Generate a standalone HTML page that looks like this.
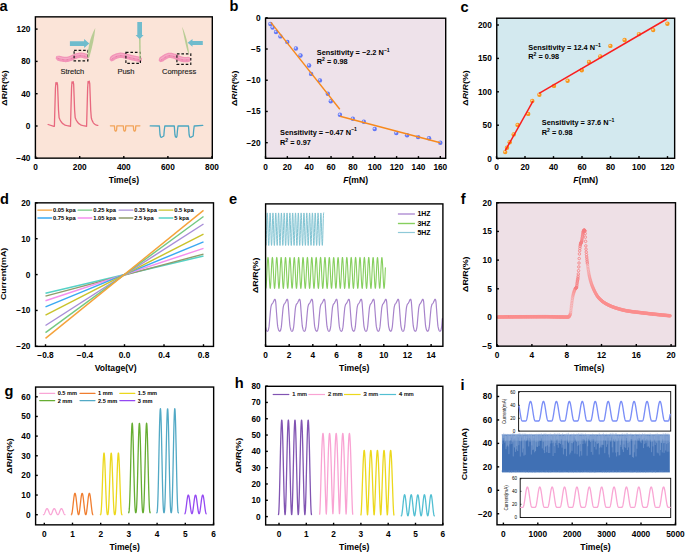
<!DOCTYPE html>
<html><head><meta charset="utf-8"><style>
html,body{margin:0;padding:0;background:#fff;width:685px;height:552px;overflow:hidden}
svg{display:block;font-family:"Liberation Sans", sans-serif}
</style></head><body>
<svg width="685" height="552" viewBox="0 0 685 552">
<rect x="35.4" y="16.85" width="176.9" height="141.3" fill="#fbe4d8"/>
<line x1="35.6" y1="158.15" x2="35.6" y2="155.95" stroke="#000" stroke-width="1.4"/>
<text x="35.6" y="170.05" font-size="8.3" text-anchor="middle" font-weight="bold" fill="#000">0</text>
<line x1="79.7" y1="158.15" x2="79.7" y2="155.95" stroke="#000" stroke-width="1.4"/>
<text x="79.7" y="170.05" font-size="8.3" text-anchor="middle" font-weight="bold" fill="#000">200</text>
<line x1="123.8" y1="158.15" x2="123.8" y2="155.95" stroke="#000" stroke-width="1.4"/>
<text x="123.8" y="170.05" font-size="8.3" text-anchor="middle" font-weight="bold" fill="#000">400</text>
<line x1="167.9" y1="158.15" x2="167.9" y2="155.95" stroke="#000" stroke-width="1.4"/>
<text x="167.9" y="170.05" font-size="8.3" text-anchor="middle" font-weight="bold" fill="#000">600</text>
<line x1="212" y1="158.15" x2="212" y2="155.95" stroke="#000" stroke-width="1.4"/>
<text x="212" y="170.05" font-size="8.3" text-anchor="middle" font-weight="bold" fill="#000">800</text>
<line x1="35.4" y1="158.3" x2="37.6" y2="158.3" stroke="#000" stroke-width="1.4"/>
<text x="30.4" y="161.29" font-size="8.3" text-anchor="end" font-weight="bold" fill="#000">−40</text>
<line x1="35.4" y1="126" x2="37.6" y2="126" stroke="#000" stroke-width="1.4"/>
<text x="30.4" y="128.99" font-size="8.3" text-anchor="end" font-weight="bold" fill="#000">0</text>
<line x1="35.4" y1="93.7" x2="37.6" y2="93.7" stroke="#000" stroke-width="1.4"/>
<text x="30.4" y="96.69" font-size="8.3" text-anchor="end" font-weight="bold" fill="#000">40</text>
<line x1="35.4" y1="61.4" x2="37.6" y2="61.4" stroke="#000" stroke-width="1.4"/>
<text x="30.4" y="64.39" font-size="8.3" text-anchor="end" font-weight="bold" fill="#000">80</text>
<line x1="35.4" y1="29.1" x2="37.6" y2="29.1" stroke="#000" stroke-width="1.4"/>
<text x="30.4" y="32.09" font-size="8.3" text-anchor="end" font-weight="bold" fill="#000">120</text>
<path d="M48.1 124.5 L53.9 126.3 L54.4 126.3 L55 104 L55.45 88 L55.9 82.7 L56.5 84.1 L57.05 82.5 L57.55 85 L58 96 L58.5 110 L59.1 117.8 L60.12 120.09 L61.14 121.77 L62.15 123 L63.17 123.9 L64.19 124.57 L65.21 125.05 L66.23 125.41 L67.25 125.67 L68.26 125.87 L69.28 126.01 L70.3 126.11 L70.5 126.3 L71.1 104 L71.55 88 L72 81.8 L72.6 83.2 L73.15 81.6 L73.65 84.1 L74.1 96 L74.6 110 L75.2 117.8 L76.22 120.09 L77.24 121.77 L78.25 123 L79.27 123.9 L80.29 124.57 L81.31 125.05 L82.33 125.41 L83.35 125.67 L84.36 125.87 L85.38 126.01 L86.4 126.11 L86.6 126.3 L87.2 104 L87.65 88 L88.1 81.4 L88.7 82.8 L89.25 81.2 L89.75 83.7 L90.2 96 L90.7 110 L91.3 117.8 L91.89 119.71 L92.48 121.16 L93.07 122.27 L93.66 123.11 L94.25 123.75 L94.85 124.24 L95.44 124.61 L96.03 124.9 L96.62 125.11 L97.21 125.28 L97.8 125.4" fill="none" stroke="#e8687e" stroke-width="1.3" stroke-linejoin="round" stroke-linecap="round"/>
<path d="M110.4 125.8 L114.4 125.8 L114.8 130.2 L115.4 131 L116.1 131 L116.6 130 L116.9 125.8 L123.3 125.8 L123.7 130.2 L124.3 131 L125 131 L125.5 130 L125.8 125.8 L133.3 125.8 L133.7 130.2 L134.3 131 L135 131 L135.5 130 L135.8 125.8 L139.9 125.8" fill="none" stroke="#f2a45a" stroke-width="1.3" stroke-linejoin="round" stroke-linecap="round"/>
<path d="M150.2 125.9 L159.4 126 L160 134.5 L160.6 137 L161.6 137.3 L163.8 136 L164.2 131 L164.8 126 L174.3 126 L174.9 134.5 L175.5 137 L176.5 137.3 L177 136 L177.4 131 L178 126 L188.5 126 L189.1 134.5 L189.7 137 L190.7 137.3 L193.2 136 L193.6 131 L194.2 126 L202.8 125.3" fill="none" stroke="#4ba6c0" stroke-width="1.3" stroke-linejoin="round" stroke-linecap="round"/>
<path d="M55.61 58.29 L55.84 58.64 L56.06 58.97 L56.28 59.28 L56.52 59.58 L56.76 59.88 L57.03 60.17 L57.33 60.45 L57.67 60.67 L58.06 60.81 L58.48 60.94 L58.92 61.06 L59.37 61.18 L59.83 61.28 L60.29 61.39 L60.79 61.49 L61.3 61.6 L61.83 61.71 L62.38 61.8 L62.93 61.9 L63.48 61.98 L64.04 62.05 L64.6 62.1 L65.15 62.14 L65.7 62.15 L66.23 62.14 L66.74 62.1 L67.23 62.05 L67.71 61.97 L68.16 61.89 L68.59 61.79 L69 61.68 L69.39 61.57 L69.76 61.46 L70.12 61.34 L70.46 61.23 L70.82 61.12 L71.22 60.98 L71.64 60.83 L72.03 60.67 L72.41 60.51 L72.77 60.35 L73.11 60.19 L73.44 60.03 L73.75 59.89 L74.06 59.75 L74.36 59.61 L74.65 59.49 L74.96 59.37 L75.31 59.23 L75.69 59.09 L76.06 58.94 L76.42 58.8 L76.78 58.66 L77.12 58.53 L77.46 58.41 L77.79 58.31 L78.1 58.21 L78.4 58.13 L78.68 58.06 L78.95 58.01 L79.26 57.96 L79.57 57.92 L79.87 57.89 L80.16 57.86 L80.44 57.85 L80.72 57.84 L81 57.84 L81.28 57.85 L81.57 57.87 L81.87 57.9 L82.18 57.95 L82.49 58 L82.8 58.07 L83.14 58.16 L83.5 58.27 L83.9 58.4 L84.31 58.55 L84.75 58.71 L85.23 58.8 L85.77 58.8 L86.32 58.79 L86.89 58.76 L87.46 58.72 L88.03 58.63 L88.97 55.97 L88.62 55.55 L88.25 55.16 L87.88 54.77 L87.49 54.39 L87.08 54.02 L86.63 53.75 L86.13 53.57 L85.62 53.39 L85.11 53.22 L84.58 53.06 L84.04 52.92 L83.51 52.8 L83 52.71 L82.52 52.64 L82.04 52.59 L81.57 52.56 L81.11 52.54 L80.66 52.54 L80.21 52.55 L79.77 52.58 L79.34 52.61 L78.91 52.66 L78.49 52.72 L78.05 52.79 L77.57 52.88 L77.09 52.99 L76.63 53.12 L76.18 53.26 L75.74 53.4 L75.31 53.55 L74.9 53.71 L74.5 53.86 L74.12 54.01 L73.75 54.15 L73.4 54.29 L73.04 54.43 L72.65 54.58 L72.26 54.75 L71.88 54.91 L71.53 55.08 L71.19 55.23 L70.87 55.39 L70.56 55.53 L70.27 55.66 L69.99 55.78 L69.72 55.89 L69.46 55.99 L69.18 56.08 L68.85 56.18 L68.52 56.29 L68.2 56.39 L67.89 56.48 L67.6 56.57 L67.33 56.64 L67.06 56.7 L66.79 56.75 L66.53 56.79 L66.26 56.82 L65.99 56.84 L65.7 56.85 L65.39 56.84 L65.03 56.82 L64.63 56.78 L64.2 56.73 L63.75 56.66 L63.29 56.58 L62.82 56.5 L62.35 56.41 L61.89 56.31 L61.44 56.21 L61.01 56.12 L60.63 56.02 L60.29 55.94 L59.99 55.86 L59.7 55.76 L59.41 55.67 L59.1 55.65 L58.75 55.7 L58.4 55.74 L58.02 55.79 L57.64 55.84 L57.24 55.91 L56.82 56 L56.39 56.11Z" fill="#f295b8"/>
<path d="M56.96 56.66 L57.27 56.79 L57.58 56.91 L57.89 57.03 L58.21 57.15 L58.54 57.27 L58.88 57.39 L59.23 57.5 L59.61 57.6 L60 57.7 L60.42 57.8 L60.87 57.9 L61.34 58 L61.83 58.1 L62.33 58.2 L62.83 58.29 L63.34 58.38 L63.84 58.45 L64.33 58.51 L64.81 58.56 L65.27 58.59 L65.7 58.6 L66.11 58.59 L66.5 58.56 L66.88 58.52 L67.25 58.46 L67.61 58.39 L67.96 58.31 L68.3 58.22 L68.64 58.13 L68.98 58.02 L69.32 57.92 L69.66 57.81 L70 57.7 L70.34 57.59 L70.68 57.46 L71.01 57.33 L71.34 57.19 L71.66 57.04 L71.99 56.89 L72.31 56.73 L72.64 56.58 L72.97 56.43 L73.31 56.28 L73.65 56.14 L74 56 L74.36 55.86 L74.72 55.72 L75.09 55.58 L75.46 55.43 L75.84 55.28 L76.22 55.14 L76.6 55.01 L76.98 54.88 L77.36 54.76 L77.74 54.66 L78.12 54.57 L78.5 54.5 L78.87 54.44 L79.24 54.39 L79.6 54.35 L79.96 54.32 L80.32 54.3 L80.69 54.29 L81.05 54.29 L81.43 54.3 L81.8 54.33 L82.19 54.37 L82.59 54.43 L83 54.5 L83.42 54.59 L83.86 54.71 L84.3 54.84 L84.76 54.99 L85.22 55.16 L85.69 55.33 L86.16 55.51 L86.63 55.7 L87.1 55.88" fill="none" stroke="#f8b4cc" stroke-width="1.1" opacity="0.7"/>
<path d="M57.89 58.33 L58.21 58.45 L58.54 58.57 L58.88 58.69 L59.23 58.8 L59.61 58.9 L60 59 L60.42 59.1 L60.87 59.2 L61.34 59.3 L61.83 59.4 L62.33 59.5 L62.83 59.59 L63.34 59.68 L63.84 59.75 L64.33 59.81 L64.81 59.86 L65.27 59.89 L65.7 59.9 L66.11 59.89 L66.5 59.86 L66.88 59.82 L67.25 59.76 L67.61 59.69 L67.96 59.61 L68.3 59.52 L68.64 59.43 L68.98 59.32 L69.32 59.22 L69.66 59.11 L70 59 L70.34 58.89 L70.68 58.76 L71.01 58.63 L71.34 58.49 L71.66 58.34 L71.99 58.19 L72.31 58.03 L72.64 57.88 L72.97 57.73 L73.31 57.58 L73.65 57.44 L74 57.3 L74.36 57.16 L74.72 57.02 L75.09 56.88 L75.46 56.73 L75.84 56.58 L76.22 56.44 L76.6 56.31 L76.98 56.18 L77.36 56.06 L77.74 55.96 L78.12 55.87 L78.5 55.8 L78.87 55.74 L79.24 55.69 L79.6 55.65 L79.96 55.62 L80.32 55.6 L80.69 55.59 L81.05 55.59 L81.43 55.6 L81.8 55.63 L82.19 55.67 L82.59 55.73 L83 55.8 L83.42 55.89 L83.86 56.01 L84.3 56.14 L84.76 56.29 L85.22 56.46 L85.69 56.63 L86.16 56.81 L86.63 57" fill="none" stroke="#d86a92" stroke-width="0.6" stroke-dasharray="1.5 3" opacity="0.8"/>
<rect x="74.1" y="50.4" width="13.8" height="10.4" fill="none" stroke="#111" stroke-width="1.15" stroke-dasharray="2.6 1.9"/>
<path d="M 87.5 57.5 C 87.8 49, 89.6 38, 95.3 27.9 C 94.6 36, 92.6 46, 89.3 57.5 Z" fill="#b9cc95"/>
<polygon points="69.9,41.3 84.1,41.3 84.1,39.0 89.3,43.5 84.1,47.9 84.1,46.1 69.9,46.1" fill="#70bccd"/>
<text x="72.4" y="74" font-size="7.5" text-anchor="middle" font-weight="normal" fill="#1a1a1a" stroke="#1a1a1a" stroke-width="0.12">Stretch</text>
<path d="M111.22 61.41 L111.73 61.32 L112.21 61.18 L112.66 61.02 L113.09 60.85 L113.48 60.71 L113.85 60.58 L114.13 60.41 L114.32 60.21 L114.51 60.03 L114.71 59.87 L114.9 59.73 L115.13 59.59 L115.43 59.43 L115.78 59.25 L116.18 59.07 L116.6 58.9 L117.04 58.72 L117.49 58.56 L117.95 58.41 L118.4 58.28 L118.85 58.16 L119.27 58.06 L119.67 57.98 L120.03 57.93 L120.34 57.9 L120.65 57.89 L120.95 57.89 L121.26 57.91 L121.58 57.94 L121.92 57.99 L122.28 58.05 L122.66 58.12 L123.07 58.21 L123.51 58.3 L123.99 58.4 L124.46 58.5 L124.92 58.59 L125.38 58.7 L125.87 58.82 L126.39 58.96 L126.91 59.11 L127.45 59.26 L128 59.42 L128.56 59.58 L129.12 59.74 L129.67 59.89 L130.23 60.04 L130.77 60.17 L131.3 60.3 L131.81 60.42 L132.31 60.53 L132.8 60.63 L133.29 60.73 L133.77 60.83 L134.23 60.93 L134.69 61.02 L135.14 61.11 L135.58 61.21 L136.01 61.3 L136.43 61.39 L136.85 61.48 L137.26 61.57 L137.67 61.67 L138.07 61.76 L138.46 61.85 L138.85 61.94 L139.24 62.03 L139.67 61.97 L140.11 61.83 L140.56 61.67 L141.02 61.49 L141.48 61.28 L142.12 58.52 L141.79 58.13 L141.46 57.77 L141.13 57.43 L140.79 57.1 L140.44 56.87 L140.05 56.77 L139.65 56.68 L139.25 56.59 L138.84 56.5 L138.43 56.4 L138.01 56.31 L137.57 56.21 L137.12 56.11 L136.67 56.02 L136.21 55.92 L135.75 55.83 L135.29 55.74 L134.83 55.64 L134.37 55.55 L133.91 55.45 L133.44 55.35 L132.97 55.24 L132.5 55.14 L132.03 55.03 L131.55 54.91 L131.06 54.78 L130.55 54.63 L130.01 54.48 L129.47 54.32 L128.91 54.16 L128.35 54 L127.78 53.85 L127.21 53.69 L126.64 53.55 L126.07 53.42 L125.54 53.3 L125.06 53.21 L124.61 53.11 L124.15 53.02 L123.69 52.92 L123.21 52.83 L122.72 52.75 L122.21 52.68 L121.68 52.63 L121.13 52.59 L120.56 52.59 L119.97 52.61 L119.37 52.67 L118.77 52.76 L118.17 52.88 L117.57 53.02 L116.97 53.18 L116.37 53.35 L115.77 53.55 L115.18 53.76 L114.61 53.98 L114.05 54.22 L113.51 54.47 L112.99 54.73 L112.47 55.01 L111.96 55.33 L111.47 55.67 L111.03 56.04 L110.64 56.4 L110.29 56.76 L110.04 57.16 L109.9 57.61 L109.79 58.05 L109.72 58.47 L109.66 58.89 L109.63 59.32 L109.58 59.79Z" fill="#f295b8"/>
<path d="M111.19 58.84 L111.44 58.55 L111.69 58.26 L111.94 57.97 L112.21 57.68 L112.48 57.4 L112.77 57.13 L113.09 56.87 L113.43 56.63 L113.8 56.4 L114.21 56.18 L114.65 55.96 L115.11 55.75 L115.6 55.54 L116.11 55.34 L116.63 55.16 L117.16 54.98 L117.69 54.83 L118.21 54.69 L118.72 54.57 L119.22 54.47 L119.7 54.4 L120.16 54.36 L120.61 54.34 L121.04 54.34 L121.47 54.37 L121.9 54.41 L122.32 54.47 L122.74 54.54 L123.17 54.62 L123.61 54.71 L124.06 54.81 L124.52 54.9 L125 55 L125.5 55.1 L126.01 55.23 L126.54 55.36 L127.08 55.5 L127.63 55.66 L128.18 55.81 L128.73 55.97 L129.29 56.13 L129.83 56.28 L130.37 56.43 L130.89 56.57 L131.4 56.7 L131.9 56.82 L132.39 56.93 L132.88 57.04 L133.36 57.14 L133.83 57.24 L134.3 57.34 L134.76 57.43 L135.22 57.53 L135.68 57.62 L136.12 57.71 L136.56 57.81 L137 57.9 L137.43 58 L137.85 58.09 L138.26 58.18 L138.66 58.27 L139.06 58.37 L139.45 58.46 L139.84 58.55 L140.23 58.64 L140.62 58.73" fill="none" stroke="#f8b4cc" stroke-width="1.1" opacity="0.7"/>
<path d="M111.94 59.27 L112.21 58.98 L112.48 58.7 L112.77 58.43 L113.09 58.17 L113.43 57.93 L113.8 57.7 L114.21 57.48 L114.65 57.26 L115.11 57.05 L115.6 56.84 L116.11 56.64 L116.63 56.46 L117.16 56.28 L117.69 56.13 L118.21 55.99 L118.72 55.87 L119.22 55.77 L119.7 55.7 L120.16 55.66 L120.61 55.64 L121.04 55.64 L121.47 55.67 L121.9 55.71 L122.32 55.77 L122.74 55.84 L123.17 55.92 L123.61 56.01 L124.06 56.11 L124.52 56.2 L125 56.3 L125.5 56.4 L126.01 56.53 L126.54 56.66 L127.08 56.8 L127.63 56.96 L128.18 57.11 L128.73 57.27 L129.29 57.43 L129.83 57.58 L130.37 57.73 L130.89 57.87 L131.4 58 L131.9 58.12 L132.39 58.23 L132.88 58.34 L133.36 58.44 L133.83 58.54 L134.3 58.64 L134.76 58.73 L135.22 58.83 L135.68 58.92 L136.12 59.01 L136.56 59.11 L137 59.2 L137.43 59.3 L137.85 59.39 L138.26 59.48 L138.66 59.57 L139.06 59.67 L139.45 59.76 L139.84 59.85 L140.23 59.94" fill="none" stroke="#d86a92" stroke-width="0.6" stroke-dasharray="1.5 3" opacity="0.8"/>
<rect x="125.9" y="52.4" width="14.5" height="11.0" fill="none" stroke="#111" stroke-width="1.15" stroke-dasharray="2.6 1.9"/>
<path d="M 139.0 38.5 L 140.6 38.5 L 140.8 60.0 L 139.4 60.0 Z" fill="#b9cc95"/>
<polygon points="137.3,22.1 142.0,22.1 142.0,35.1 143.6,35.1 139.7,39.3 135.6,35.1 137.3,35.1" fill="#70bccd"/>
<text x="126" y="73.7" font-size="7.5" text-anchor="middle" font-weight="normal" fill="#1a1a1a" stroke="#1a1a1a" stroke-width="0.12">Push</text>
<path d="M160.16 62.17 L160.62 62.11 L161.05 62.02 L161.47 61.91 L161.86 61.81 L162.23 61.7 L162.58 61.61 L162.92 61.52 L163.2 61.39 L163.43 61.2 L163.67 61.02 L163.93 60.83 L164.24 60.62 L164.64 60.37 L165.07 60.09 L165.52 59.81 L165.97 59.52 L166.44 59.24 L166.9 58.97 L167.35 58.73 L167.79 58.51 L168.2 58.32 L168.58 58.17 L168.9 58.07 L169.17 58.01 L169.41 57.98 L169.7 57.97 L170.03 57.98 L170.39 58.02 L170.78 58.08 L171.19 58.16 L171.62 58.26 L172.06 58.37 L172.5 58.49 L172.95 58.62 L173.39 58.75 L173.8 58.86 L174.1 58.94 L174.33 59.02 L174.54 59.1 L174.75 59.18 L174.95 59.28 L175.17 59.38 L175.41 59.5 L175.67 59.64 L175.96 59.78 L176.28 59.94 L176.64 60.1 L177 60.25 L177.33 60.38 L177.64 60.51 L177.98 60.65 L178.32 60.8 L178.68 60.94 L179.06 61.09 L179.44 61.24 L179.84 61.39 L180.24 61.52 L180.66 61.66 L181.08 61.78 L181.51 61.88 L181.92 61.97 L182.32 62.04 L182.71 62.1 L183.1 62.15 L183.48 62.19 L183.85 62.21 L184.22 62.23 L184.59 62.25 L184.95 62.25 L185.31 62.25 L185.67 62.25 L186.05 62.25 L186.45 62.24 L186.88 62.22 L187.29 62.19 L187.71 62.16 L188.12 62.12 L188.53 62.08 L188.92 61.95 L189.3 61.71 L189.66 61.46 L190.02 61.19 L190.38 60.91 L190.73 60.61 L190.47 57.79 L190.05 57.56 L189.63 57.36 L189.2 57.18 L188.78 57.01 L188.37 56.85 L187.98 56.81 L187.61 56.85 L187.25 56.88 L186.91 56.91 L186.58 56.93 L186.26 56.94 L185.95 56.95 L185.63 56.95 L185.32 56.95 L185.01 56.95 L184.73 56.95 L184.45 56.94 L184.19 56.92 L183.93 56.91 L183.68 56.88 L183.43 56.85 L183.19 56.81 L182.94 56.77 L182.69 56.72 L182.44 56.66 L182.19 56.58 L181.91 56.49 L181.62 56.39 L181.31 56.28 L180.99 56.16 L180.67 56.03 L180.34 55.89 L180 55.75 L179.66 55.61 L179.32 55.47 L179 55.35 L178.75 55.24 L178.54 55.14 L178.31 55.04 L178.08 54.92 L177.82 54.79 L177.54 54.64 L177.23 54.49 L176.88 54.33 L176.5 54.17 L176.09 54.01 L175.64 53.87 L175.2 53.74 L174.8 53.64 L174.39 53.52 L173.93 53.39 L173.42 53.25 L172.88 53.11 L172.31 52.98 L171.7 52.86 L171.06 52.76 L170.4 52.69 L169.7 52.67 L168.98 52.7 L168.23 52.79 L167.5 52.96 L166.81 53.18 L166.15 53.44 L165.51 53.72 L164.89 54.03 L164.3 54.35 L163.74 54.68 L163.2 55.01 L162.69 55.33 L162.21 55.63 L161.77 55.91 L161.36 56.18 L160.93 56.46 L160.51 56.76 L160.12 57.06 L159.76 57.36 L159.5 57.71 L159.31 58.1 L159.15 58.49 L159.02 58.87 L158.92 59.24 L158.82 59.62 L158.73 60.01 L158.64 60.43Z" fill="#f295b8"/>
<path d="M160.19 59.68 L160.44 59.44 L160.69 59.2 L160.94 58.96 L161.21 58.72 L161.48 58.47 L161.77 58.23 L162.09 57.99 L162.43 57.75 L162.8 57.5 L163.2 57.24 L163.64 56.96 L164.1 56.67 L164.59 56.36 L165.09 56.06 L165.6 55.76 L166.12 55.48 L166.65 55.21 L167.17 54.98 L167.69 54.78 L168.2 54.61 L168.7 54.5 L169.19 54.44 L169.7 54.42 L170.21 54.44 L170.73 54.49 L171.24 54.57 L171.75 54.67 L172.25 54.78 L172.74 54.91 L173.21 55.04 L173.67 55.17 L174.1 55.29 L174.5 55.4 L174.87 55.5 L175.21 55.62 L175.52 55.73 L175.81 55.86 L176.09 55.98 L176.36 56.11 L176.62 56.24 L176.87 56.38 L177.14 56.51 L177.41 56.64 L177.69 56.77 L178 56.9 L178.32 57.03 L178.65 57.16 L178.99 57.3 L179.33 57.44 L179.68 57.59 L180.02 57.72 L180.38 57.86 L180.73 57.99 L181.07 58.11 L181.42 58.22 L181.76 58.32 L182.1 58.4 L182.43 58.47 L182.75 58.53 L183.07 58.58 L183.39 58.61 L183.7 58.65 L184.02 58.67 L184.34 58.69 L184.66 58.7 L184.98 58.7 L185.31 58.7 L185.65 58.7 L186 58.7 L186.36 58.69 L186.73 58.67 L187.1 58.65 L187.48 58.62 L187.87 58.58 L188.26 58.54 L188.65 58.5 L189.04 58.46 L189.43 58.42" fill="none" stroke="#f8b4cc" stroke-width="1.1" opacity="0.7"/>
<path d="M160.94 60.26 L161.21 60.02 L161.48 59.77 L161.77 59.53 L162.09 59.29 L162.43 59.05 L162.8 58.8 L163.2 58.54 L163.64 58.26 L164.1 57.97 L164.59 57.66 L165.09 57.36 L165.6 57.06 L166.12 56.78 L166.65 56.51 L167.17 56.28 L167.69 56.08 L168.2 55.91 L168.7 55.8 L169.19 55.74 L169.7 55.72 L170.21 55.74 L170.73 55.79 L171.24 55.87 L171.75 55.97 L172.25 56.08 L172.74 56.21 L173.21 56.34 L173.67 56.47 L174.1 56.59 L174.5 56.7 L174.87 56.8 L175.21 56.92 L175.52 57.03 L175.81 57.16 L176.09 57.28 L176.36 57.41 L176.62 57.54 L176.87 57.68 L177.14 57.81 L177.41 57.94 L177.69 58.07 L178 58.2 L178.32 58.33 L178.65 58.46 L178.99 58.6 L179.33 58.74 L179.68 58.89 L180.02 59.02 L180.38 59.16 L180.73 59.29 L181.07 59.41 L181.42 59.52 L181.76 59.62 L182.1 59.7 L182.43 59.77 L182.75 59.83 L183.07 59.88 L183.39 59.91 L183.7 59.95 L184.02 59.97 L184.34 59.99 L184.66 60 L184.98 60 L185.31 60 L185.65 60 L186 60 L186.36 59.99 L186.73 59.97 L187.1 59.95 L187.48 59.92 L187.87 59.88 L188.26 59.84 L188.65 59.8 L189.04 59.76" fill="none" stroke="#d86a92" stroke-width="0.6" stroke-dasharray="1.5 3" opacity="0.8"/>
<rect x="176.9" y="53.8" width="13.9" height="10.6" fill="none" stroke="#111" stroke-width="1.15" stroke-dasharray="2.6 1.9"/>
<path d="M 182.0 26.8 C 185.8 34, 188.0 44, 189.2 54.0 C 187.6 54.0, 185.6 44, 182.0 26.8 Z" fill="#b9cc95"/>
<polygon points="187.6,42.8 192.5,39.1 192.5,40.9 202.8,40.9 202.8,44.9 192.5,44.9 192.5,46.7" fill="#70bccd"/>
<text x="179.1" y="74" font-size="7.5" text-anchor="middle" font-weight="normal" fill="#1a1a1a" stroke="#1a1a1a" stroke-width="0.12">Compress</text>
<rect x="35.4" y="16.85" width="176.9" height="141.3" fill="none" stroke="#000" stroke-width="1.4"/>
<text transform="translate(7.24 88) rotate(-90) scale(1.17 1)" font-size="7.6" text-anchor="middle" font-weight="bold">ΔR/R(%)</text>
<text x="123.85" y="183.1" font-size="8.6" text-anchor="middle" font-weight="bold" fill="#000">Time(s)</text>
<text x="-0.6" y="10.9" font-size="14.6" text-anchor="start" font-weight="bold" fill="#000">a</text>
<rect x="265.55" y="18.2" width="180.15" height="140.1" fill="#eee2ea"/>
<line x1="265.5" y1="158.3" x2="265.5" y2="156.1" stroke="#000" stroke-width="1.4"/>
<text x="265.5" y="170.2" font-size="8.3" text-anchor="middle" font-weight="bold" fill="#000">0</text>
<line x1="287.35" y1="158.3" x2="287.35" y2="156.1" stroke="#000" stroke-width="1.4"/>
<text x="287.35" y="170.2" font-size="8.3" text-anchor="middle" font-weight="bold" fill="#000">20</text>
<line x1="309.2" y1="158.3" x2="309.2" y2="156.1" stroke="#000" stroke-width="1.4"/>
<text x="309.2" y="170.2" font-size="8.3" text-anchor="middle" font-weight="bold" fill="#000">40</text>
<line x1="331.05" y1="158.3" x2="331.05" y2="156.1" stroke="#000" stroke-width="1.4"/>
<text x="331.05" y="170.2" font-size="8.3" text-anchor="middle" font-weight="bold" fill="#000">60</text>
<line x1="352.9" y1="158.3" x2="352.9" y2="156.1" stroke="#000" stroke-width="1.4"/>
<text x="352.9" y="170.2" font-size="8.3" text-anchor="middle" font-weight="bold" fill="#000">80</text>
<line x1="374.75" y1="158.3" x2="374.75" y2="156.1" stroke="#000" stroke-width="1.4"/>
<text x="374.75" y="170.2" font-size="8.3" text-anchor="middle" font-weight="bold" fill="#000">100</text>
<line x1="396.6" y1="158.3" x2="396.6" y2="156.1" stroke="#000" stroke-width="1.4"/>
<text x="396.6" y="170.2" font-size="8.3" text-anchor="middle" font-weight="bold" fill="#000">120</text>
<line x1="418.45" y1="158.3" x2="418.45" y2="156.1" stroke="#000" stroke-width="1.4"/>
<text x="418.45" y="170.2" font-size="8.3" text-anchor="middle" font-weight="bold" fill="#000">140</text>
<line x1="440.3" y1="158.3" x2="440.3" y2="156.1" stroke="#000" stroke-width="1.4"/>
<text x="440.3" y="170.2" font-size="8.3" text-anchor="middle" font-weight="bold" fill="#000">160</text>
<line x1="265.55" y1="17.8" x2="267.75" y2="17.8" stroke="#000" stroke-width="1.4"/>
<text x="260.55" y="20.79" font-size="8.3" text-anchor="end" font-weight="bold" fill="#000">0</text>
<line x1="265.55" y1="49.02" x2="267.75" y2="49.02" stroke="#000" stroke-width="1.4"/>
<text x="260.55" y="52.01" font-size="8.3" text-anchor="end" font-weight="bold" fill="#000">−5</text>
<line x1="265.55" y1="80.24" x2="267.75" y2="80.24" stroke="#000" stroke-width="1.4"/>
<text x="260.55" y="83.23" font-size="8.3" text-anchor="end" font-weight="bold" fill="#000">−10</text>
<line x1="265.55" y1="111.46" x2="267.75" y2="111.46" stroke="#000" stroke-width="1.4"/>
<text x="260.55" y="114.45" font-size="8.3" text-anchor="end" font-weight="bold" fill="#000">−15</text>
<line x1="265.55" y1="142.68" x2="267.75" y2="142.68" stroke="#000" stroke-width="1.4"/>
<text x="260.55" y="145.67" font-size="8.3" text-anchor="end" font-weight="bold" fill="#000">−20</text>
<circle cx="270.4" cy="24" r="2.2" fill="#6277f5"/>
<circle cx="269.9" cy="23.4" r="0.92" fill="#dfe4ff" opacity="0.85"/>
<circle cx="272.6" cy="27.6" r="2.2" fill="#6277f5"/>
<circle cx="272.1" cy="27" r="0.92" fill="#dfe4ff" opacity="0.85"/>
<circle cx="276" cy="32" r="2.2" fill="#6277f5"/>
<circle cx="275.5" cy="31.4" r="0.92" fill="#dfe4ff" opacity="0.85"/>
<circle cx="280.4" cy="36.4" r="2.2" fill="#6277f5"/>
<circle cx="279.9" cy="35.8" r="0.92" fill="#dfe4ff" opacity="0.85"/>
<circle cx="287.3" cy="41.9" r="2.2" fill="#6277f5"/>
<circle cx="286.8" cy="41.3" r="0.92" fill="#dfe4ff" opacity="0.85"/>
<circle cx="295.9" cy="48.5" r="2.2" fill="#6277f5"/>
<circle cx="295.4" cy="47.9" r="0.92" fill="#dfe4ff" opacity="0.85"/>
<circle cx="300.5" cy="55.5" r="2.2" fill="#6277f5"/>
<circle cx="300" cy="54.9" r="0.92" fill="#dfe4ff" opacity="0.85"/>
<circle cx="309.1" cy="65.5" r="2.2" fill="#6277f5"/>
<circle cx="308.6" cy="64.9" r="0.92" fill="#dfe4ff" opacity="0.85"/>
<circle cx="311.1" cy="73.9" r="2.2" fill="#6277f5"/>
<circle cx="310.6" cy="73.3" r="0.92" fill="#dfe4ff" opacity="0.85"/>
<circle cx="319.9" cy="80.4" r="2.2" fill="#6277f5"/>
<circle cx="319.4" cy="79.8" r="0.92" fill="#dfe4ff" opacity="0.85"/>
<circle cx="327.8" cy="93.8" r="2.2" fill="#6277f5"/>
<circle cx="327.3" cy="93.2" r="0.92" fill="#dfe4ff" opacity="0.85"/>
<circle cx="330.8" cy="101.2" r="2.2" fill="#6277f5"/>
<circle cx="330.3" cy="100.6" r="0.92" fill="#dfe4ff" opacity="0.85"/>
<circle cx="339.9" cy="114.8" r="2.2" fill="#6277f5"/>
<circle cx="339.4" cy="114.2" r="0.92" fill="#dfe4ff" opacity="0.85"/>
<circle cx="352.8" cy="118.8" r="2.2" fill="#6277f5"/>
<circle cx="352.3" cy="118.2" r="0.92" fill="#dfe4ff" opacity="0.85"/>
<circle cx="363.8" cy="121.7" r="2.2" fill="#6277f5"/>
<circle cx="363.3" cy="121.1" r="0.92" fill="#dfe4ff" opacity="0.85"/>
<circle cx="374.7" cy="129" r="2.2" fill="#6277f5"/>
<circle cx="374.2" cy="128.4" r="0.92" fill="#dfe4ff" opacity="0.85"/>
<circle cx="396.3" cy="133.1" r="2.2" fill="#6277f5"/>
<circle cx="395.8" cy="132.5" r="0.92" fill="#dfe4ff" opacity="0.85"/>
<circle cx="407.1" cy="135.2" r="2.2" fill="#6277f5"/>
<circle cx="406.6" cy="134.6" r="0.92" fill="#dfe4ff" opacity="0.85"/>
<circle cx="418.1" cy="137.1" r="2.2" fill="#6277f5"/>
<circle cx="417.6" cy="136.5" r="0.92" fill="#dfe4ff" opacity="0.85"/>
<circle cx="429" cy="138.3" r="2.2" fill="#6277f5"/>
<circle cx="428.5" cy="137.7" r="0.92" fill="#dfe4ff" opacity="0.85"/>
<circle cx="440.3" cy="142.8" r="2.2" fill="#6277f5"/>
<circle cx="439.8" cy="142.2" r="0.92" fill="#dfe4ff" opacity="0.85"/>
<path d="M270.9 22.4 L339.8 109.3" fill="none" stroke="#f7891d" stroke-width="1.4" stroke-linejoin="round" stroke-linecap="butt"/>
<path d="M340 116.3 L440.3 142.8" fill="none" stroke="#f7891d" stroke-width="1.4" stroke-linejoin="round" stroke-linecap="butt"/>
<rect x="265.55" y="18.2" width="180.15" height="140.1" fill="none" stroke="#000" stroke-width="1.4"/>
<text transform="translate(236.54 88.3) rotate(-90) scale(1.17 1)" font-size="7.6" text-anchor="middle" font-weight="bold">Δ<tspan font-style="italic">R</tspan>/<tspan font-style="italic">R</tspan>(%)</text>
<text x="355.62" y="183.1" font-size="8.6" text-anchor="middle" font-weight="bold" fill="#000"><tspan font-style="italic">F</tspan>(mN)</text>
<text x="316.8" y="54.7" font-size="7.35" text-anchor="start" font-weight="bold" fill="#000">Sensitivity = −2.2 N<tspan font-size="5.2" dy="-3.1">−1</tspan></text>
<text x="316.8" y="63.9" font-size="7.35" text-anchor="start" font-weight="bold" fill="#000">R<tspan font-size="5.2" dy="-3.1">2</tspan><tspan dy="3.1"> = 0.98</tspan></text>
<text x="280" y="134.5" font-size="7.35" text-anchor="start" font-weight="bold" fill="#000">Sensitivity = −0.47 N<tspan font-size="5.2" dy="-3.1">−1</tspan></text>
<text x="280" y="145" font-size="7.35" text-anchor="start" font-weight="bold" fill="#000">R<tspan font-size="5.2" dy="-3.1">2</tspan><tspan dy="3.1"> = 0.97</tspan></text>
<text x="229.6" y="10.8" font-size="14.6" text-anchor="start" font-weight="bold" fill="#000">b</text>
<rect x="496.75" y="18.2" width="177.9" height="140.1" fill="#d3e9ef"/>
<line x1="496.5" y1="158.3" x2="496.5" y2="156.1" stroke="#000" stroke-width="1.4"/>
<text x="496.5" y="170.2" font-size="8.3" text-anchor="middle" font-weight="bold" fill="#000">0</text>
<line x1="525" y1="158.3" x2="525" y2="156.1" stroke="#000" stroke-width="1.4"/>
<text x="525" y="170.2" font-size="8.3" text-anchor="middle" font-weight="bold" fill="#000">20</text>
<line x1="553.5" y1="158.3" x2="553.5" y2="156.1" stroke="#000" stroke-width="1.4"/>
<text x="553.5" y="170.2" font-size="8.3" text-anchor="middle" font-weight="bold" fill="#000">40</text>
<line x1="582" y1="158.3" x2="582" y2="156.1" stroke="#000" stroke-width="1.4"/>
<text x="582" y="170.2" font-size="8.3" text-anchor="middle" font-weight="bold" fill="#000">60</text>
<line x1="610.5" y1="158.3" x2="610.5" y2="156.1" stroke="#000" stroke-width="1.4"/>
<text x="610.5" y="170.2" font-size="8.3" text-anchor="middle" font-weight="bold" fill="#000">80</text>
<line x1="639" y1="158.3" x2="639" y2="156.1" stroke="#000" stroke-width="1.4"/>
<text x="639" y="170.2" font-size="8.3" text-anchor="middle" font-weight="bold" fill="#000">100</text>
<line x1="667.5" y1="158.3" x2="667.5" y2="156.1" stroke="#000" stroke-width="1.4"/>
<text x="667.5" y="170.2" font-size="8.3" text-anchor="middle" font-weight="bold" fill="#000">120</text>
<line x1="496.75" y1="158.6" x2="498.95" y2="158.6" stroke="#000" stroke-width="1.4"/>
<text x="491.75" y="161.59" font-size="8.3" text-anchor="end" font-weight="bold" fill="#000">0</text>
<line x1="496.75" y1="125.2" x2="498.95" y2="125.2" stroke="#000" stroke-width="1.4"/>
<text x="491.75" y="128.19" font-size="8.3" text-anchor="end" font-weight="bold" fill="#000">50</text>
<line x1="496.75" y1="91.8" x2="498.95" y2="91.8" stroke="#000" stroke-width="1.4"/>
<text x="491.75" y="94.79" font-size="8.3" text-anchor="end" font-weight="bold" fill="#000">100</text>
<line x1="496.75" y1="58.4" x2="498.95" y2="58.4" stroke="#000" stroke-width="1.4"/>
<text x="491.75" y="61.39" font-size="8.3" text-anchor="end" font-weight="bold" fill="#000">150</text>
<line x1="496.75" y1="25" x2="498.95" y2="25" stroke="#000" stroke-width="1.4"/>
<text x="491.75" y="27.99" font-size="8.3" text-anchor="end" font-weight="bold" fill="#000">200</text>
<circle cx="505.2" cy="152.1" r="2.2" fill="#f7961c"/>
<circle cx="504.7" cy="151.5" r="0.92" fill="#ffe0a8" opacity="0.85"/>
<circle cx="507" cy="147.8" r="2.2" fill="#f7961c"/>
<circle cx="506.5" cy="147.2" r="0.92" fill="#ffe0a8" opacity="0.85"/>
<circle cx="509.7" cy="142.2" r="2.2" fill="#f7961c"/>
<circle cx="509.2" cy="141.6" r="0.92" fill="#ffe0a8" opacity="0.85"/>
<circle cx="513.7" cy="134.4" r="2.2" fill="#f7961c"/>
<circle cx="513.2" cy="133.8" r="0.92" fill="#ffe0a8" opacity="0.85"/>
<circle cx="517.6" cy="124.9" r="2.2" fill="#f7961c"/>
<circle cx="517.1" cy="124.3" r="0.92" fill="#ffe0a8" opacity="0.85"/>
<circle cx="528.2" cy="113.9" r="2.2" fill="#f7961c"/>
<circle cx="527.7" cy="113.3" r="0.92" fill="#ffe0a8" opacity="0.85"/>
<circle cx="532.3" cy="100.9" r="2.2" fill="#f7961c"/>
<circle cx="531.8" cy="100.3" r="0.92" fill="#ffe0a8" opacity="0.85"/>
<circle cx="539.4" cy="94.8" r="2.2" fill="#f7961c"/>
<circle cx="538.9" cy="94.2" r="0.92" fill="#ffe0a8" opacity="0.85"/>
<circle cx="554" cy="85.9" r="2.2" fill="#f7961c"/>
<circle cx="553.5" cy="85.3" r="0.92" fill="#ffe0a8" opacity="0.85"/>
<circle cx="567.6" cy="80.8" r="2.2" fill="#f7961c"/>
<circle cx="567.1" cy="80.2" r="0.92" fill="#ffe0a8" opacity="0.85"/>
<circle cx="581.8" cy="70.2" r="2.2" fill="#f7961c"/>
<circle cx="581.3" cy="69.6" r="0.92" fill="#ffe0a8" opacity="0.85"/>
<circle cx="589" cy="62" r="2.2" fill="#f7961c"/>
<circle cx="588.5" cy="61.4" r="0.92" fill="#ffe0a8" opacity="0.85"/>
<circle cx="600.3" cy="56.4" r="2.2" fill="#f7961c"/>
<circle cx="599.8" cy="55.8" r="0.92" fill="#ffe0a8" opacity="0.85"/>
<circle cx="610.4" cy="45.9" r="2.2" fill="#f7961c"/>
<circle cx="609.9" cy="45.3" r="0.92" fill="#ffe0a8" opacity="0.85"/>
<circle cx="624.6" cy="40" r="2.2" fill="#f7961c"/>
<circle cx="624.1" cy="39.4" r="0.92" fill="#ffe0a8" opacity="0.85"/>
<circle cx="638.9" cy="34.1" r="2.2" fill="#f7961c"/>
<circle cx="638.4" cy="33.5" r="0.92" fill="#ffe0a8" opacity="0.85"/>
<circle cx="653.2" cy="30.1" r="2.2" fill="#f7961c"/>
<circle cx="652.7" cy="29.5" r="0.92" fill="#ffe0a8" opacity="0.85"/>
<circle cx="667.4" cy="23.7" r="2.2" fill="#f7961c"/>
<circle cx="666.9" cy="23.1" r="0.92" fill="#ffe0a8" opacity="0.85"/>
<path d="M505.2 150.7 L533 101.2" fill="none" stroke="#fa1e1e" stroke-width="1.5" stroke-linejoin="round" stroke-linecap="butt"/>
<path d="M539.1 93.4 L666.9 19" fill="none" stroke="#fa1e1e" stroke-width="1.5" stroke-linejoin="round" stroke-linecap="butt"/>
<rect x="496.75" y="18.2" width="177.9" height="140.1" fill="none" stroke="#000" stroke-width="1.4"/>
<text transform="translate(468.04 88) rotate(-90) scale(1.17 1)" font-size="7.6" text-anchor="middle" font-weight="bold">Δ<tspan font-style="italic">R</tspan>/<tspan font-style="italic">R</tspan>(%)</text>
<text x="585.7" y="183.1" font-size="8.6" text-anchor="middle" font-weight="bold" fill="#000"><tspan font-style="italic">F</tspan>(mN)</text>
<text x="528.3" y="49.7" font-size="7.35" text-anchor="start" font-weight="bold" fill="#000">Sensitivity = 12.4 N<tspan font-size="5.2" dy="-3.1">−1</tspan></text>
<text x="528.3" y="59" font-size="7.35" text-anchor="start" font-weight="bold" fill="#000">R<tspan font-size="5.2" dy="-3.1">2</tspan><tspan dy="3.1"> = 0.98</tspan></text>
<text x="541.8" y="125.3" font-size="7.35" text-anchor="start" font-weight="bold" fill="#000">Sensitivity = 37.6 N<tspan font-size="5.2" dy="-3.1">−1</tspan></text>
<text x="541.8" y="134.6" font-size="7.35" text-anchor="start" font-weight="bold" fill="#000">R<tspan font-size="5.2" dy="-3.1">2</tspan><tspan dy="3.1"> = 0.98</tspan></text>
<text x="460.6" y="12" font-size="14.6" text-anchor="start" font-weight="bold" fill="#000">c</text>
<line x1="45.5" y1="346.4" x2="45.5" y2="344.2" stroke="#000" stroke-width="1.4"/>
<text x="45.5" y="358.3" font-size="8.3" text-anchor="middle" font-weight="bold" fill="#000">−0.8</text>
<line x1="85" y1="346.4" x2="85" y2="344.2" stroke="#000" stroke-width="1.4"/>
<text x="85" y="358.3" font-size="8.3" text-anchor="middle" font-weight="bold" fill="#000">−0.4</text>
<line x1="124.5" y1="346.4" x2="124.5" y2="344.2" stroke="#000" stroke-width="1.4"/>
<text x="124.5" y="358.3" font-size="8.3" text-anchor="middle" font-weight="bold" fill="#000">0.0</text>
<line x1="164" y1="346.4" x2="164" y2="344.2" stroke="#000" stroke-width="1.4"/>
<text x="164" y="358.3" font-size="8.3" text-anchor="middle" font-weight="bold" fill="#000">0.4</text>
<line x1="203.5" y1="346.4" x2="203.5" y2="344.2" stroke="#000" stroke-width="1.4"/>
<text x="203.5" y="358.3" font-size="8.3" text-anchor="middle" font-weight="bold" fill="#000">0.8</text>
<line x1="35.45" y1="346.29" x2="37.65" y2="346.29" stroke="#000" stroke-width="1.4"/>
<text x="30.45" y="349.28" font-size="8.3" text-anchor="end" font-weight="bold" fill="#000">−20</text>
<line x1="35.45" y1="310.44" x2="37.65" y2="310.44" stroke="#000" stroke-width="1.4"/>
<text x="30.45" y="313.42" font-size="8.3" text-anchor="end" font-weight="bold" fill="#000">−10</text>
<line x1="35.45" y1="274.57" x2="37.65" y2="274.57" stroke="#000" stroke-width="1.4"/>
<text x="30.45" y="277.56" font-size="8.3" text-anchor="end" font-weight="bold" fill="#000">0</text>
<line x1="35.45" y1="238.71" x2="37.65" y2="238.71" stroke="#000" stroke-width="1.4"/>
<text x="30.45" y="241.7" font-size="8.3" text-anchor="end" font-weight="bold" fill="#000">10</text>
<line x1="35.45" y1="202.85" x2="37.65" y2="202.85" stroke="#000" stroke-width="1.4"/>
<text x="30.45" y="205.84" font-size="8.3" text-anchor="end" font-weight="bold" fill="#000">20</text>
<path d="M45.5 293.22 L203.5 255.93" fill="none" stroke="#55d2c6" stroke-width="1.45" stroke-linejoin="round" stroke-linecap="butt"/>
<path d="M45.5 296.09 L203.5 254.13" fill="none" stroke="#8f9c6c" stroke-width="1.45" stroke-linejoin="round" stroke-linecap="butt"/>
<path d="M45.5 300.75 L203.5 248.4" fill="none" stroke="#f590ee" stroke-width="1.45" stroke-linejoin="round" stroke-linecap="butt"/>
<path d="M45.5 306.85 L203.5 241.94" fill="none" stroke="#3aa9f2" stroke-width="1.45" stroke-linejoin="round" stroke-linecap="butt"/>
<path d="M45.5 315.1 L203.5 234.05" fill="none" stroke="#c9c32c" stroke-width="1.45" stroke-linejoin="round" stroke-linecap="butt"/>
<path d="M45.5 325.5 L203.5 224.01" fill="none" stroke="#a98fd8" stroke-width="1.45" stroke-linejoin="round" stroke-linecap="butt"/>
<path d="M45.5 332.67 L203.5 216.48" fill="none" stroke="#74c982" stroke-width="1.45" stroke-linejoin="round" stroke-linecap="butt"/>
<path d="M45.5 338.41 L203.5 210.39" fill="none" stroke="#f5a23a" stroke-width="1.45" stroke-linejoin="round" stroke-linecap="butt"/>
<path d="M37.9 210.2 L51.6 210.2" fill="none" stroke="#f5a23a" stroke-width="1.3" stroke-linejoin="round" stroke-linecap="round"/>
<text x="53" y="212.2" font-size="5.75" text-anchor="start" font-weight="bold" fill="#000">0.05 kpa</text>
<path d="M78.1 210.2 L91.8 210.2" fill="none" stroke="#74c982" stroke-width="1.3" stroke-linejoin="round" stroke-linecap="round"/>
<text x="93.2" y="212.2" font-size="5.75" text-anchor="start" font-weight="bold" fill="#000">0.25 kpa</text>
<path d="M119.1 210.2 L132.8 210.2" fill="none" stroke="#a98fd8" stroke-width="1.3" stroke-linejoin="round" stroke-linecap="round"/>
<text x="134.2" y="212.2" font-size="5.75" text-anchor="start" font-weight="bold" fill="#000">0.35 kpa</text>
<path d="M159.1 210.2 L172.8 210.2" fill="none" stroke="#c9c32c" stroke-width="1.3" stroke-linejoin="round" stroke-linecap="round"/>
<text x="174.2" y="212.2" font-size="5.75" text-anchor="start" font-weight="bold" fill="#000">0.5 kpa</text>
<path d="M37.9 218 L51.6 218" fill="none" stroke="#3aa9f2" stroke-width="1.3" stroke-linejoin="round" stroke-linecap="round"/>
<text x="53" y="220" font-size="5.75" text-anchor="start" font-weight="bold" fill="#000">0.75 kpa</text>
<path d="M78.1 218 L91.8 218" fill="none" stroke="#f590ee" stroke-width="1.3" stroke-linejoin="round" stroke-linecap="round"/>
<text x="93.2" y="220" font-size="5.75" text-anchor="start" font-weight="bold" fill="#000">1.05 kpa</text>
<path d="M119.1 218 L132.8 218" fill="none" stroke="#8f9c6c" stroke-width="1.3" stroke-linejoin="round" stroke-linecap="round"/>
<text x="134.2" y="220" font-size="5.75" text-anchor="start" font-weight="bold" fill="#000">2.5 kpa</text>
<path d="M159.1 218 L172.8 218" fill="none" stroke="#55d2c6" stroke-width="1.3" stroke-linejoin="round" stroke-linecap="round"/>
<text x="174.2" y="220" font-size="5.75" text-anchor="start" font-weight="bold" fill="#000">5 kpa</text>
<rect x="35.45" y="202.85" width="178.05" height="143.55" fill="none" stroke="#000" stroke-width="1.4"/>
<text transform="translate(6.44 273.9) rotate(-90) scale(1.17 1)" font-size="7.6" text-anchor="middle" font-weight="bold">Current(mA)</text>
<text x="115.7" y="371.3" font-size="8.6" text-anchor="middle" font-weight="bold" fill="#000">Voltage(V)</text>
<text x="0" y="203.7" font-size="14.6" text-anchor="start" font-weight="bold" fill="#000">d</text>
<line x1="265.5" y1="346.3" x2="265.5" y2="344.1" stroke="#000" stroke-width="1.4"/>
<text x="265.5" y="358.2" font-size="8.3" text-anchor="middle" font-weight="bold" fill="#000">0</text>
<line x1="289.16" y1="346.3" x2="289.16" y2="344.1" stroke="#000" stroke-width="1.4"/>
<text x="289.16" y="358.2" font-size="8.3" text-anchor="middle" font-weight="bold" fill="#000">2</text>
<line x1="312.82" y1="346.3" x2="312.82" y2="344.1" stroke="#000" stroke-width="1.4"/>
<text x="312.82" y="358.2" font-size="8.3" text-anchor="middle" font-weight="bold" fill="#000">4</text>
<line x1="336.48" y1="346.3" x2="336.48" y2="344.1" stroke="#000" stroke-width="1.4"/>
<text x="336.48" y="358.2" font-size="8.3" text-anchor="middle" font-weight="bold" fill="#000">6</text>
<line x1="360.14" y1="346.3" x2="360.14" y2="344.1" stroke="#000" stroke-width="1.4"/>
<text x="360.14" y="358.2" font-size="8.3" text-anchor="middle" font-weight="bold" fill="#000">8</text>
<line x1="383.8" y1="346.3" x2="383.8" y2="344.1" stroke="#000" stroke-width="1.4"/>
<text x="383.8" y="358.2" font-size="8.3" text-anchor="middle" font-weight="bold" fill="#000">10</text>
<line x1="407.46" y1="346.3" x2="407.46" y2="344.1" stroke="#000" stroke-width="1.4"/>
<text x="407.46" y="358.2" font-size="8.3" text-anchor="middle" font-weight="bold" fill="#000">12</text>
<line x1="431.12" y1="346.3" x2="431.12" y2="344.1" stroke="#000" stroke-width="1.4"/>
<text x="431.12" y="358.2" font-size="8.3" text-anchor="middle" font-weight="bold" fill="#000">14</text>
<path d="M265.6 327.46 L265.8 328.31 L266 329.15 L266.2 329.87 L266.4 330.32 L266.6 330.6 L266.8 330.86 L267 331.12 L267.2 331.28 L267.4 331.26 L267.6 331.14 L267.8 331.01 L268 330.86 L268.2 330.51 L268.4 329.81 L268.6 328.94 L268.8 328.02 L269 326.89 L269.2 325.14 L269.4 322.91 L269.6 320.59 L269.8 318.29 L270 316.03 L270.2 313.84 L270.4 311.67 L270.6 309.55 L270.8 307.81 L271 306.72 L271.2 305.94 L271.4 305.2 L271.6 304.55 L271.8 304.15 L272 303.92 L272.2 303.73 L272.4 303.53 L272.6 303.29 L272.8 302.96 L273 302.58 L273.2 302.19 L273.4 301.79 L273.6 301.39 L273.8 300.96 L274 300.51 L274.2 300.06 L274.4 299.66 L274.6 299.39 L274.8 299.26 L275 299.25 L275.2 299.56 L275.4 300.21 L275.6 301.13 L275.8 302.83 L276 305.4 L276.2 308.24 L276.4 311.07 L276.6 313.8 L276.8 316.37 L277 318.87 L277.2 321.35 L277.4 323.77 L277.6 325.69 L277.8 326.88 L278 327.76 L278.2 328.61 L278.4 329.43 L278.6 330.06 L278.8 330.43 L279 330.69 L279.2 330.96 L279.4 331.19 L279.6 331.29 L279.8 331.23 L280 331.1 L280.2 330.97 L280.4 330.77 L280.6 330.31 L280.8 329.51 L281 328.62 L281.2 327.68 L281.4 326.36 L281.6 324.39 L281.8 322.1 L282 319.78 L282.2 317.49 L282.4 315.26 L282.6 313.08 L282.8 310.91 L283 308.87 L283.2 307.36 L283.4 306.44 L283.6 305.68 L283.8 304.95 L284 304.38 L284.2 304.06 L284.4 303.85 L284.6 303.66 L284.8 303.45 L285 303.19 L285.2 302.83 L285.4 302.44 L285.6 302.05 L285.8 301.65 L286 301.24 L286.2 300.8 L286.4 300.35 L286.6 299.91 L286.8 299.54 L287 299.34 L287.2 299.23 L287.4 299.31 L287.6 299.76 L287.8 300.48 L288 301.6 L288.2 303.66 L288.4 306.39 L288.6 309.23 L288.8 312.04 L289 314.72 L289.2 317.25 L289.4 319.74 L289.6 322.22 L289.8 324.52 L290 326.18 L290.2 327.2 L290.4 328.05 L290.6 328.9 L290.8 329.68 L291 330.21 L291.2 330.52 L291.4 330.79 L291.6 331.04 L291.8 331.25 L292 331.28 L292.2 331.18 L292.4 331.05 L292.6 330.91 L292.8 330.65 L293 330.05 L293.2 329.21 L293.4 328.3 L293.6 327.28 L293.8 325.74 L294 323.6 L294.2 321.29 L294.4 318.98 L294.6 316.7 L294.8 314.5 L295 312.32 L295.2 310.17 L295.4 308.27 L295.6 306.99 L295.8 306.17 L296 305.42 L296.2 304.73 L296.4 304.24 L296.6 303.98 L296.8 303.78 L297 303.59 L297.2 303.37 L297.4 303.07 L297.6 302.7 L297.8 302.3 L298 301.91 L298.2 301.51 L298.4 301.09 L298.6 300.64 L298.8 300.19 L299 299.77 L299.2 299.45 L299.4 299.29 L299.6 299.23 L299.8 299.42 L300 299.99 L300.2 300.8 L300.4 302.21 L300.6 304.58 L300.8 307.38 L301 310.22 L301.2 313 L301.4 315.61 L301.6 318.12 L301.8 320.61 L302 323.07 L302.2 325.2 L302.4 326.58 L302.6 327.5 L302.8 328.35 L303 329.19 L303.2 329.9 L303.4 330.33 L303.6 330.62 L303.8 330.88 L304 331.13 L304.2 331.28 L304.4 331.26 L304.6 331.14 L304.8 331.01 L305 330.85 L305.2 330.49 L305.4 329.77 L305.6 328.89 L305.8 327.98 L306 326.82 L306.2 325.04 L306.4 322.8 L306.6 320.48 L306.8 318.17 L307 315.92 L307.2 313.73 L307.4 311.56 L307.6 309.45 L307.8 307.74 L308 306.68 L308.2 305.91 L308.4 305.17 L308.6 304.53 L308.8 304.14 L309 303.91 L309.2 303.72 L309.4 303.52 L309.6 303.28 L309.8 302.95 L310 302.56 L310.2 302.17 L310.4 301.77 L310.6 301.37 L310.8 300.93 L311 300.49 L311.2 300.04 L311.4 299.64 L311.6 299.38 L311.8 299.26 L312 299.25 L312.2 299.59 L312.4 300.24 L312.6 301.19 L312.8 302.94 L313 305.54 L313.2 308.38 L313.4 311.21 L313.6 313.93 L313.8 316.5 L314 318.99 L314.2 321.48 L314.4 323.88 L314.6 325.77 L314.8 326.93 L315 327.8 L315.2 328.65 L315.4 329.46 L315.6 330.08 L315.8 330.44 L316 330.71 L316.2 330.97 L316.4 331.2 L316.6 331.29 L316.8 331.22 L317 331.09 L317.2 330.96 L317.4 330.76 L317.6 330.27 L317.8 329.47 L318 328.58 L318.2 327.62 L318.4 326.28 L318.6 324.28 L318.8 321.99 L319 319.67 L319.2 317.38 L319.4 315.15 L319.6 312.97 L319.8 310.81 L320 308.78 L320.2 307.31 L320.4 306.4 L320.6 305.64 L320.8 304.92 L321 304.36 L321.2 304.05 L321.4 303.84 L321.6 303.65 L321.8 303.44 L322 303.17 L322.2 302.81 L322.4 302.42 L322.6 302.03 L322.8 301.63 L323 301.22 L323.2 300.78 L323.4 300.33 L323.6 299.89 L323.8 299.53 L324 299.33 L324.2 299.23 L324.4 299.31 L324.6 299.79 L324.8 300.53 L325 301.68 L325.2 303.79 L325.4 306.53 L325.6 309.37 L325.8 312.18 L326 314.84 L326.2 317.37 L326.4 319.86 L326.6 322.34 L326.8 324.63 L327 326.24 L327.2 327.24 L327.4 328.1 L327.6 328.94 L327.8 329.71 L328 330.23 L328.2 330.54 L328.4 330.8 L328.6 331.06 L328.8 331.26 L329 331.28 L329.2 331.18 L329.4 331.05 L329.6 330.91 L329.8 330.63 L330 330.02 L330.2 329.16 L330.4 328.26 L330.6 327.22 L330.8 325.64 L331 323.49 L331.2 321.17 L331.4 318.86 L331.6 316.59 L331.8 314.39 L332 312.21 L332.2 310.07 L332.4 308.18 L332.6 306.95 L332.8 306.13 L333 305.38 L333.2 304.7 L333.4 304.23 L333.6 303.97 L333.8 303.77 L334 303.58 L334.2 303.36 L334.4 303.05 L334.6 302.68 L334.8 302.29 L335 301.89 L335.2 301.49 L335.4 301.07 L335.6 300.62 L335.8 300.17 L336 299.75 L336.2 299.44 L336.4 299.29 L336.6 299.23 L336.8 299.44 L337 300.03 L337.2 300.85 L337.4 302.3 L337.6 304.72 L337.8 307.53 L338 310.36 L338.2 313.13 L338.4 315.74 L338.6 318.24 L338.8 320.73 L339 323.19 L339.2 325.28 L339.4 326.63 L339.6 327.54 L339.8 328.4 L340 329.23 L340.2 329.93 L340.4 330.35 L340.6 330.63 L340.8 330.89 L341 331.14 L341.2 331.29 L341.4 331.25 L341.6 331.13 L341.8 331 L342 330.84 L342.2 330.46 L342.4 329.73 L342.6 328.85 L342.8 327.93 L343 326.75 L343.2 324.93 L343.4 322.68 L343.6 320.36 L343.8 318.06 L344 315.81 L344.2 313.62 L344.4 311.45 L344.6 309.35 L344.8 307.67 L345 306.64 L345.2 305.87 L345.4 305.13 L345.6 304.5 L345.8 304.12 L346 303.9 L346.2 303.71 L346.4 303.5 L346.6 303.26 L346.8 302.93 L347 302.54 L347.2 302.15 L347.4 301.75 L347.6 301.35 L347.8 300.91 L348 300.46 L348.2 300.02 L348.4 299.62 L348.6 299.38 L348.8 299.25 L349 299.26 L349.2 299.61 L349.4 300.28 L349.6 301.25 L349.8 303.06 L350 305.68 L350.2 308.52 L350.4 311.35 L350.6 314.06 L350.8 316.62 L351 319.11 L351.2 321.6 L351.4 323.99 L351.6 325.84 L351.8 326.97 L352 327.84 L352.2 328.69 L352.4 329.5 L352.6 330.1 L352.8 330.45 L353 330.72 L353.2 330.98 L353.4 331.21 L353.6 331.29 L353.8 331.21 L354 331.08 L354.2 330.95 L354.4 330.74 L354.6 330.24 L354.8 329.43 L355 328.53 L355.2 327.57 L355.4 326.19 L355.6 324.17 L355.8 321.87 L356 319.55 L356.2 317.26 L356.4 315.04 L356.6 312.86 L356.8 310.7 L357 308.69 L357.2 307.25 L357.4 306.36 L357.6 305.61 L357.8 304.89 L358 304.34 L358.2 304.04 L358.4 303.83 L358.6 303.64 L358.8 303.43 L359 303.15 L359.2 302.79 L359.4 302.4 L359.6 302.01 L359.8 301.61 L360 301.2 L360.2 300.76 L360.4 300.31 L360.6 299.87 L360.8 299.52 L361 299.32 L361.2 299.23 L361.4 299.31 L361.6 299.82 L361.8 300.57 L362 301.76 L362.2 303.92 L362.4 306.67 L362.6 309.52 L362.8 312.32 L363 314.97 L363.2 317.5 L363.4 319.99 L363.6 322.46 L363.8 324.73 L364 326.3 L364.2 327.29 L364.4 328.14 L364.6 328.99 L364.8 329.74 L365 330.25 L365.2 330.55 L365.4 330.81 L365.6 331.07 L365.8 331.26 L366 331.28 L366.2 331.17 L366.4 331.04 L366.6 330.9 L366.8 330.61 L367 329.98 L367.2 329.12 L367.4 328.21 L367.6 327.16 L367.8 325.54 L368 323.37 L368.2 321.06 L368.4 318.75 L368.6 316.48 L368.8 314.28 L369 312.1 L369.2 309.96 L369.4 308.11 L369.6 306.9 L369.8 306.09 L370 305.35 L370.2 304.67 L370.4 304.21 L370.6 303.96 L370.8 303.76 L371 303.57 L371.2 303.34 L371.4 303.04 L371.6 302.66 L371.8 302.27 L372 301.87 L372.2 301.47 L372.4 301.04 L372.6 300.6 L372.8 300.15 L373 299.73 L373.2 299.43 L373.4 299.28 L373.6 299.23 L373.8 299.46 L374 300.06 L374.2 300.9 L374.4 302.41 L374.6 304.85 L374.8 307.67 L375 310.5 L375.2 313.27 L375.4 315.87 L375.6 318.37 L375.8 320.86 L376 323.3 L376.2 325.37 L376.4 326.68 L376.6 327.59 L376.8 328.44 L377 329.27 L377.2 329.95 L377.4 330.37 L377.6 330.64 L377.8 330.9 L378 331.15 L378.2 331.29 L378.4 331.25 L378.6 331.12 L378.8 330.99 L379 330.83 L379.2 330.43 L379.4 329.69 L379.6 328.8 L379.8 327.88 L380 326.68 L380.2 324.82 L380.4 322.57 L380.6 320.25 L380.8 317.94 L381 315.7 L381.2 313.52 L381.4 311.35 L381.6 309.25 L381.8 307.61 L382 306.6 L382.2 305.83 L382.4 305.09 L382.6 304.48 L382.8 304.11 L383 303.89 L383.2 303.7 L383.4 303.49 L383.6 303.25 L383.8 302.91 L384 302.52 L384.2 302.13 L384.4 301.73 L384.6 301.32 L384.8 300.89 L385 300.44 L385.2 300 L385.4 299.61 L385.6 299.37 L385.8 299.25 L386 299.27 L386.2 299.64 L386.4 300.32 L386.6 301.32 L386.8 303.18 L387 305.82 L387.2 308.66 L387.4 311.49 L387.6 314.2 L387.8 316.75 L388 319.24 L388.2 321.73 L388.4 324.1 L388.6 325.91 L388.8 327.02 L389 327.88 L389.2 328.73 L389.4 329.54 L389.6 330.13 L389.8 330.47 L390 330.73 L390.2 330.99 L390.4 331.22 L390.6 331.29 L390.8 331.21 L391 331.08 L391.2 330.94 L391.4 330.73 L391.6 330.2 L391.8 329.38 L392 328.49 L392.2 327.51 L392.4 326.1 L392.6 324.05 L392.8 321.75 L393 319.44 L393.2 317.15 L393.4 314.93 L393.6 312.76 L393.8 310.59 L394 308.6 L394.2 307.2 L394.4 306.32 L394.6 305.57 L394.8 304.85 L395 304.32 L395.2 304.03 L395.4 303.82 L395.6 303.63 L395.8 303.42 L396 303.14 L396.2 302.77 L396.4 302.38 L396.6 301.99 L396.8 301.59 L397 301.17 L397.2 300.73 L397.4 300.28 L397.6 299.85 L397.8 299.5 L398 299.32 L398.2 299.23 L398.4 299.31 L398.6 299.86 L398.8 300.61 L399 301.85 L399.2 304.05 L399.4 306.81 L399.6 309.66 L399.8 312.45 L400 315.1 L400.2 317.62 L400.4 320.11 L400.6 322.59 L400.8 324.82 L401 326.36 L401.2 327.33 L401.4 328.18 L401.6 329.03 L401.8 329.78 L402 330.27 L402.2 330.56 L402.4 330.83 L402.6 331.08 L402.8 331.27 L403 331.27 L403.2 331.16 L403.4 331.03 L403.6 330.89 L403.8 330.59 L404 329.94 L404.2 329.07 L404.4 328.17 L404.6 327.09 L404.8 325.44 L405 323.26 L405.2 320.94 L405.4 318.63 L405.6 316.37 L405.8 314.17 L406 312 L406.2 309.86 L406.4 308.03 L406.6 306.85 L406.8 306.06 L407 305.31 L407.2 304.64 L407.4 304.19 L407.6 303.95 L407.8 303.75 L408 303.56 L408.2 303.33 L408.4 303.02 L408.6 302.64 L408.8 302.25 L409 301.85 L409.2 301.45 L409.4 301.02 L409.6 300.58 L409.8 300.13 L410 299.71 L410.2 299.42 L410.4 299.28 L410.6 299.23 L410.8 299.49 L411 300.1 L411.2 300.96 L411.4 302.51 L411.6 304.99 L411.8 307.81 L412 310.65 L412.2 313.4 L412.4 315.99 L412.6 318.49 L412.8 320.98 L413 323.42 L413.2 325.46 L413.4 326.73 L413.6 327.63 L413.8 328.48 L414 329.31 L414.2 329.98 L414.4 330.38 L414.6 330.65 L414.8 330.92 L415 331.16 L415.2 331.29 L415.4 331.24 L415.6 331.12 L415.8 330.99 L416 330.81 L416.2 330.4 L416.4 329.65 L416.6 328.76 L416.8 327.83 L417 326.6 L417.2 324.72 L417.4 322.45 L417.6 320.13 L417.8 317.83 L418 315.59 L418.2 313.41 L418.4 311.24 L418.6 309.16 L418.8 307.54 L419 306.56 L419.2 305.79 L419.4 305.06 L419.6 304.45 L419.8 304.1 L420 303.88 L420.2 303.69 L420.4 303.48 L420.6 303.23 L420.8 302.89 L421 302.5 L421.2 302.11 L421.4 301.71 L421.6 301.3 L421.8 300.87 L422 300.42 L422.2 299.97 L422.4 299.59 L422.6 299.36 L422.8 299.24 L423 299.27 L423.2 299.67 L423.4 300.36 L423.6 301.39 L423.8 303.29 L424 305.96 L424.2 308.81 L424.4 311.63 L424.6 314.33 L424.8 316.87 L425 319.36 L425.2 321.85 L425.4 324.21 L425.6 325.98 L425.8 327.06 L426 327.93 L426.2 328.78 L426.4 329.57 L426.6 330.15 L426.8 330.48 L427 330.75 L427.2 331.01 L427.4 331.23 L427.6 331.29 L427.8 331.2 L428 331.07 L428.2 330.94 L428.4 330.71 L428.6 330.17 L428.8 329.34 L429 328.44 L429.2 327.46 L429.4 326.01 L429.6 323.94 L429.8 321.64 L430 319.32 L430.2 317.04 L430.4 314.82 L430.6 312.65 L430.8 310.49 L431 308.52 L431.2 307.14 L431.4 306.28 L431.6 305.53 L431.8 304.82 L432 304.3 L432.2 304.02 L432.4 303.81 L432.6 303.62 L432.8 303.4 L433 303.12 L433.2 302.76 L433.4 302.36 L433.6 301.97 L433.8 301.57 L434 301.15 L434.2 300.71 L434.4 300.26 L434.6 299.83 L434.8 299.49 L435 299.31 L435.2 299.23 L435.4 299.37 L435.6 299.89 L435.8 300.66 L436 301.93 L436.2 304.18 L436.4 306.96 L436.6 309.8 L436.8 312.59 L437 315.23 L437.2 317.75 L437.4 320.23 L437.6 322.71 L437.8 324.92 L438 326.42 L438.2 327.37 L438.4 328.22 L438.6 329.07 L438.8 329.81 L439 330.28 L439.2 330.58 L439.4 330.84 L439.6 331.09 L439.8 331.27 L440 331.27 L440.2 331.16 L440.4 331.03 L440.6 330.88 L440.8 330.56 L441 329.9 L441.2 329.03 L441.4 328.12 L441.6 327.03 L441.8 325.34 L442 323.14 L442.2 320.83 L442.4 318.52" fill="none" stroke="#a783cb" stroke-width="1.2" stroke-linejoin="round" stroke-linecap="round"/>
<path d="M265.6 287.7 L265.8 288.4 L266 287.83 L266.2 286.04 L266.4 283.17 L266.6 279.47 L266.8 275.23 L267 270.79 L267.2 266.53 L267.4 262.8 L267.6 259.88 L267.8 258.03 L268 257.4 L268.2 258.03 L268.4 259.88 L268.6 262.8 L268.8 266.53 L269 270.79 L269.2 275.23 L269.4 279.47 L269.6 283.17 L269.8 286.04 L270 287.83 L270.2 288.4 L270.4 287.7 L270.6 285.8 L270.8 282.83 L271 279.06 L271.2 274.79 L271.4 270.35 L271.6 266.13 L271.8 262.46 L272 259.65 L272.2 257.91 L272.4 257.41 L272.6 258.17 L272.8 260.13 L273 263.14 L273.2 266.94 L273.4 271.24 L273.6 275.66 L273.8 279.87 L274 283.5 L274.2 286.27 L274.4 287.94 L274.6 288.39 L274.8 287.56 L275 285.54 L275.2 282.49 L275.4 278.65 L275.6 274.34 L275.8 269.92 L276 265.73 L276.2 262.14 L276.4 259.42 L276.6 257.81 L276.8 257.43 L277 258.31 L277.2 260.39 L277.4 263.49 L277.6 267.36 L277.8 271.68 L278 276.1 L278.2 280.26 L278.4 283.82 L278.6 286.49 L278.8 288.04 L279 288.36 L279.2 287.41 L279.4 285.28 L279.6 282.14 L279.8 278.24 L280 273.9 L280.2 269.48 L280.4 265.34 L280.6 261.82 L280.8 259.21 L281 257.71 L281.2 257.46 L281.4 258.47 L281.6 260.65 L281.8 263.84 L282 267.77 L282.2 272.12 L282.4 276.53 L282.6 280.65 L282.8 284.13 L283 286.7 L283.2 288.13 L283.4 288.32 L283.6 287.25 L283.8 285.01 L284 281.78 L284.2 277.82 L284.4 273.46 L284.6 269.05 L284.8 264.96 L285 261.52 L285.2 259 L285.4 257.63 L285.6 257.5 L285.8 258.63 L286 260.93 L286.2 264.21 L286.4 268.19 L286.6 272.57 L286.8 276.97 L287 281.03 L287.2 284.43 L287.4 286.89 L287.6 288.21 L287.8 288.27 L288 287.08 L288.2 284.73 L288.4 281.41 L288.6 277.39 L288.8 273.01 L289 268.62 L289.2 264.58 L289.4 261.22 L289.6 258.81 L289.8 257.56 L290 257.56 L290.2 258.81 L290.4 261.22 L290.6 264.58 L290.8 268.62 L291 273.01 L291.2 277.39 L291.4 281.41 L291.6 284.73 L291.8 287.08 L292 288.27 L292.2 288.21 L292.4 286.89 L292.6 284.43 L292.8 281.03 L293 276.97 L293.2 272.57 L293.4 268.19 L293.6 264.21 L293.8 260.93 L294 258.63 L294.2 257.5 L294.4 257.63 L294.6 259 L294.8 261.52 L295 264.96 L295.2 269.05 L295.4 273.46 L295.6 277.82 L295.8 281.78 L296 285.01 L296.2 287.25 L296.4 288.32 L296.6 288.13 L296.8 286.7 L297 284.13 L297.2 280.65 L297.4 276.53 L297.6 272.12 L297.8 267.77 L298 263.84 L298.2 260.65 L298.4 258.47 L298.6 257.46 L298.8 257.71 L299 259.21 L299.2 261.82 L299.4 265.34 L299.6 269.48 L299.8 273.9 L300 278.24 L300.2 282.14 L300.4 285.28 L300.6 287.41 L300.8 288.36 L301 288.04 L301.2 286.49 L301.4 283.82 L301.6 280.26 L301.8 276.1 L302 271.68 L302.2 267.36 L302.4 263.49 L302.6 260.39 L302.8 258.31 L303 257.43 L303.2 257.81 L303.4 259.42 L303.6 262.14 L303.8 265.73 L304 269.92 L304.2 274.34 L304.4 278.65 L304.6 282.49 L304.8 285.54 L305 287.56 L305.2 288.39 L305.4 287.94 L305.6 286.27 L305.8 283.5 L306 279.87 L306.2 275.66 L306.4 271.24 L306.6 266.94 L306.8 263.14 L307 260.13 L307.2 258.17 L307.4 257.41 L307.6 257.91 L307.8 259.65 L308 262.46 L308.2 266.13 L308.4 270.35 L308.6 274.79 L308.8 279.06 L309 282.83 L309.2 285.8 L309.4 287.7 L309.6 288.4 L309.8 287.83 L310 286.04 L310.2 283.17 L310.4 279.47 L310.6 275.23 L310.8 270.79 L311 266.53 L311.2 262.8 L311.4 259.88 L311.6 258.03 L311.8 257.4 L312 258.03 L312.2 259.88 L312.4 262.8 L312.6 266.53 L312.8 270.79 L313 275.23 L313.2 279.47 L313.4 283.17 L313.6 286.04 L313.8 287.83 L314 288.4 L314.2 287.7 L314.4 285.8 L314.6 282.83 L314.8 279.06 L315 274.79 L315.2 270.35 L315.4 266.13 L315.6 262.46 L315.8 259.65 L316 257.91 L316.2 257.41 L316.4 258.17 L316.6 260.13 L316.8 263.14 L317 266.94 L317.2 271.24 L317.4 275.66 L317.6 279.87 L317.8 283.5 L318 286.27 L318.2 287.94 L318.4 288.39 L318.6 287.56 L318.8 285.54 L319 282.49 L319.2 278.65 L319.4 274.34 L319.6 269.92 L319.8 265.73 L320 262.14 L320.2 259.42 L320.4 257.81 L320.6 257.43 L320.8 258.31 L321 260.39 L321.2 263.49 L321.4 267.36 L321.6 271.68 L321.8 276.1 L322 280.26 L322.2 283.82 L322.4 286.49 L322.6 288.04 L322.8 288.36 L323 287.41 L323.2 285.28 L323.4 282.14 L323.6 278.24 L323.8 273.9 L324 269.48 L324.2 265.34 L324.4 261.82 L324.6 259.21 L324.8 257.71 L325 257.46 L325.2 258.47 L325.4 260.65 L325.6 263.84 L325.8 267.77 L326 272.12 L326.2 276.53 L326.4 280.65 L326.6 284.13 L326.8 286.7 L327 288.13 L327.2 288.32 L327.4 287.25 L327.6 285.01 L327.8 281.78 L328 277.82 L328.2 273.46 L328.4 269.05 L328.6 264.96 L328.8 261.52 L329 259 L329.2 257.63 L329.4 257.5 L329.6 258.63 L329.8 260.93 L330 264.21 L330.2 268.19 L330.4 272.57 L330.6 276.97 L330.8 281.03 L331 284.43 L331.2 286.89 L331.4 288.21 L331.6 288.27 L331.8 287.08 L332 284.73 L332.2 281.41 L332.4 277.39 L332.6 273.01 L332.8 268.62 L333 264.58 L333.2 261.22 L333.4 258.81 L333.6 257.56 L333.8 257.56 L334 258.81 L334.2 261.22 L334.4 264.58 L334.6 268.62 L334.8 273.01 L335 277.39 L335.2 281.41 L335.4 284.73 L335.6 287.08 L335.8 288.27 L336 288.21 L336.2 286.89 L336.4 284.43 L336.6 281.03 L336.8 276.97 L337 272.57 L337.2 268.19 L337.4 264.21 L337.6 260.93 L337.8 258.63 L338 257.5 L338.2 257.63 L338.4 259 L338.6 261.52 L338.8 264.96 L339 269.05 L339.2 273.46 L339.4 277.82 L339.6 281.78 L339.8 285.01 L340 287.25 L340.2 288.32 L340.4 288.13 L340.6 286.7 L340.8 284.13 L341 280.65 L341.2 276.53 L341.4 272.12 L341.6 267.77 L341.8 263.84 L342 260.65 L342.2 258.47 L342.4 257.46 L342.6 257.71 L342.8 259.21 L343 261.82 L343.2 265.34 L343.4 269.48 L343.6 273.9 L343.8 278.24 L344 282.14 L344.2 285.28 L344.4 287.41 L344.6 288.36 L344.8 288.04 L345 286.49 L345.2 283.82 L345.4 280.26 L345.6 276.1 L345.8 271.68 L346 267.36 L346.2 263.49 L346.4 260.39 L346.6 258.31 L346.8 257.43 L347 257.81 L347.2 259.42 L347.4 262.14 L347.6 265.73 L347.8 269.92 L348 274.34 L348.2 278.65 L348.4 282.49 L348.6 285.54 L348.8 287.56 L349 288.39 L349.2 287.94 L349.4 286.27 L349.6 283.5 L349.8 279.87 L350 275.66 L350.2 271.24 L350.4 266.94 L350.6 263.14 L350.8 260.13 L351 258.17 L351.2 257.41 L351.4 257.91 L351.6 259.65 L351.8 262.46 L352 266.13 L352.2 270.35 L352.4 274.79 L352.6 279.06 L352.8 282.83 L353 285.8 L353.2 287.7 L353.4 288.4 L353.6 287.83 L353.8 286.04 L354 283.17 L354.2 279.47 L354.4 275.23 L354.6 270.79 L354.8 266.53 L355 262.8 L355.2 259.88 L355.4 258.03 L355.6 257.4 L355.8 258.03 L356 259.88 L356.2 262.8 L356.4 266.53 L356.6 270.79 L356.8 275.23 L357 279.47 L357.2 283.17 L357.4 286.04 L357.6 287.83 L357.8 288.4 L358 287.7 L358.2 285.8 L358.4 282.83 L358.6 279.06 L358.8 274.79 L359 270.35 L359.2 266.13 L359.4 262.46 L359.6 259.65 L359.8 257.91 L360 257.41 L360.2 258.17 L360.4 260.13 L360.6 263.14 L360.8 266.94 L361 271.24 L361.2 275.66 L361.4 279.87 L361.6 283.5 L361.8 286.27 L362 287.94 L362.2 288.39 L362.4 287.56 L362.6 285.54 L362.8 282.49 L363 278.65 L363.2 274.34 L363.4 269.92 L363.6 265.73 L363.8 262.14 L364 259.42 L364.2 257.81 L364.4 257.43 L364.6 258.31 L364.8 260.39 L365 263.49 L365.2 267.36 L365.4 271.68 L365.6 276.1 L365.8 280.26 L366 283.82 L366.2 286.49 L366.4 288.04 L366.6 288.36 L366.8 287.41 L367 285.28 L367.2 282.14 L367.4 278.24 L367.6 273.9 L367.8 269.48 L368 265.34 L368.2 261.82 L368.4 259.21 L368.6 257.71 L368.8 257.46 L369 258.47 L369.2 260.65 L369.4 263.84 L369.6 267.77 L369.8 272.12 L370 276.53 L370.2 280.65 L370.4 284.13 L370.6 286.7 L370.8 288.13 L371 288.32 L371.2 287.25 L371.4 285.01 L371.6 281.78 L371.8 277.82 L372 273.46 L372.2 269.05 L372.4 264.96 L372.6 261.52 L372.8 259 L373 257.63 L373.2 257.5 L373.4 258.63 L373.6 260.93 L373.8 264.21 L374 268.19 L374.2 272.57 L374.4 276.97 L374.6 281.03 L374.8 284.43 L375 286.89 L375.2 288.21 L375.4 288.27 L375.6 287.08 L375.8 284.73 L376 281.41 L376.2 277.39 L376.4 273.01 L376.6 268.62 L376.8 264.58 L377 261.22 L377.2 258.81 L377.4 257.56 L377.6 257.56 L377.8 258.81 L378 261.22 L378.2 264.58 L378.4 268.62 L378.6 273.01 L378.8 277.39 L379 281.41 L379.2 284.73 L379.4 287.08 L379.6 288.27 L379.8 288.21 L380 286.89 L380.2 284.43 L380.4 281.03 L380.6 276.97 L380.8 272.57 L381 268.19 L381.2 264.21 L381.4 260.93 L381.6 258.63 L381.8 257.5 L382 257.63 L382.2 259 L382.4 261.52 L382.6 264.96 L382.8 269.05 L383 273.46 L383.2 277.82 L383.4 281.78 L383.6 285.01 L383.8 287.25 L384 288.32 L384.2 288.13 L384.4 286.7 L384.6 284.13 L384.8 280.65 L385 276.53 L385.2 272.12 L385.4 267.77" fill="none" stroke="#86cf5e" stroke-width="1.1" stroke-linejoin="round" stroke-linecap="round"/>
<path d="M265.6 242.21 L265.72 244.34 L265.84 245.4 L265.96 245.3 L266.08 244.06 L266.2 241.76 L266.32 238.57 L266.44 234.72 L266.56 230.47 L266.68 226.13 L266.8 222.01 L266.92 218.4 L267.04 215.56 L267.16 213.69 L267.28 212.92 L267.4 213.3 L267.52 214.82 L267.64 217.36 L267.76 220.74 L267.88 224.72 L268 229.02 L268.12 233.33 L268.24 237.35 L268.36 240.79 L268.48 243.41 L268.6 245.01 L268.72 245.5 L268.84 244.82 L268.96 243.04 L269.08 240.27 L269.2 236.71 L269.32 232.62 L269.44 228.29 L269.56 224.03 L269.68 220.13 L269.8 216.87 L269.92 214.49 L270.04 213.16 L270.16 212.96 L270.28 213.92 L270.4 215.97 L270.52 218.96 L270.64 222.67 L270.76 226.85 L270.88 231.19 L271 235.4 L271.12 239.16 L271.24 242.21 L271.36 244.34 L271.48 245.4 L271.6 245.3 L271.72 244.06 L271.84 241.76 L271.96 238.57 L272.08 234.72 L272.2 230.47 L272.32 226.13 L272.44 222.01 L272.56 218.4 L272.68 215.56 L272.8 213.69 L272.92 212.92 L273.04 213.3 L273.16 214.82 L273.28 217.36 L273.4 220.74 L273.52 224.72 L273.64 229.02 L273.76 233.33 L273.88 237.35 L274 240.79 L274.12 243.41 L274.24 245.01 L274.36 245.5 L274.48 244.82 L274.6 243.04 L274.72 240.27 L274.84 236.71 L274.96 232.62 L275.08 228.29 L275.2 224.03 L275.32 220.13 L275.44 216.87 L275.56 214.49 L275.68 213.16 L275.8 212.96 L275.92 213.92 L276.04 215.97 L276.16 218.96 L276.28 222.67 L276.4 226.85 L276.52 231.19 L276.64 235.4 L276.76 239.16 L276.88 242.21 L277 244.34 L277.12 245.4 L277.24 245.3 L277.36 244.06 L277.48 241.76 L277.6 238.57 L277.72 234.72 L277.84 230.47 L277.96 226.13 L278.08 222.01 L278.2 218.4 L278.32 215.56 L278.44 213.69 L278.56 212.92 L278.68 213.3 L278.8 214.82 L278.92 217.36 L279.04 220.74 L279.16 224.72 L279.28 229.02 L279.4 233.33 L279.52 237.35 L279.64 240.79 L279.76 243.41 L279.88 245.01 L280 245.5 L280.12 244.82 L280.24 243.04 L280.36 240.27 L280.48 236.71 L280.6 232.62 L280.72 228.29 L280.84 224.03 L280.96 220.13 L281.08 216.87 L281.2 214.49 L281.32 213.16 L281.44 212.96 L281.56 213.92 L281.68 215.97 L281.8 218.96 L281.92 222.67 L282.04 226.85 L282.16 231.19 L282.28 235.4 L282.4 239.16 L282.52 242.21 L282.64 244.34 L282.76 245.4 L282.88 245.3 L283 244.06 L283.12 241.76 L283.24 238.57 L283.36 234.72 L283.48 230.47 L283.6 226.13 L283.72 222.01 L283.84 218.4 L283.96 215.56 L284.08 213.69 L284.2 212.92 L284.32 213.3 L284.44 214.82 L284.56 217.36 L284.68 220.74 L284.8 224.72 L284.92 229.02 L285.04 233.33 L285.16 237.35 L285.28 240.79 L285.4 243.41 L285.52 245.01 L285.64 245.5 L285.76 244.82 L285.88 243.04 L286 240.27 L286.12 236.71 L286.24 232.62 L286.36 228.29 L286.48 224.03 L286.6 220.13 L286.72 216.87 L286.84 214.49 L286.96 213.16 L287.08 212.96 L287.2 213.92 L287.32 215.97 L287.44 218.96 L287.56 222.67 L287.68 226.85 L287.8 231.19 L287.92 235.4 L288.04 239.16 L288.16 242.21 L288.28 244.34 L288.4 245.4 L288.52 245.3 L288.64 244.06 L288.76 241.76 L288.88 238.57 L289 234.72 L289.12 230.47 L289.24 226.13 L289.36 222.01 L289.48 218.4 L289.6 215.56 L289.72 213.69 L289.84 212.92 L289.96 213.3 L290.08 214.82 L290.2 217.36 L290.32 220.74 L290.44 224.72 L290.56 229.02 L290.68 233.33 L290.8 237.35 L290.92 240.79 L291.04 243.41 L291.16 245.01 L291.28 245.5 L291.4 244.82 L291.52 243.04 L291.64 240.27 L291.76 236.71 L291.88 232.62 L292 228.29 L292.12 224.03 L292.24 220.13 L292.36 216.87 L292.48 214.49 L292.6 213.16 L292.72 212.96 L292.84 213.92 L292.96 215.97 L293.08 218.96 L293.2 222.67 L293.32 226.85 L293.44 231.19 L293.56 235.4 L293.68 239.16 L293.8 242.21 L293.92 244.34 L294.04 245.4 L294.16 245.3 L294.28 244.06 L294.4 241.76 L294.52 238.57 L294.64 234.72 L294.76 230.47 L294.88 226.13 L295 222.01 L295.12 218.4 L295.24 215.56 L295.36 213.69 L295.48 212.92 L295.6 213.3 L295.72 214.82 L295.84 217.36 L295.96 220.74 L296.08 224.72 L296.2 229.02 L296.32 233.33 L296.44 237.35 L296.56 240.79 L296.68 243.41 L296.8 245.01 L296.92 245.5 L297.04 244.82 L297.16 243.04 L297.28 240.27 L297.4 236.71 L297.52 232.62 L297.64 228.29 L297.76 224.03 L297.88 220.13 L298 216.87 L298.12 214.49 L298.24 213.16 L298.36 212.96 L298.48 213.92 L298.6 215.97 L298.72 218.96 L298.84 222.67 L298.96 226.85 L299.08 231.19 L299.2 235.4 L299.32 239.16 L299.44 242.21 L299.56 244.34 L299.68 245.4 L299.8 245.3 L299.92 244.06 L300.04 241.76 L300.16 238.57 L300.28 234.72 L300.4 230.47 L300.52 226.13 L300.64 222.01 L300.76 218.4 L300.88 215.56 L301 213.69 L301.12 212.92 L301.24 213.3 L301.36 214.82 L301.48 217.36 L301.6 220.74 L301.72 224.72 L301.84 229.02 L301.96 233.33 L302.08 237.35 L302.2 240.79 L302.32 243.41 L302.44 245.01 L302.56 245.5 L302.68 244.82 L302.8 243.04 L302.92 240.27 L303.04 236.71 L303.16 232.62 L303.28 228.29 L303.4 224.03 L303.52 220.13 L303.64 216.87 L303.76 214.49 L303.88 213.16 L304 212.96 L304.12 213.92 L304.24 215.97 L304.36 218.96 L304.48 222.67 L304.6 226.85 L304.72 231.19 L304.84 235.4 L304.96 239.16 L305.08 242.21 L305.2 244.34 L305.32 245.4 L305.44 245.3 L305.56 244.06 L305.68 241.76 L305.8 238.57 L305.92 234.72 L306.04 230.47 L306.16 226.13 L306.28 222.01 L306.4 218.4 L306.52 215.56 L306.64 213.69 L306.76 212.92 L306.88 213.3 L307 214.82 L307.12 217.36 L307.24 220.74 L307.36 224.72 L307.48 229.02 L307.6 233.33 L307.72 237.35 L307.84 240.79 L307.96 243.41 L308.08 245.01 L308.2 245.5 L308.32 244.82 L308.44 243.04 L308.56 240.27 L308.68 236.71 L308.8 232.62 L308.92 228.29 L309.04 224.03 L309.16 220.13 L309.28 216.87 L309.4 214.49 L309.52 213.16 L309.64 212.96 L309.76 213.92 L309.88 215.97 L310 218.96 L310.12 222.67 L310.24 226.85 L310.36 231.19 L310.48 235.4 L310.6 239.16 L310.72 242.21 L310.84 244.34 L310.96 245.4 L311.08 245.3 L311.2 244.06 L311.32 241.76 L311.44 238.57 L311.56 234.72 L311.68 230.47 L311.8 226.13 L311.92 222.01 L312.04 218.4 L312.16 215.56 L312.28 213.69 L312.4 212.92 L312.52 213.3 L312.64 214.82 L312.76 217.36 L312.88 220.74 L313 224.72 L313.12 229.02 L313.24 233.33 L313.36 237.35 L313.48 240.79 L313.6 243.41 L313.72 245.01 L313.84 245.5 L313.96 244.82 L314.08 243.04 L314.2 240.27 L314.32 236.71 L314.44 232.62 L314.56 228.29 L314.68 224.03 L314.8 220.13 L314.92 216.87 L315.04 214.49 L315.16 213.16 L315.28 212.96 L315.4 213.92 L315.52 215.97 L315.64 218.96 L315.76 222.67 L315.88 226.85 L316 231.19 L316.12 235.4 L316.24 239.16 L316.36 242.21 L316.48 244.34 L316.6 245.4 L316.72 245.3 L316.84 244.06 L316.96 241.76 L317.08 238.57 L317.2 234.72 L317.32 230.47 L317.44 226.13 L317.56 222.01 L317.68 218.4 L317.8 215.56 L317.92 213.69 L318.04 212.92 L318.16 213.3 L318.28 214.82 L318.4 217.36 L318.52 220.74 L318.64 224.72 L318.76 229.02 L318.88 233.33 L319 237.35 L319.12 240.79 L319.24 243.41 L319.36 245.01 L319.48 245.5 L319.6 244.82 L319.72 243.04 L319.84 240.27 L319.96 236.71 L320.08 232.62 L320.2 228.29 L320.32 224.03 L320.44 220.13 L320.56 216.87 L320.68 214.49 L320.8 213.16 L320.92 212.96 L321.04 213.92 L321.16 215.97 L321.28 218.96 L321.4 222.67 L321.52 226.85 L321.64 231.19 L321.76 235.4 L321.88 239.16 L322 242.21 L322.12 244.34 L322.24 245.4 L322.36 245.3 L322.48 244.06 L322.6 241.76 L322.72 238.57 L322.84 234.72 L322.96 230.47 L323.08 226.13 L323.2 222.01 L323.32 218.4 L323.44 215.56 L323.56 213.69 L323.68 212.92" fill="none" stroke="#80c3d2" stroke-width="1" stroke-linejoin="round" stroke-linecap="round"/>
<path d="M397.9 214 L414.9 214" fill="none" stroke="#b99bd9" stroke-width="1.6" stroke-linejoin="round" stroke-linecap="butt"/>
<text x="417.5" y="216.4" font-size="6.9" text-anchor="start" font-weight="bold" fill="#000">1HZ</text>
<path d="M397.9 223.5 L414.9 223.5" fill="none" stroke="#86cf5e" stroke-width="1.4" stroke-linejoin="round" stroke-linecap="butt"/>
<text x="417.5" y="225.9" font-size="6.9" text-anchor="start" font-weight="bold" fill="#000">3HZ</text>
<path d="M397.9 232.5 L414.9 232.5" fill="none" stroke="#8ec9d8" stroke-width="1.2" stroke-linejoin="round" stroke-linecap="butt"/>
<text x="417.5" y="234.9" font-size="6.9" text-anchor="start" font-weight="bold" fill="#000">5HZ</text>
<rect x="265.6" y="203.9" width="177.3" height="142.4" fill="none" stroke="#000" stroke-width="1.4"/>
<text transform="translate(258.14 275.3) rotate(-90) scale(1.17 1)" font-size="7.6" text-anchor="middle" font-weight="bold">ΔR/R(%)</text>
<text x="354.25" y="371.3" font-size="8.6" text-anchor="middle" font-weight="bold" fill="#000">Time(s)</text>
<text x="229" y="204.3" font-size="14.6" text-anchor="start" font-weight="bold" fill="#000">e</text>
<rect x="496.75" y="202.75" width="178.75" height="143.4" fill="#eee0e6"/>
<line x1="497.1" y1="346.15" x2="497.1" y2="343.95" stroke="#000" stroke-width="1.4"/>
<text x="497.1" y="358.05" font-size="8.3" text-anchor="middle" font-weight="bold" fill="#000">0</text>
<line x1="531.9" y1="346.15" x2="531.9" y2="343.95" stroke="#000" stroke-width="1.4"/>
<text x="531.9" y="358.05" font-size="8.3" text-anchor="middle" font-weight="bold" fill="#000">4</text>
<line x1="566.7" y1="346.15" x2="566.7" y2="343.95" stroke="#000" stroke-width="1.4"/>
<text x="566.7" y="358.05" font-size="8.3" text-anchor="middle" font-weight="bold" fill="#000">8</text>
<line x1="601.5" y1="346.15" x2="601.5" y2="343.95" stroke="#000" stroke-width="1.4"/>
<text x="601.5" y="358.05" font-size="8.3" text-anchor="middle" font-weight="bold" fill="#000">12</text>
<line x1="636.3" y1="346.15" x2="636.3" y2="343.95" stroke="#000" stroke-width="1.4"/>
<text x="636.3" y="358.05" font-size="8.3" text-anchor="middle" font-weight="bold" fill="#000">16</text>
<line x1="671.1" y1="346.15" x2="671.1" y2="343.95" stroke="#000" stroke-width="1.4"/>
<text x="671.1" y="358.05" font-size="8.3" text-anchor="middle" font-weight="bold" fill="#000">20</text>
<line x1="496.75" y1="346.15" x2="498.95" y2="346.15" stroke="#000" stroke-width="1.4"/>
<text x="491.75" y="349.14" font-size="8.3" text-anchor="end" font-weight="bold" fill="#000">−5</text>
<line x1="496.75" y1="317.47" x2="498.95" y2="317.47" stroke="#000" stroke-width="1.4"/>
<text x="491.75" y="320.46" font-size="8.3" text-anchor="end" font-weight="bold" fill="#000">0</text>
<line x1="496.75" y1="288.79" x2="498.95" y2="288.79" stroke="#000" stroke-width="1.4"/>
<text x="491.75" y="291.78" font-size="8.3" text-anchor="end" font-weight="bold" fill="#000">5</text>
<line x1="496.75" y1="260.11" x2="498.95" y2="260.11" stroke="#000" stroke-width="1.4"/>
<text x="491.75" y="263.1" font-size="8.3" text-anchor="end" font-weight="bold" fill="#000">10</text>
<line x1="496.75" y1="231.43" x2="498.95" y2="231.43" stroke="#000" stroke-width="1.4"/>
<text x="491.75" y="234.42" font-size="8.3" text-anchor="end" font-weight="bold" fill="#000">15</text>
<line x1="496.75" y1="202.75" x2="498.95" y2="202.75" stroke="#000" stroke-width="1.4"/>
<text x="491.75" y="205.74" font-size="8.3" text-anchor="end" font-weight="bold" fill="#000">20</text>
<path d="M497.6 317m-1.25 0a1.25 1.25 0 1 0 2.5 0a1.25 1.25 0 1 0 -2.5 0M497.82 317m-1.25 0a1.25 1.25 0 1 0 2.5 0a1.25 1.25 0 1 0 -2.5 0M498.04 317m-1.25 0a1.25 1.25 0 1 0 2.5 0a1.25 1.25 0 1 0 -2.5 0M498.26 316.99m-1.25 0a1.25 1.25 0 1 0 2.5 0a1.25 1.25 0 1 0 -2.5 0M498.48 316.99m-1.25 0a1.25 1.25 0 1 0 2.5 0a1.25 1.25 0 1 0 -2.5 0M498.7 316.99m-1.25 0a1.25 1.25 0 1 0 2.5 0a1.25 1.25 0 1 0 -2.5 0M498.92 316.99m-1.25 0a1.25 1.25 0 1 0 2.5 0a1.25 1.25 0 1 0 -2.5 0M499.14 316.98m-1.25 0a1.25 1.25 0 1 0 2.5 0a1.25 1.25 0 1 0 -2.5 0M499.36 316.98m-1.25 0a1.25 1.25 0 1 0 2.5 0a1.25 1.25 0 1 0 -2.5 0M499.58 316.98m-1.25 0a1.25 1.25 0 1 0 2.5 0a1.25 1.25 0 1 0 -2.5 0M499.8 316.98m-1.25 0a1.25 1.25 0 1 0 2.5 0a1.25 1.25 0 1 0 -2.5 0M500.02 316.97m-1.25 0a1.25 1.25 0 1 0 2.5 0a1.25 1.25 0 1 0 -2.5 0M500.24 316.97m-1.25 0a1.25 1.25 0 1 0 2.5 0a1.25 1.25 0 1 0 -2.5 0M500.46 316.97m-1.25 0a1.25 1.25 0 1 0 2.5 0a1.25 1.25 0 1 0 -2.5 0M500.68 316.97m-1.25 0a1.25 1.25 0 1 0 2.5 0a1.25 1.25 0 1 0 -2.5 0M500.9 316.96m-1.25 0a1.25 1.25 0 1 0 2.5 0a1.25 1.25 0 1 0 -2.5 0M501.12 316.96m-1.25 0a1.25 1.25 0 1 0 2.5 0a1.25 1.25 0 1 0 -2.5 0M501.34 316.96m-1.25 0a1.25 1.25 0 1 0 2.5 0a1.25 1.25 0 1 0 -2.5 0M501.56 316.96m-1.25 0a1.25 1.25 0 1 0 2.5 0a1.25 1.25 0 1 0 -2.5 0M501.78 316.95m-1.25 0a1.25 1.25 0 1 0 2.5 0a1.25 1.25 0 1 0 -2.5 0M502 316.95m-1.25 0a1.25 1.25 0 1 0 2.5 0a1.25 1.25 0 1 0 -2.5 0M502.22 316.95m-1.25 0a1.25 1.25 0 1 0 2.5 0a1.25 1.25 0 1 0 -2.5 0M502.44 316.95m-1.25 0a1.25 1.25 0 1 0 2.5 0a1.25 1.25 0 1 0 -2.5 0M502.66 316.94m-1.25 0a1.25 1.25 0 1 0 2.5 0a1.25 1.25 0 1 0 -2.5 0M502.88 316.94m-1.25 0a1.25 1.25 0 1 0 2.5 0a1.25 1.25 0 1 0 -2.5 0M503.1 316.94m-1.25 0a1.25 1.25 0 1 0 2.5 0a1.25 1.25 0 1 0 -2.5 0M503.32 316.94m-1.25 0a1.25 1.25 0 1 0 2.5 0a1.25 1.25 0 1 0 -2.5 0M503.54 316.94m-1.25 0a1.25 1.25 0 1 0 2.5 0a1.25 1.25 0 1 0 -2.5 0M503.76 316.93m-1.25 0a1.25 1.25 0 1 0 2.5 0a1.25 1.25 0 1 0 -2.5 0M503.98 316.93m-1.25 0a1.25 1.25 0 1 0 2.5 0a1.25 1.25 0 1 0 -2.5 0M504.2 316.93m-1.25 0a1.25 1.25 0 1 0 2.5 0a1.25 1.25 0 1 0 -2.5 0M504.42 316.93m-1.25 0a1.25 1.25 0 1 0 2.5 0a1.25 1.25 0 1 0 -2.5 0M504.64 316.92m-1.25 0a1.25 1.25 0 1 0 2.5 0a1.25 1.25 0 1 0 -2.5 0M504.86 316.92m-1.25 0a1.25 1.25 0 1 0 2.5 0a1.25 1.25 0 1 0 -2.5 0M505.08 316.92m-1.25 0a1.25 1.25 0 1 0 2.5 0a1.25 1.25 0 1 0 -2.5 0M505.3 316.92m-1.25 0a1.25 1.25 0 1 0 2.5 0a1.25 1.25 0 1 0 -2.5 0M505.52 316.92m-1.25 0a1.25 1.25 0 1 0 2.5 0a1.25 1.25 0 1 0 -2.5 0M505.74 316.91m-1.25 0a1.25 1.25 0 1 0 2.5 0a1.25 1.25 0 1 0 -2.5 0M505.96 316.91m-1.25 0a1.25 1.25 0 1 0 2.5 0a1.25 1.25 0 1 0 -2.5 0M506.18 316.91m-1.25 0a1.25 1.25 0 1 0 2.5 0a1.25 1.25 0 1 0 -2.5 0M506.4 316.91m-1.25 0a1.25 1.25 0 1 0 2.5 0a1.25 1.25 0 1 0 -2.5 0M506.62 316.9m-1.25 0a1.25 1.25 0 1 0 2.5 0a1.25 1.25 0 1 0 -2.5 0M506.84 316.9m-1.25 0a1.25 1.25 0 1 0 2.5 0a1.25 1.25 0 1 0 -2.5 0M507.06 316.9m-1.25 0a1.25 1.25 0 1 0 2.5 0a1.25 1.25 0 1 0 -2.5 0M507.28 316.9m-1.25 0a1.25 1.25 0 1 0 2.5 0a1.25 1.25 0 1 0 -2.5 0M507.5 316.9m-1.25 0a1.25 1.25 0 1 0 2.5 0a1.25 1.25 0 1 0 -2.5 0M507.72 316.89m-1.25 0a1.25 1.25 0 1 0 2.5 0a1.25 1.25 0 1 0 -2.5 0M507.94 316.89m-1.25 0a1.25 1.25 0 1 0 2.5 0a1.25 1.25 0 1 0 -2.5 0M508.16 316.89m-1.25 0a1.25 1.25 0 1 0 2.5 0a1.25 1.25 0 1 0 -2.5 0M508.38 316.89m-1.25 0a1.25 1.25 0 1 0 2.5 0a1.25 1.25 0 1 0 -2.5 0M508.6 316.89m-1.25 0a1.25 1.25 0 1 0 2.5 0a1.25 1.25 0 1 0 -2.5 0M508.82 316.88m-1.25 0a1.25 1.25 0 1 0 2.5 0a1.25 1.25 0 1 0 -2.5 0M509.04 316.88m-1.25 0a1.25 1.25 0 1 0 2.5 0a1.25 1.25 0 1 0 -2.5 0M509.26 316.88m-1.25 0a1.25 1.25 0 1 0 2.5 0a1.25 1.25 0 1 0 -2.5 0M509.48 316.88m-1.25 0a1.25 1.25 0 1 0 2.5 0a1.25 1.25 0 1 0 -2.5 0M509.7 316.88m-1.25 0a1.25 1.25 0 1 0 2.5 0a1.25 1.25 0 1 0 -2.5 0M509.92 316.87m-1.25 0a1.25 1.25 0 1 0 2.5 0a1.25 1.25 0 1 0 -2.5 0M510.14 316.87m-1.25 0a1.25 1.25 0 1 0 2.5 0a1.25 1.25 0 1 0 -2.5 0M510.36 316.87m-1.25 0a1.25 1.25 0 1 0 2.5 0a1.25 1.25 0 1 0 -2.5 0M510.58 316.87m-1.25 0a1.25 1.25 0 1 0 2.5 0a1.25 1.25 0 1 0 -2.5 0M510.8 316.87m-1.25 0a1.25 1.25 0 1 0 2.5 0a1.25 1.25 0 1 0 -2.5 0M511.02 316.86m-1.25 0a1.25 1.25 0 1 0 2.5 0a1.25 1.25 0 1 0 -2.5 0M511.24 316.86m-1.25 0a1.25 1.25 0 1 0 2.5 0a1.25 1.25 0 1 0 -2.5 0M511.46 316.86m-1.25 0a1.25 1.25 0 1 0 2.5 0a1.25 1.25 0 1 0 -2.5 0M511.68 316.86m-1.25 0a1.25 1.25 0 1 0 2.5 0a1.25 1.25 0 1 0 -2.5 0M511.9 316.86m-1.25 0a1.25 1.25 0 1 0 2.5 0a1.25 1.25 0 1 0 -2.5 0M512.12 316.86m-1.25 0a1.25 1.25 0 1 0 2.5 0a1.25 1.25 0 1 0 -2.5 0M512.34 316.85m-1.25 0a1.25 1.25 0 1 0 2.5 0a1.25 1.25 0 1 0 -2.5 0M512.56 316.85m-1.25 0a1.25 1.25 0 1 0 2.5 0a1.25 1.25 0 1 0 -2.5 0M512.78 316.85m-1.25 0a1.25 1.25 0 1 0 2.5 0a1.25 1.25 0 1 0 -2.5 0M513 316.85m-1.25 0a1.25 1.25 0 1 0 2.5 0a1.25 1.25 0 1 0 -2.5 0M513.22 316.85m-1.25 0a1.25 1.25 0 1 0 2.5 0a1.25 1.25 0 1 0 -2.5 0M513.44 316.84m-1.25 0a1.25 1.25 0 1 0 2.5 0a1.25 1.25 0 1 0 -2.5 0M513.66 316.84m-1.25 0a1.25 1.25 0 1 0 2.5 0a1.25 1.25 0 1 0 -2.5 0M513.88 316.84m-1.25 0a1.25 1.25 0 1 0 2.5 0a1.25 1.25 0 1 0 -2.5 0M514.1 316.84m-1.25 0a1.25 1.25 0 1 0 2.5 0a1.25 1.25 0 1 0 -2.5 0M514.32 316.84m-1.25 0a1.25 1.25 0 1 0 2.5 0a1.25 1.25 0 1 0 -2.5 0M514.54 316.84m-1.25 0a1.25 1.25 0 1 0 2.5 0a1.25 1.25 0 1 0 -2.5 0M514.76 316.83m-1.25 0a1.25 1.25 0 1 0 2.5 0a1.25 1.25 0 1 0 -2.5 0M514.98 316.83m-1.25 0a1.25 1.25 0 1 0 2.5 0a1.25 1.25 0 1 0 -2.5 0M515.2 316.83m-1.25 0a1.25 1.25 0 1 0 2.5 0a1.25 1.25 0 1 0 -2.5 0M515.42 316.83m-1.25 0a1.25 1.25 0 1 0 2.5 0a1.25 1.25 0 1 0 -2.5 0M515.64 316.83m-1.25 0a1.25 1.25 0 1 0 2.5 0a1.25 1.25 0 1 0 -2.5 0M515.86 316.83m-1.25 0a1.25 1.25 0 1 0 2.5 0a1.25 1.25 0 1 0 -2.5 0M516.08 316.82m-1.25 0a1.25 1.25 0 1 0 2.5 0a1.25 1.25 0 1 0 -2.5 0M516.3 316.82m-1.25 0a1.25 1.25 0 1 0 2.5 0a1.25 1.25 0 1 0 -2.5 0M516.52 316.82m-1.25 0a1.25 1.25 0 1 0 2.5 0a1.25 1.25 0 1 0 -2.5 0M516.74 316.82m-1.25 0a1.25 1.25 0 1 0 2.5 0a1.25 1.25 0 1 0 -2.5 0M516.96 316.82m-1.25 0a1.25 1.25 0 1 0 2.5 0a1.25 1.25 0 1 0 -2.5 0M517.18 316.82m-1.25 0a1.25 1.25 0 1 0 2.5 0a1.25 1.25 0 1 0 -2.5 0M517.4 316.82m-1.25 0a1.25 1.25 0 1 0 2.5 0a1.25 1.25 0 1 0 -2.5 0M517.62 316.81m-1.25 0a1.25 1.25 0 1 0 2.5 0a1.25 1.25 0 1 0 -2.5 0M517.84 316.81m-1.25 0a1.25 1.25 0 1 0 2.5 0a1.25 1.25 0 1 0 -2.5 0M518.06 316.81m-1.25 0a1.25 1.25 0 1 0 2.5 0a1.25 1.25 0 1 0 -2.5 0M518.28 316.81m-1.25 0a1.25 1.25 0 1 0 2.5 0a1.25 1.25 0 1 0 -2.5 0M518.5 316.81m-1.25 0a1.25 1.25 0 1 0 2.5 0a1.25 1.25 0 1 0 -2.5 0M518.72 316.81m-1.25 0a1.25 1.25 0 1 0 2.5 0a1.25 1.25 0 1 0 -2.5 0M518.94 316.81m-1.25 0a1.25 1.25 0 1 0 2.5 0a1.25 1.25 0 1 0 -2.5 0M519.16 316.8m-1.25 0a1.25 1.25 0 1 0 2.5 0a1.25 1.25 0 1 0 -2.5 0M519.38 316.8m-1.25 0a1.25 1.25 0 1 0 2.5 0a1.25 1.25 0 1 0 -2.5 0M519.6 316.8m-1.25 0a1.25 1.25 0 1 0 2.5 0a1.25 1.25 0 1 0 -2.5 0M519.82 316.8m-1.25 0a1.25 1.25 0 1 0 2.5 0a1.25 1.25 0 1 0 -2.5 0M520.04 316.8m-1.25 0a1.25 1.25 0 1 0 2.5 0a1.25 1.25 0 1 0 -2.5 0M520.26 316.8m-1.25 0a1.25 1.25 0 1 0 2.5 0a1.25 1.25 0 1 0 -2.5 0M520.48 316.8m-1.25 0a1.25 1.25 0 1 0 2.5 0a1.25 1.25 0 1 0 -2.5 0M520.7 316.8m-1.25 0a1.25 1.25 0 1 0 2.5 0a1.25 1.25 0 1 0 -2.5 0M520.92 316.79m-1.25 0a1.25 1.25 0 1 0 2.5 0a1.25 1.25 0 1 0 -2.5 0M521.14 316.79m-1.25 0a1.25 1.25 0 1 0 2.5 0a1.25 1.25 0 1 0 -2.5 0M521.36 316.79m-1.25 0a1.25 1.25 0 1 0 2.5 0a1.25 1.25 0 1 0 -2.5 0M521.58 316.79m-1.25 0a1.25 1.25 0 1 0 2.5 0a1.25 1.25 0 1 0 -2.5 0M521.8 316.79m-1.25 0a1.25 1.25 0 1 0 2.5 0a1.25 1.25 0 1 0 -2.5 0M522.02 316.79m-1.25 0a1.25 1.25 0 1 0 2.5 0a1.25 1.25 0 1 0 -2.5 0M522.24 316.79m-1.25 0a1.25 1.25 0 1 0 2.5 0a1.25 1.25 0 1 0 -2.5 0M522.46 316.79m-1.25 0a1.25 1.25 0 1 0 2.5 0a1.25 1.25 0 1 0 -2.5 0M522.68 316.78m-1.25 0a1.25 1.25 0 1 0 2.5 0a1.25 1.25 0 1 0 -2.5 0M522.9 316.78m-1.25 0a1.25 1.25 0 1 0 2.5 0a1.25 1.25 0 1 0 -2.5 0M523.12 316.78m-1.25 0a1.25 1.25 0 1 0 2.5 0a1.25 1.25 0 1 0 -2.5 0M523.34 316.78m-1.25 0a1.25 1.25 0 1 0 2.5 0a1.25 1.25 0 1 0 -2.5 0M523.56 316.78m-1.25 0a1.25 1.25 0 1 0 2.5 0a1.25 1.25 0 1 0 -2.5 0M523.78 316.78m-1.25 0a1.25 1.25 0 1 0 2.5 0a1.25 1.25 0 1 0 -2.5 0M524 316.78m-1.25 0a1.25 1.25 0 1 0 2.5 0a1.25 1.25 0 1 0 -2.5 0M524.22 316.78m-1.25 0a1.25 1.25 0 1 0 2.5 0a1.25 1.25 0 1 0 -2.5 0M524.44 316.77m-1.25 0a1.25 1.25 0 1 0 2.5 0a1.25 1.25 0 1 0 -2.5 0M524.66 316.77m-1.25 0a1.25 1.25 0 1 0 2.5 0a1.25 1.25 0 1 0 -2.5 0M524.88 316.77m-1.25 0a1.25 1.25 0 1 0 2.5 0a1.25 1.25 0 1 0 -2.5 0M525.1 316.77m-1.25 0a1.25 1.25 0 1 0 2.5 0a1.25 1.25 0 1 0 -2.5 0M525.32 316.77m-1.25 0a1.25 1.25 0 1 0 2.5 0a1.25 1.25 0 1 0 -2.5 0M525.54 316.77m-1.25 0a1.25 1.25 0 1 0 2.5 0a1.25 1.25 0 1 0 -2.5 0M525.76 316.77m-1.25 0a1.25 1.25 0 1 0 2.5 0a1.25 1.25 0 1 0 -2.5 0M525.98 316.77m-1.25 0a1.25 1.25 0 1 0 2.5 0a1.25 1.25 0 1 0 -2.5 0M526.2 316.77m-1.25 0a1.25 1.25 0 1 0 2.5 0a1.25 1.25 0 1 0 -2.5 0M526.42 316.76m-1.25 0a1.25 1.25 0 1 0 2.5 0a1.25 1.25 0 1 0 -2.5 0M526.64 316.76m-1.25 0a1.25 1.25 0 1 0 2.5 0a1.25 1.25 0 1 0 -2.5 0M526.86 316.76m-1.25 0a1.25 1.25 0 1 0 2.5 0a1.25 1.25 0 1 0 -2.5 0M527.08 316.76m-1.25 0a1.25 1.25 0 1 0 2.5 0a1.25 1.25 0 1 0 -2.5 0M527.3 316.76m-1.25 0a1.25 1.25 0 1 0 2.5 0a1.25 1.25 0 1 0 -2.5 0M527.52 316.76m-1.25 0a1.25 1.25 0 1 0 2.5 0a1.25 1.25 0 1 0 -2.5 0M527.74 316.76m-1.25 0a1.25 1.25 0 1 0 2.5 0a1.25 1.25 0 1 0 -2.5 0M527.96 316.76m-1.25 0a1.25 1.25 0 1 0 2.5 0a1.25 1.25 0 1 0 -2.5 0M528.18 316.75m-1.25 0a1.25 1.25 0 1 0 2.5 0a1.25 1.25 0 1 0 -2.5 0M528.4 316.75m-1.25 0a1.25 1.25 0 1 0 2.5 0a1.25 1.25 0 1 0 -2.5 0M528.62 316.75m-1.25 0a1.25 1.25 0 1 0 2.5 0a1.25 1.25 0 1 0 -2.5 0M528.84 316.75m-1.25 0a1.25 1.25 0 1 0 2.5 0a1.25 1.25 0 1 0 -2.5 0M529.06 316.75m-1.25 0a1.25 1.25 0 1 0 2.5 0a1.25 1.25 0 1 0 -2.5 0M529.28 316.75m-1.25 0a1.25 1.25 0 1 0 2.5 0a1.25 1.25 0 1 0 -2.5 0M529.5 316.75m-1.25 0a1.25 1.25 0 1 0 2.5 0a1.25 1.25 0 1 0 -2.5 0M529.72 316.75m-1.25 0a1.25 1.25 0 1 0 2.5 0a1.25 1.25 0 1 0 -2.5 0M529.94 316.75m-1.25 0a1.25 1.25 0 1 0 2.5 0a1.25 1.25 0 1 0 -2.5 0M530.16 316.74m-1.25 0a1.25 1.25 0 1 0 2.5 0a1.25 1.25 0 1 0 -2.5 0M530.38 316.74m-1.25 0a1.25 1.25 0 1 0 2.5 0a1.25 1.25 0 1 0 -2.5 0M530.6 316.74m-1.25 0a1.25 1.25 0 1 0 2.5 0a1.25 1.25 0 1 0 -2.5 0M530.82 316.74m-1.25 0a1.25 1.25 0 1 0 2.5 0a1.25 1.25 0 1 0 -2.5 0M531.04 316.74m-1.25 0a1.25 1.25 0 1 0 2.5 0a1.25 1.25 0 1 0 -2.5 0M531.26 316.74m-1.25 0a1.25 1.25 0 1 0 2.5 0a1.25 1.25 0 1 0 -2.5 0M531.48 316.74m-1.25 0a1.25 1.25 0 1 0 2.5 0a1.25 1.25 0 1 0 -2.5 0M531.7 316.74m-1.25 0a1.25 1.25 0 1 0 2.5 0a1.25 1.25 0 1 0 -2.5 0M531.92 316.74m-1.25 0a1.25 1.25 0 1 0 2.5 0a1.25 1.25 0 1 0 -2.5 0M532.14 316.73m-1.25 0a1.25 1.25 0 1 0 2.5 0a1.25 1.25 0 1 0 -2.5 0M532.36 316.73m-1.25 0a1.25 1.25 0 1 0 2.5 0a1.25 1.25 0 1 0 -2.5 0M532.58 316.73m-1.25 0a1.25 1.25 0 1 0 2.5 0a1.25 1.25 0 1 0 -2.5 0M532.8 316.73m-1.25 0a1.25 1.25 0 1 0 2.5 0a1.25 1.25 0 1 0 -2.5 0M533.02 316.73m-1.25 0a1.25 1.25 0 1 0 2.5 0a1.25 1.25 0 1 0 -2.5 0M533.24 316.73m-1.25 0a1.25 1.25 0 1 0 2.5 0a1.25 1.25 0 1 0 -2.5 0M533.46 316.73m-1.25 0a1.25 1.25 0 1 0 2.5 0a1.25 1.25 0 1 0 -2.5 0M533.68 316.73m-1.25 0a1.25 1.25 0 1 0 2.5 0a1.25 1.25 0 1 0 -2.5 0M533.9 316.73m-1.25 0a1.25 1.25 0 1 0 2.5 0a1.25 1.25 0 1 0 -2.5 0M534.12 316.73m-1.25 0a1.25 1.25 0 1 0 2.5 0a1.25 1.25 0 1 0 -2.5 0M534.34 316.72m-1.25 0a1.25 1.25 0 1 0 2.5 0a1.25 1.25 0 1 0 -2.5 0M534.56 316.72m-1.25 0a1.25 1.25 0 1 0 2.5 0a1.25 1.25 0 1 0 -2.5 0M534.78 316.72m-1.25 0a1.25 1.25 0 1 0 2.5 0a1.25 1.25 0 1 0 -2.5 0M535 316.72m-1.25 0a1.25 1.25 0 1 0 2.5 0a1.25 1.25 0 1 0 -2.5 0M535.22 316.72m-1.25 0a1.25 1.25 0 1 0 2.5 0a1.25 1.25 0 1 0 -2.5 0M535.44 316.72m-1.25 0a1.25 1.25 0 1 0 2.5 0a1.25 1.25 0 1 0 -2.5 0M535.66 316.72m-1.25 0a1.25 1.25 0 1 0 2.5 0a1.25 1.25 0 1 0 -2.5 0M535.88 316.72m-1.25 0a1.25 1.25 0 1 0 2.5 0a1.25 1.25 0 1 0 -2.5 0M536.1 316.72m-1.25 0a1.25 1.25 0 1 0 2.5 0a1.25 1.25 0 1 0 -2.5 0M536.32 316.72m-1.25 0a1.25 1.25 0 1 0 2.5 0a1.25 1.25 0 1 0 -2.5 0M536.54 316.72m-1.25 0a1.25 1.25 0 1 0 2.5 0a1.25 1.25 0 1 0 -2.5 0M536.76 316.72m-1.25 0a1.25 1.25 0 1 0 2.5 0a1.25 1.25 0 1 0 -2.5 0M536.98 316.71m-1.25 0a1.25 1.25 0 1 0 2.5 0a1.25 1.25 0 1 0 -2.5 0M537.2 316.71m-1.25 0a1.25 1.25 0 1 0 2.5 0a1.25 1.25 0 1 0 -2.5 0M537.42 316.71m-1.25 0a1.25 1.25 0 1 0 2.5 0a1.25 1.25 0 1 0 -2.5 0M537.64 316.71m-1.25 0a1.25 1.25 0 1 0 2.5 0a1.25 1.25 0 1 0 -2.5 0M537.86 316.71m-1.25 0a1.25 1.25 0 1 0 2.5 0a1.25 1.25 0 1 0 -2.5 0M538.08 316.71m-1.25 0a1.25 1.25 0 1 0 2.5 0a1.25 1.25 0 1 0 -2.5 0M538.3 316.71m-1.25 0a1.25 1.25 0 1 0 2.5 0a1.25 1.25 0 1 0 -2.5 0M538.52 316.71m-1.25 0a1.25 1.25 0 1 0 2.5 0a1.25 1.25 0 1 0 -2.5 0M538.74 316.71m-1.25 0a1.25 1.25 0 1 0 2.5 0a1.25 1.25 0 1 0 -2.5 0M538.96 316.71m-1.25 0a1.25 1.25 0 1 0 2.5 0a1.25 1.25 0 1 0 -2.5 0M539.18 316.71m-1.25 0a1.25 1.25 0 1 0 2.5 0a1.25 1.25 0 1 0 -2.5 0M539.4 316.71m-1.25 0a1.25 1.25 0 1 0 2.5 0a1.25 1.25 0 1 0 -2.5 0M539.62 316.71m-1.25 0a1.25 1.25 0 1 0 2.5 0a1.25 1.25 0 1 0 -2.5 0M539.84 316.71m-1.25 0a1.25 1.25 0 1 0 2.5 0a1.25 1.25 0 1 0 -2.5 0M540.06 316.71m-1.25 0a1.25 1.25 0 1 0 2.5 0a1.25 1.25 0 1 0 -2.5 0M540.28 316.71m-1.25 0a1.25 1.25 0 1 0 2.5 0a1.25 1.25 0 1 0 -2.5 0M540.5 316.7m-1.25 0a1.25 1.25 0 1 0 2.5 0a1.25 1.25 0 1 0 -2.5 0M540.72 316.7m-1.25 0a1.25 1.25 0 1 0 2.5 0a1.25 1.25 0 1 0 -2.5 0M540.94 316.7m-1.25 0a1.25 1.25 0 1 0 2.5 0a1.25 1.25 0 1 0 -2.5 0M541.16 316.7m-1.25 0a1.25 1.25 0 1 0 2.5 0a1.25 1.25 0 1 0 -2.5 0M541.38 316.7m-1.25 0a1.25 1.25 0 1 0 2.5 0a1.25 1.25 0 1 0 -2.5 0M541.6 316.7m-1.25 0a1.25 1.25 0 1 0 2.5 0a1.25 1.25 0 1 0 -2.5 0M541.82 316.7m-1.25 0a1.25 1.25 0 1 0 2.5 0a1.25 1.25 0 1 0 -2.5 0M542.04 316.7m-1.25 0a1.25 1.25 0 1 0 2.5 0a1.25 1.25 0 1 0 -2.5 0M542.26 316.7m-1.25 0a1.25 1.25 0 1 0 2.5 0a1.25 1.25 0 1 0 -2.5 0M542.48 316.7m-1.25 0a1.25 1.25 0 1 0 2.5 0a1.25 1.25 0 1 0 -2.5 0M542.7 316.7m-1.25 0a1.25 1.25 0 1 0 2.5 0a1.25 1.25 0 1 0 -2.5 0M542.92 316.7m-1.25 0a1.25 1.25 0 1 0 2.5 0a1.25 1.25 0 1 0 -2.5 0M543.14 316.7m-1.25 0a1.25 1.25 0 1 0 2.5 0a1.25 1.25 0 1 0 -2.5 0M543.36 316.7m-1.25 0a1.25 1.25 0 1 0 2.5 0a1.25 1.25 0 1 0 -2.5 0M543.58 316.7m-1.25 0a1.25 1.25 0 1 0 2.5 0a1.25 1.25 0 1 0 -2.5 0M543.8 316.7m-1.25 0a1.25 1.25 0 1 0 2.5 0a1.25 1.25 0 1 0 -2.5 0M544.02 316.7m-1.25 0a1.25 1.25 0 1 0 2.5 0a1.25 1.25 0 1 0 -2.5 0M544.24 316.7m-1.25 0a1.25 1.25 0 1 0 2.5 0a1.25 1.25 0 1 0 -2.5 0M544.46 316.7m-1.25 0a1.25 1.25 0 1 0 2.5 0a1.25 1.25 0 1 0 -2.5 0M544.68 316.7m-1.25 0a1.25 1.25 0 1 0 2.5 0a1.25 1.25 0 1 0 -2.5 0M544.9 316.7m-1.25 0a1.25 1.25 0 1 0 2.5 0a1.25 1.25 0 1 0 -2.5 0M545.12 316.7m-1.25 0a1.25 1.25 0 1 0 2.5 0a1.25 1.25 0 1 0 -2.5 0M545.34 316.7m-1.25 0a1.25 1.25 0 1 0 2.5 0a1.25 1.25 0 1 0 -2.5 0M545.56 316.7m-1.25 0a1.25 1.25 0 1 0 2.5 0a1.25 1.25 0 1 0 -2.5 0M545.78 316.7m-1.25 0a1.25 1.25 0 1 0 2.5 0a1.25 1.25 0 1 0 -2.5 0M546 316.7m-1.25 0a1.25 1.25 0 1 0 2.5 0a1.25 1.25 0 1 0 -2.5 0M546.22 316.7m-1.25 0a1.25 1.25 0 1 0 2.5 0a1.25 1.25 0 1 0 -2.5 0M546.44 316.71m-1.25 0a1.25 1.25 0 1 0 2.5 0a1.25 1.25 0 1 0 -2.5 0M546.66 316.71m-1.25 0a1.25 1.25 0 1 0 2.5 0a1.25 1.25 0 1 0 -2.5 0M546.88 316.71m-1.25 0a1.25 1.25 0 1 0 2.5 0a1.25 1.25 0 1 0 -2.5 0M547.1 316.71m-1.25 0a1.25 1.25 0 1 0 2.5 0a1.25 1.25 0 1 0 -2.5 0M547.32 316.71m-1.25 0a1.25 1.25 0 1 0 2.5 0a1.25 1.25 0 1 0 -2.5 0M547.54 316.72m-1.25 0a1.25 1.25 0 1 0 2.5 0a1.25 1.25 0 1 0 -2.5 0M547.76 316.72m-1.25 0a1.25 1.25 0 1 0 2.5 0a1.25 1.25 0 1 0 -2.5 0M547.98 316.72m-1.25 0a1.25 1.25 0 1 0 2.5 0a1.25 1.25 0 1 0 -2.5 0M548.2 316.73m-1.25 0a1.25 1.25 0 1 0 2.5 0a1.25 1.25 0 1 0 -2.5 0M548.42 316.73m-1.25 0a1.25 1.25 0 1 0 2.5 0a1.25 1.25 0 1 0 -2.5 0M548.64 316.73m-1.25 0a1.25 1.25 0 1 0 2.5 0a1.25 1.25 0 1 0 -2.5 0M548.86 316.74m-1.25 0a1.25 1.25 0 1 0 2.5 0a1.25 1.25 0 1 0 -2.5 0M549.08 316.74m-1.25 0a1.25 1.25 0 1 0 2.5 0a1.25 1.25 0 1 0 -2.5 0M549.3 316.75m-1.25 0a1.25 1.25 0 1 0 2.5 0a1.25 1.25 0 1 0 -2.5 0M549.52 316.75m-1.25 0a1.25 1.25 0 1 0 2.5 0a1.25 1.25 0 1 0 -2.5 0M549.74 316.76m-1.25 0a1.25 1.25 0 1 0 2.5 0a1.25 1.25 0 1 0 -2.5 0M549.96 316.76m-1.25 0a1.25 1.25 0 1 0 2.5 0a1.25 1.25 0 1 0 -2.5 0M550.18 316.77m-1.25 0a1.25 1.25 0 1 0 2.5 0a1.25 1.25 0 1 0 -2.5 0M550.4 316.77m-1.25 0a1.25 1.25 0 1 0 2.5 0a1.25 1.25 0 1 0 -2.5 0M550.62 316.78m-1.25 0a1.25 1.25 0 1 0 2.5 0a1.25 1.25 0 1 0 -2.5 0M550.84 316.78m-1.25 0a1.25 1.25 0 1 0 2.5 0a1.25 1.25 0 1 0 -2.5 0M551.06 316.79m-1.25 0a1.25 1.25 0 1 0 2.5 0a1.25 1.25 0 1 0 -2.5 0M551.28 316.79m-1.25 0a1.25 1.25 0 1 0 2.5 0a1.25 1.25 0 1 0 -2.5 0M551.5 316.8m-1.25 0a1.25 1.25 0 1 0 2.5 0a1.25 1.25 0 1 0 -2.5 0M551.72 316.8m-1.25 0a1.25 1.25 0 1 0 2.5 0a1.25 1.25 0 1 0 -2.5 0M551.94 316.81m-1.25 0a1.25 1.25 0 1 0 2.5 0a1.25 1.25 0 1 0 -2.5 0M552.16 316.81m-1.25 0a1.25 1.25 0 1 0 2.5 0a1.25 1.25 0 1 0 -2.5 0M552.38 316.82m-1.25 0a1.25 1.25 0 1 0 2.5 0a1.25 1.25 0 1 0 -2.5 0M552.6 316.83m-1.25 0a1.25 1.25 0 1 0 2.5 0a1.25 1.25 0 1 0 -2.5 0M552.82 316.83m-1.25 0a1.25 1.25 0 1 0 2.5 0a1.25 1.25 0 1 0 -2.5 0M553.04 316.84m-1.25 0a1.25 1.25 0 1 0 2.5 0a1.25 1.25 0 1 0 -2.5 0M553.26 316.84m-1.25 0a1.25 1.25 0 1 0 2.5 0a1.25 1.25 0 1 0 -2.5 0M553.48 316.85m-1.25 0a1.25 1.25 0 1 0 2.5 0a1.25 1.25 0 1 0 -2.5 0M553.7 316.85m-1.25 0a1.25 1.25 0 1 0 2.5 0a1.25 1.25 0 1 0 -2.5 0M553.92 316.86m-1.25 0a1.25 1.25 0 1 0 2.5 0a1.25 1.25 0 1 0 -2.5 0M554.14 316.87m-1.25 0a1.25 1.25 0 1 0 2.5 0a1.25 1.25 0 1 0 -2.5 0M554.36 316.87m-1.25 0a1.25 1.25 0 1 0 2.5 0a1.25 1.25 0 1 0 -2.5 0M554.58 316.88m-1.25 0a1.25 1.25 0 1 0 2.5 0a1.25 1.25 0 1 0 -2.5 0M554.8 316.88m-1.25 0a1.25 1.25 0 1 0 2.5 0a1.25 1.25 0 1 0 -2.5 0M555.02 316.89m-1.25 0a1.25 1.25 0 1 0 2.5 0a1.25 1.25 0 1 0 -2.5 0M555.24 316.9m-1.25 0a1.25 1.25 0 1 0 2.5 0a1.25 1.25 0 1 0 -2.5 0M555.46 316.9m-1.25 0a1.25 1.25 0 1 0 2.5 0a1.25 1.25 0 1 0 -2.5 0M555.68 316.91m-1.25 0a1.25 1.25 0 1 0 2.5 0a1.25 1.25 0 1 0 -2.5 0M555.9 316.91m-1.25 0a1.25 1.25 0 1 0 2.5 0a1.25 1.25 0 1 0 -2.5 0M556.12 316.92m-1.25 0a1.25 1.25 0 1 0 2.5 0a1.25 1.25 0 1 0 -2.5 0M556.34 316.92m-1.25 0a1.25 1.25 0 1 0 2.5 0a1.25 1.25 0 1 0 -2.5 0M556.56 316.93m-1.25 0a1.25 1.25 0 1 0 2.5 0a1.25 1.25 0 1 0 -2.5 0M556.78 316.94m-1.25 0a1.25 1.25 0 1 0 2.5 0a1.25 1.25 0 1 0 -2.5 0M557 316.94m-1.25 0a1.25 1.25 0 1 0 2.5 0a1.25 1.25 0 1 0 -2.5 0M557.22 316.95m-1.25 0a1.25 1.25 0 1 0 2.5 0a1.25 1.25 0 1 0 -2.5 0M557.44 316.95m-1.25 0a1.25 1.25 0 1 0 2.5 0a1.25 1.25 0 1 0 -2.5 0M557.66 316.96m-1.25 0a1.25 1.25 0 1 0 2.5 0a1.25 1.25 0 1 0 -2.5 0M557.88 316.96m-1.25 0a1.25 1.25 0 1 0 2.5 0a1.25 1.25 0 1 0 -2.5 0M558.1 316.97m-1.25 0a1.25 1.25 0 1 0 2.5 0a1.25 1.25 0 1 0 -2.5 0M558.32 316.97m-1.25 0a1.25 1.25 0 1 0 2.5 0a1.25 1.25 0 1 0 -2.5 0M558.54 316.97m-1.25 0a1.25 1.25 0 1 0 2.5 0a1.25 1.25 0 1 0 -2.5 0M558.76 316.98m-1.25 0a1.25 1.25 0 1 0 2.5 0a1.25 1.25 0 1 0 -2.5 0M558.98 316.98m-1.25 0a1.25 1.25 0 1 0 2.5 0a1.25 1.25 0 1 0 -2.5 0M559.2 316.99m-1.25 0a1.25 1.25 0 1 0 2.5 0a1.25 1.25 0 1 0 -2.5 0M559.42 316.99m-1.25 0a1.25 1.25 0 1 0 2.5 0a1.25 1.25 0 1 0 -2.5 0M559.64 316.99m-1.25 0a1.25 1.25 0 1 0 2.5 0a1.25 1.25 0 1 0 -2.5 0M559.86 317m-1.25 0a1.25 1.25 0 1 0 2.5 0a1.25 1.25 0 1 0 -2.5 0M560.08 317m-1.25 0a1.25 1.25 0 1 0 2.5 0a1.25 1.25 0 1 0 -2.5 0M560.3 317m-1.25 0a1.25 1.25 0 1 0 2.5 0a1.25 1.25 0 1 0 -2.5 0M560.52 317.01m-1.25 0a1.25 1.25 0 1 0 2.5 0a1.25 1.25 0 1 0 -2.5 0M560.74 317.01m-1.25 0a1.25 1.25 0 1 0 2.5 0a1.25 1.25 0 1 0 -2.5 0M560.96 317.01m-1.25 0a1.25 1.25 0 1 0 2.5 0a1.25 1.25 0 1 0 -2.5 0M561.18 317.02m-1.25 0a1.25 1.25 0 1 0 2.5 0a1.25 1.25 0 1 0 -2.5 0M561.4 317.02m-1.25 0a1.25 1.25 0 1 0 2.5 0a1.25 1.25 0 1 0 -2.5 0M561.62 317.03m-1.25 0a1.25 1.25 0 1 0 2.5 0a1.25 1.25 0 1 0 -2.5 0M561.84 317.03m-1.25 0a1.25 1.25 0 1 0 2.5 0a1.25 1.25 0 1 0 -2.5 0M562.06 317.03m-1.25 0a1.25 1.25 0 1 0 2.5 0a1.25 1.25 0 1 0 -2.5 0M562.28 317.04m-1.25 0a1.25 1.25 0 1 0 2.5 0a1.25 1.25 0 1 0 -2.5 0M562.5 317.04m-1.25 0a1.25 1.25 0 1 0 2.5 0a1.25 1.25 0 1 0 -2.5 0M562.72 317.04m-1.25 0a1.25 1.25 0 1 0 2.5 0a1.25 1.25 0 1 0 -2.5 0M562.94 317.05m-1.25 0a1.25 1.25 0 1 0 2.5 0a1.25 1.25 0 1 0 -2.5 0M563.16 317.05m-1.25 0a1.25 1.25 0 1 0 2.5 0a1.25 1.25 0 1 0 -2.5 0M563.38 317.05m-1.25 0a1.25 1.25 0 1 0 2.5 0a1.25 1.25 0 1 0 -2.5 0M563.6 317.06m-1.25 0a1.25 1.25 0 1 0 2.5 0a1.25 1.25 0 1 0 -2.5 0M563.82 317.06m-1.25 0a1.25 1.25 0 1 0 2.5 0a1.25 1.25 0 1 0 -2.5 0M564.04 317.06m-1.25 0a1.25 1.25 0 1 0 2.5 0a1.25 1.25 0 1 0 -2.5 0M564.26 317.07m-1.25 0a1.25 1.25 0 1 0 2.5 0a1.25 1.25 0 1 0 -2.5 0M564.48 317.07m-1.25 0a1.25 1.25 0 1 0 2.5 0a1.25 1.25 0 1 0 -2.5 0M564.7 317.07m-1.25 0a1.25 1.25 0 1 0 2.5 0a1.25 1.25 0 1 0 -2.5 0M564.92 317.08m-1.25 0a1.25 1.25 0 1 0 2.5 0a1.25 1.25 0 1 0 -2.5 0M565.14 317.08m-1.25 0a1.25 1.25 0 1 0 2.5 0a1.25 1.25 0 1 0 -2.5 0M565.36 317.08m-1.25 0a1.25 1.25 0 1 0 2.5 0a1.25 1.25 0 1 0 -2.5 0M565.58 317.08m-1.25 0a1.25 1.25 0 1 0 2.5 0a1.25 1.25 0 1 0 -2.5 0M565.8 317.09m-1.25 0a1.25 1.25 0 1 0 2.5 0a1.25 1.25 0 1 0 -2.5 0M566.02 317.09m-1.25 0a1.25 1.25 0 1 0 2.5 0a1.25 1.25 0 1 0 -2.5 0M566.24 317.09m-1.25 0a1.25 1.25 0 1 0 2.5 0a1.25 1.25 0 1 0 -2.5 0M566.46 317.09m-1.25 0a1.25 1.25 0 1 0 2.5 0a1.25 1.25 0 1 0 -2.5 0M566.68 317.09m-1.25 0a1.25 1.25 0 1 0 2.5 0a1.25 1.25 0 1 0 -2.5 0M566.9 317.09m-1.25 0a1.25 1.25 0 1 0 2.5 0a1.25 1.25 0 1 0 -2.5 0M567.12 317.1m-1.25 0a1.25 1.25 0 1 0 2.5 0a1.25 1.25 0 1 0 -2.5 0M567.34 317.1m-1.25 0a1.25 1.25 0 1 0 2.5 0a1.25 1.25 0 1 0 -2.5 0M567.56 317.1m-1.25 0a1.25 1.25 0 1 0 2.5 0a1.25 1.25 0 1 0 -2.5 0M567.78 317.1m-1.25 0a1.25 1.25 0 1 0 2.5 0a1.25 1.25 0 1 0 -2.5 0M568 317.1m-1.25 0a1.25 1.25 0 1 0 2.5 0a1.25 1.25 0 1 0 -2.5 0M568.22 317.1m-1.25 0a1.25 1.25 0 1 0 2.5 0a1.25 1.25 0 1 0 -2.5 0M568.44 317.1m-1.25 0a1.25 1.25 0 1 0 2.5 0a1.25 1.25 0 1 0 -2.5 0M568.66 317.03m-1.25 0a1.25 1.25 0 1 0 2.5 0a1.25 1.25 0 1 0 -2.5 0M568.88 316.88m-1.25 0a1.25 1.25 0 1 0 2.5 0a1.25 1.25 0 1 0 -2.5 0M569.1 316.64m-1.25 0a1.25 1.25 0 1 0 2.5 0a1.25 1.25 0 1 0 -2.5 0M569.32 316.33m-1.25 0a1.25 1.25 0 1 0 2.5 0a1.25 1.25 0 1 0 -2.5 0M569.54 315.95m-1.25 0a1.25 1.25 0 1 0 2.5 0a1.25 1.25 0 1 0 -2.5 0M569.76 315.5m-1.25 0a1.25 1.25 0 1 0 2.5 0a1.25 1.25 0 1 0 -2.5 0M569.98 315.01m-1.25 0a1.25 1.25 0 1 0 2.5 0a1.25 1.25 0 1 0 -2.5 0M570.2 314.46m-1.25 0a1.25 1.25 0 1 0 2.5 0a1.25 1.25 0 1 0 -2.5 0M570.42 313.78m-1.25 0a1.25 1.25 0 1 0 2.5 0a1.25 1.25 0 1 0 -2.5 0M570.64 312.53m-1.25 0a1.25 1.25 0 1 0 2.5 0a1.25 1.25 0 1 0 -2.5 0M570.86 310.85m-1.25 0a1.25 1.25 0 1 0 2.5 0a1.25 1.25 0 1 0 -2.5 0M571.08 308.96m-1.25 0a1.25 1.25 0 1 0 2.5 0a1.25 1.25 0 1 0 -2.5 0M571.3 307.05m-1.25 0a1.25 1.25 0 1 0 2.5 0a1.25 1.25 0 1 0 -2.5 0M571.52 305.36m-1.25 0a1.25 1.25 0 1 0 2.5 0a1.25 1.25 0 1 0 -2.5 0M571.74 303.74m-1.25 0a1.25 1.25 0 1 0 2.5 0a1.25 1.25 0 1 0 -2.5 0M571.96 302.07m-1.25 0a1.25 1.25 0 1 0 2.5 0a1.25 1.25 0 1 0 -2.5 0M572.18 300.43m-1.25 0a1.25 1.25 0 1 0 2.5 0a1.25 1.25 0 1 0 -2.5 0M572.4 298.87m-1.25 0a1.25 1.25 0 1 0 2.5 0a1.25 1.25 0 1 0 -2.5 0M572.62 297.47m-1.25 0a1.25 1.25 0 1 0 2.5 0a1.25 1.25 0 1 0 -2.5 0M572.84 296.3m-1.25 0a1.25 1.25 0 1 0 2.5 0a1.25 1.25 0 1 0 -2.5 0M573.06 295.28m-1.25 0a1.25 1.25 0 1 0 2.5 0a1.25 1.25 0 1 0 -2.5 0M573.28 294.34m-1.25 0a1.25 1.25 0 1 0 2.5 0a1.25 1.25 0 1 0 -2.5 0M573.5 293.48m-1.25 0a1.25 1.25 0 1 0 2.5 0a1.25 1.25 0 1 0 -2.5 0M573.72 292.69m-1.25 0a1.25 1.25 0 1 0 2.5 0a1.25 1.25 0 1 0 -2.5 0M573.94 291.97m-1.25 0a1.25 1.25 0 1 0 2.5 0a1.25 1.25 0 1 0 -2.5 0M574.16 291.31m-1.25 0a1.25 1.25 0 1 0 2.5 0a1.25 1.25 0 1 0 -2.5 0M574.38 290.7m-1.25 0a1.25 1.25 0 1 0 2.5 0a1.25 1.25 0 1 0 -2.5 0M574.6 290.1m-1.25 0a1.25 1.25 0 1 0 2.5 0a1.25 1.25 0 1 0 -2.5 0M574.82 289.55m-1.25 0a1.25 1.25 0 1 0 2.5 0a1.25 1.25 0 1 0 -2.5 0M575.04 289.05m-1.25 0a1.25 1.25 0 1 0 2.5 0a1.25 1.25 0 1 0 -2.5 0M575.26 288.64m-1.25 0a1.25 1.25 0 1 0 2.5 0a1.25 1.25 0 1 0 -2.5 0M575.48 288.32m-1.25 0a1.25 1.25 0 1 0 2.5 0a1.25 1.25 0 1 0 -2.5 0M575.7 288.12m-1.25 0a1.25 1.25 0 1 0 2.5 0a1.25 1.25 0 1 0 -2.5 0M575.92 288m-1.25 0a1.25 1.25 0 1 0 2.5 0a1.25 1.25 0 1 0 -2.5 0M576.14 287.87m-1.25 0a1.25 1.25 0 1 0 2.5 0a1.25 1.25 0 1 0 -2.5 0M576.36 287.65m-1.25 0a1.25 1.25 0 1 0 2.5 0a1.25 1.25 0 1 0 -2.5 0M576.58 287m-1.25 0a1.25 1.25 0 1 0 2.5 0a1.25 1.25 0 1 0 -2.5 0M576.8 285.57m-1.25 0a1.25 1.25 0 1 0 2.5 0a1.25 1.25 0 1 0 -2.5 0M577.02 283.83m-1.25 0a1.25 1.25 0 1 0 2.5 0a1.25 1.25 0 1 0 -2.5 0M577.24 282.24m-1.25 0a1.25 1.25 0 1 0 2.5 0a1.25 1.25 0 1 0 -2.5 0M577.46 280.89m-1.25 0a1.25 1.25 0 1 0 2.5 0a1.25 1.25 0 1 0 -2.5 0M577.68 279.56m-1.25 0a1.25 1.25 0 1 0 2.5 0a1.25 1.25 0 1 0 -2.5 0M577.9 278.1m-1.25 0a1.25 1.25 0 1 0 2.5 0a1.25 1.25 0 1 0 -2.5 0M578.12 276.35m-1.25 0a1.25 1.25 0 1 0 2.5 0a1.25 1.25 0 1 0 -2.5 0M578.34 274m-1.25 0a1.25 1.25 0 1 0 2.5 0a1.25 1.25 0 1 0 -2.5 0M578.56 270.73m-1.25 0a1.25 1.25 0 1 0 2.5 0a1.25 1.25 0 1 0 -2.5 0M578.78 266.92m-1.25 0a1.25 1.25 0 1 0 2.5 0a1.25 1.25 0 1 0 -2.5 0M579 263m-1.25 0a1.25 1.25 0 1 0 2.5 0a1.25 1.25 0 1 0 -2.5 0M579.22 258.56m-1.25 0a1.25 1.25 0 1 0 2.5 0a1.25 1.25 0 1 0 -2.5 0M579.44 253.98m-1.25 0a1.25 1.25 0 1 0 2.5 0a1.25 1.25 0 1 0 -2.5 0M579.66 250.81m-1.25 0a1.25 1.25 0 1 0 2.5 0a1.25 1.25 0 1 0 -2.5 0M579.88 248.49m-1.25 0a1.25 1.25 0 1 0 2.5 0a1.25 1.25 0 1 0 -2.5 0M580.1 246.55m-1.25 0a1.25 1.25 0 1 0 2.5 0a1.25 1.25 0 1 0 -2.5 0M580.32 245.05m-1.25 0a1.25 1.25 0 1 0 2.5 0a1.25 1.25 0 1 0 -2.5 0M580.54 244.06m-1.25 0a1.25 1.25 0 1 0 2.5 0a1.25 1.25 0 1 0 -2.5 0M580.76 243.43m-1.25 0a1.25 1.25 0 1 0 2.5 0a1.25 1.25 0 1 0 -2.5 0M580.98 242.99m-1.25 0a1.25 1.25 0 1 0 2.5 0a1.25 1.25 0 1 0 -2.5 0M581.2 242.6m-1.25 0a1.25 1.25 0 1 0 2.5 0a1.25 1.25 0 1 0 -2.5 0M581.42 242.13m-1.25 0a1.25 1.25 0 1 0 2.5 0a1.25 1.25 0 1 0 -2.5 0M581.64 241.45m-1.25 0a1.25 1.25 0 1 0 2.5 0a1.25 1.25 0 1 0 -2.5 0M581.86 240.32m-1.25 0a1.25 1.25 0 1 0 2.5 0a1.25 1.25 0 1 0 -2.5 0M582.08 238.85m-1.25 0a1.25 1.25 0 1 0 2.5 0a1.25 1.25 0 1 0 -2.5 0M582.3 237.29m-1.25 0a1.25 1.25 0 1 0 2.5 0a1.25 1.25 0 1 0 -2.5 0M582.52 235.88m-1.25 0a1.25 1.25 0 1 0 2.5 0a1.25 1.25 0 1 0 -2.5 0M582.74 234.49m-1.25 0a1.25 1.25 0 1 0 2.5 0a1.25 1.25 0 1 0 -2.5 0M582.96 233.11m-1.25 0a1.25 1.25 0 1 0 2.5 0a1.25 1.25 0 1 0 -2.5 0M583.18 232m-1.25 0a1.25 1.25 0 1 0 2.5 0a1.25 1.25 0 1 0 -2.5 0M583.4 231.34m-1.25 0a1.25 1.25 0 1 0 2.5 0a1.25 1.25 0 1 0 -2.5 0M583.62 230.82m-1.25 0a1.25 1.25 0 1 0 2.5 0a1.25 1.25 0 1 0 -2.5 0M583.84 230.4m-1.25 0a1.25 1.25 0 1 0 2.5 0a1.25 1.25 0 1 0 -2.5 0M584.06 230.15m-1.25 0a1.25 1.25 0 1 0 2.5 0a1.25 1.25 0 1 0 -2.5 0M584.28 230.11m-1.25 0a1.25 1.25 0 1 0 2.5 0a1.25 1.25 0 1 0 -2.5 0M584.5 230.27m-1.25 0a1.25 1.25 0 1 0 2.5 0a1.25 1.25 0 1 0 -2.5 0M584.72 230.61m-1.25 0a1.25 1.25 0 1 0 2.5 0a1.25 1.25 0 1 0 -2.5 0M584.94 231.16m-1.25 0a1.25 1.25 0 1 0 2.5 0a1.25 1.25 0 1 0 -2.5 0M585.16 233.58m-1.25 0a1.25 1.25 0 1 0 2.5 0a1.25 1.25 0 1 0 -2.5 0M585.38 237.18m-1.25 0a1.25 1.25 0 1 0 2.5 0a1.25 1.25 0 1 0 -2.5 0M585.6 241.33m-1.25 0a1.25 1.25 0 1 0 2.5 0a1.25 1.25 0 1 0 -2.5 0M585.82 245.87m-1.25 0a1.25 1.25 0 1 0 2.5 0a1.25 1.25 0 1 0 -2.5 0M586.04 249.2m-1.25 0a1.25 1.25 0 1 0 2.5 0a1.25 1.25 0 1 0 -2.5 0M586.26 252.09m-1.25 0a1.25 1.25 0 1 0 2.5 0a1.25 1.25 0 1 0 -2.5 0M586.48 254.69m-1.25 0a1.25 1.25 0 1 0 2.5 0a1.25 1.25 0 1 0 -2.5 0M586.7 257.06m-1.25 0a1.25 1.25 0 1 0 2.5 0a1.25 1.25 0 1 0 -2.5 0M586.92 259.21m-1.25 0a1.25 1.25 0 1 0 2.5 0a1.25 1.25 0 1 0 -2.5 0M587.14 261.19m-1.25 0a1.25 1.25 0 1 0 2.5 0a1.25 1.25 0 1 0 -2.5 0M587.36 263.04m-1.25 0a1.25 1.25 0 1 0 2.5 0a1.25 1.25 0 1 0 -2.5 0M587.58 264.81m-1.25 0a1.25 1.25 0 1 0 2.5 0a1.25 1.25 0 1 0 -2.5 0M587.8 266.51m-1.25 0a1.25 1.25 0 1 0 2.5 0a1.25 1.25 0 1 0 -2.5 0M588.02 268.12m-1.25 0a1.25 1.25 0 1 0 2.5 0a1.25 1.25 0 1 0 -2.5 0M588.24 269.65m-1.25 0a1.25 1.25 0 1 0 2.5 0a1.25 1.25 0 1 0 -2.5 0M588.46 271.1m-1.25 0a1.25 1.25 0 1 0 2.5 0a1.25 1.25 0 1 0 -2.5 0M588.68 272.45m-1.25 0a1.25 1.25 0 1 0 2.5 0a1.25 1.25 0 1 0 -2.5 0M588.9 273.71m-1.25 0a1.25 1.25 0 1 0 2.5 0a1.25 1.25 0 1 0 -2.5 0M589.12 274.87m-1.25 0a1.25 1.25 0 1 0 2.5 0a1.25 1.25 0 1 0 -2.5 0M589.34 275.93m-1.25 0a1.25 1.25 0 1 0 2.5 0a1.25 1.25 0 1 0 -2.5 0M589.56 276.9m-1.25 0a1.25 1.25 0 1 0 2.5 0a1.25 1.25 0 1 0 -2.5 0M589.78 277.83m-1.25 0a1.25 1.25 0 1 0 2.5 0a1.25 1.25 0 1 0 -2.5 0M590 278.72m-1.25 0a1.25 1.25 0 1 0 2.5 0a1.25 1.25 0 1 0 -2.5 0M590.22 279.57m-1.25 0a1.25 1.25 0 1 0 2.5 0a1.25 1.25 0 1 0 -2.5 0M590.44 280.39m-1.25 0a1.25 1.25 0 1 0 2.5 0a1.25 1.25 0 1 0 -2.5 0M590.66 281.17m-1.25 0a1.25 1.25 0 1 0 2.5 0a1.25 1.25 0 1 0 -2.5 0M590.88 281.92m-1.25 0a1.25 1.25 0 1 0 2.5 0a1.25 1.25 0 1 0 -2.5 0M591.1 282.64m-1.25 0a1.25 1.25 0 1 0 2.5 0a1.25 1.25 0 1 0 -2.5 0M591.32 283.33m-1.25 0a1.25 1.25 0 1 0 2.5 0a1.25 1.25 0 1 0 -2.5 0M591.54 283.99m-1.25 0a1.25 1.25 0 1 0 2.5 0a1.25 1.25 0 1 0 -2.5 0M591.76 284.62m-1.25 0a1.25 1.25 0 1 0 2.5 0a1.25 1.25 0 1 0 -2.5 0M591.98 285.24m-1.25 0a1.25 1.25 0 1 0 2.5 0a1.25 1.25 0 1 0 -2.5 0M592.2 285.82m-1.25 0a1.25 1.25 0 1 0 2.5 0a1.25 1.25 0 1 0 -2.5 0M592.42 286.39m-1.25 0a1.25 1.25 0 1 0 2.5 0a1.25 1.25 0 1 0 -2.5 0M592.64 286.94m-1.25 0a1.25 1.25 0 1 0 2.5 0a1.25 1.25 0 1 0 -2.5 0M592.86 287.47m-1.25 0a1.25 1.25 0 1 0 2.5 0a1.25 1.25 0 1 0 -2.5 0M593.08 287.99m-1.25 0a1.25 1.25 0 1 0 2.5 0a1.25 1.25 0 1 0 -2.5 0M593.3 288.49m-1.25 0a1.25 1.25 0 1 0 2.5 0a1.25 1.25 0 1 0 -2.5 0M593.52 288.99m-1.25 0a1.25 1.25 0 1 0 2.5 0a1.25 1.25 0 1 0 -2.5 0M593.74 289.48m-1.25 0a1.25 1.25 0 1 0 2.5 0a1.25 1.25 0 1 0 -2.5 0M593.96 289.96m-1.25 0a1.25 1.25 0 1 0 2.5 0a1.25 1.25 0 1 0 -2.5 0M594.18 290.43m-1.25 0a1.25 1.25 0 1 0 2.5 0a1.25 1.25 0 1 0 -2.5 0M594.4 290.89m-1.25 0a1.25 1.25 0 1 0 2.5 0a1.25 1.25 0 1 0 -2.5 0M594.62 291.34m-1.25 0a1.25 1.25 0 1 0 2.5 0a1.25 1.25 0 1 0 -2.5 0M594.84 291.78m-1.25 0a1.25 1.25 0 1 0 2.5 0a1.25 1.25 0 1 0 -2.5 0M595.06 292.22m-1.25 0a1.25 1.25 0 1 0 2.5 0a1.25 1.25 0 1 0 -2.5 0M595.28 292.64m-1.25 0a1.25 1.25 0 1 0 2.5 0a1.25 1.25 0 1 0 -2.5 0M595.5 293.06m-1.25 0a1.25 1.25 0 1 0 2.5 0a1.25 1.25 0 1 0 -2.5 0M595.72 293.46m-1.25 0a1.25 1.25 0 1 0 2.5 0a1.25 1.25 0 1 0 -2.5 0M595.94 293.85m-1.25 0a1.25 1.25 0 1 0 2.5 0a1.25 1.25 0 1 0 -2.5 0M596.16 294.24m-1.25 0a1.25 1.25 0 1 0 2.5 0a1.25 1.25 0 1 0 -2.5 0M596.38 294.61m-1.25 0a1.25 1.25 0 1 0 2.5 0a1.25 1.25 0 1 0 -2.5 0M596.6 294.98m-1.25 0a1.25 1.25 0 1 0 2.5 0a1.25 1.25 0 1 0 -2.5 0M596.82 295.33m-1.25 0a1.25 1.25 0 1 0 2.5 0a1.25 1.25 0 1 0 -2.5 0M597.04 295.67m-1.25 0a1.25 1.25 0 1 0 2.5 0a1.25 1.25 0 1 0 -2.5 0M597.26 296m-1.25 0a1.25 1.25 0 1 0 2.5 0a1.25 1.25 0 1 0 -2.5 0M597.48 296.32m-1.25 0a1.25 1.25 0 1 0 2.5 0a1.25 1.25 0 1 0 -2.5 0M597.7 296.63m-1.25 0a1.25 1.25 0 1 0 2.5 0a1.25 1.25 0 1 0 -2.5 0M597.92 296.93m-1.25 0a1.25 1.25 0 1 0 2.5 0a1.25 1.25 0 1 0 -2.5 0M598.14 297.21m-1.25 0a1.25 1.25 0 1 0 2.5 0a1.25 1.25 0 1 0 -2.5 0M598.36 297.49m-1.25 0a1.25 1.25 0 1 0 2.5 0a1.25 1.25 0 1 0 -2.5 0M598.58 297.75m-1.25 0a1.25 1.25 0 1 0 2.5 0a1.25 1.25 0 1 0 -2.5 0M598.8 298m-1.25 0a1.25 1.25 0 1 0 2.5 0a1.25 1.25 0 1 0 -2.5 0M599.02 298.24m-1.25 0a1.25 1.25 0 1 0 2.5 0a1.25 1.25 0 1 0 -2.5 0M599.24 298.48m-1.25 0a1.25 1.25 0 1 0 2.5 0a1.25 1.25 0 1 0 -2.5 0M599.46 298.71m-1.25 0a1.25 1.25 0 1 0 2.5 0a1.25 1.25 0 1 0 -2.5 0M599.68 298.94m-1.25 0a1.25 1.25 0 1 0 2.5 0a1.25 1.25 0 1 0 -2.5 0M599.9 299.16m-1.25 0a1.25 1.25 0 1 0 2.5 0a1.25 1.25 0 1 0 -2.5 0M600.12 299.37m-1.25 0a1.25 1.25 0 1 0 2.5 0a1.25 1.25 0 1 0 -2.5 0M600.34 299.59m-1.25 0a1.25 1.25 0 1 0 2.5 0a1.25 1.25 0 1 0 -2.5 0M600.56 299.79m-1.25 0a1.25 1.25 0 1 0 2.5 0a1.25 1.25 0 1 0 -2.5 0M600.78 300m-1.25 0a1.25 1.25 0 1 0 2.5 0a1.25 1.25 0 1 0 -2.5 0M601 300.19m-1.25 0a1.25 1.25 0 1 0 2.5 0a1.25 1.25 0 1 0 -2.5 0M601.22 300.39m-1.25 0a1.25 1.25 0 1 0 2.5 0a1.25 1.25 0 1 0 -2.5 0M601.44 300.58m-1.25 0a1.25 1.25 0 1 0 2.5 0a1.25 1.25 0 1 0 -2.5 0M601.66 300.76m-1.25 0a1.25 1.25 0 1 0 2.5 0a1.25 1.25 0 1 0 -2.5 0M601.88 300.95m-1.25 0a1.25 1.25 0 1 0 2.5 0a1.25 1.25 0 1 0 -2.5 0M602.1 301.12m-1.25 0a1.25 1.25 0 1 0 2.5 0a1.25 1.25 0 1 0 -2.5 0M602.32 301.3m-1.25 0a1.25 1.25 0 1 0 2.5 0a1.25 1.25 0 1 0 -2.5 0M602.54 301.47m-1.25 0a1.25 1.25 0 1 0 2.5 0a1.25 1.25 0 1 0 -2.5 0M602.76 301.64m-1.25 0a1.25 1.25 0 1 0 2.5 0a1.25 1.25 0 1 0 -2.5 0M602.98 301.8m-1.25 0a1.25 1.25 0 1 0 2.5 0a1.25 1.25 0 1 0 -2.5 0M603.2 301.96m-1.25 0a1.25 1.25 0 1 0 2.5 0a1.25 1.25 0 1 0 -2.5 0M603.42 302.12m-1.25 0a1.25 1.25 0 1 0 2.5 0a1.25 1.25 0 1 0 -2.5 0M603.64 302.27m-1.25 0a1.25 1.25 0 1 0 2.5 0a1.25 1.25 0 1 0 -2.5 0M603.86 302.42m-1.25 0a1.25 1.25 0 1 0 2.5 0a1.25 1.25 0 1 0 -2.5 0M604.08 302.57m-1.25 0a1.25 1.25 0 1 0 2.5 0a1.25 1.25 0 1 0 -2.5 0M604.3 302.71m-1.25 0a1.25 1.25 0 1 0 2.5 0a1.25 1.25 0 1 0 -2.5 0M604.52 302.85m-1.25 0a1.25 1.25 0 1 0 2.5 0a1.25 1.25 0 1 0 -2.5 0M604.74 302.99m-1.25 0a1.25 1.25 0 1 0 2.5 0a1.25 1.25 0 1 0 -2.5 0M604.96 303.13m-1.25 0a1.25 1.25 0 1 0 2.5 0a1.25 1.25 0 1 0 -2.5 0M605.18 303.26m-1.25 0a1.25 1.25 0 1 0 2.5 0a1.25 1.25 0 1 0 -2.5 0M605.4 303.4m-1.25 0a1.25 1.25 0 1 0 2.5 0a1.25 1.25 0 1 0 -2.5 0M605.62 303.52m-1.25 0a1.25 1.25 0 1 0 2.5 0a1.25 1.25 0 1 0 -2.5 0M605.84 303.65m-1.25 0a1.25 1.25 0 1 0 2.5 0a1.25 1.25 0 1 0 -2.5 0M606.06 303.78m-1.25 0a1.25 1.25 0 1 0 2.5 0a1.25 1.25 0 1 0 -2.5 0M606.28 303.9m-1.25 0a1.25 1.25 0 1 0 2.5 0a1.25 1.25 0 1 0 -2.5 0M606.5 304.02m-1.25 0a1.25 1.25 0 1 0 2.5 0a1.25 1.25 0 1 0 -2.5 0M606.72 304.14m-1.25 0a1.25 1.25 0 1 0 2.5 0a1.25 1.25 0 1 0 -2.5 0M606.94 304.26m-1.25 0a1.25 1.25 0 1 0 2.5 0a1.25 1.25 0 1 0 -2.5 0M607.16 304.38m-1.25 0a1.25 1.25 0 1 0 2.5 0a1.25 1.25 0 1 0 -2.5 0M607.38 304.49m-1.25 0a1.25 1.25 0 1 0 2.5 0a1.25 1.25 0 1 0 -2.5 0M607.6 304.61m-1.25 0a1.25 1.25 0 1 0 2.5 0a1.25 1.25 0 1 0 -2.5 0M607.82 304.72m-1.25 0a1.25 1.25 0 1 0 2.5 0a1.25 1.25 0 1 0 -2.5 0M608.04 304.83m-1.25 0a1.25 1.25 0 1 0 2.5 0a1.25 1.25 0 1 0 -2.5 0M608.26 304.94m-1.25 0a1.25 1.25 0 1 0 2.5 0a1.25 1.25 0 1 0 -2.5 0M608.48 305.05m-1.25 0a1.25 1.25 0 1 0 2.5 0a1.25 1.25 0 1 0 -2.5 0M608.7 305.16m-1.25 0a1.25 1.25 0 1 0 2.5 0a1.25 1.25 0 1 0 -2.5 0M608.92 305.26m-1.25 0a1.25 1.25 0 1 0 2.5 0a1.25 1.25 0 1 0 -2.5 0M609.14 305.37m-1.25 0a1.25 1.25 0 1 0 2.5 0a1.25 1.25 0 1 0 -2.5 0M609.36 305.47m-1.25 0a1.25 1.25 0 1 0 2.5 0a1.25 1.25 0 1 0 -2.5 0M609.58 305.57m-1.25 0a1.25 1.25 0 1 0 2.5 0a1.25 1.25 0 1 0 -2.5 0M609.8 305.67m-1.25 0a1.25 1.25 0 1 0 2.5 0a1.25 1.25 0 1 0 -2.5 0M610.02 305.77m-1.25 0a1.25 1.25 0 1 0 2.5 0a1.25 1.25 0 1 0 -2.5 0M610.24 305.87m-1.25 0a1.25 1.25 0 1 0 2.5 0a1.25 1.25 0 1 0 -2.5 0M610.46 305.97m-1.25 0a1.25 1.25 0 1 0 2.5 0a1.25 1.25 0 1 0 -2.5 0M610.68 306.06m-1.25 0a1.25 1.25 0 1 0 2.5 0a1.25 1.25 0 1 0 -2.5 0M610.9 306.16m-1.25 0a1.25 1.25 0 1 0 2.5 0a1.25 1.25 0 1 0 -2.5 0M611.12 306.25m-1.25 0a1.25 1.25 0 1 0 2.5 0a1.25 1.25 0 1 0 -2.5 0M611.34 306.34m-1.25 0a1.25 1.25 0 1 0 2.5 0a1.25 1.25 0 1 0 -2.5 0M611.56 306.43m-1.25 0a1.25 1.25 0 1 0 2.5 0a1.25 1.25 0 1 0 -2.5 0M611.78 306.52m-1.25 0a1.25 1.25 0 1 0 2.5 0a1.25 1.25 0 1 0 -2.5 0M612 306.61m-1.25 0a1.25 1.25 0 1 0 2.5 0a1.25 1.25 0 1 0 -2.5 0M612.22 306.7m-1.25 0a1.25 1.25 0 1 0 2.5 0a1.25 1.25 0 1 0 -2.5 0M612.44 306.78m-1.25 0a1.25 1.25 0 1 0 2.5 0a1.25 1.25 0 1 0 -2.5 0M612.66 306.87m-1.25 0a1.25 1.25 0 1 0 2.5 0a1.25 1.25 0 1 0 -2.5 0M612.88 306.95m-1.25 0a1.25 1.25 0 1 0 2.5 0a1.25 1.25 0 1 0 -2.5 0M613.1 307.03m-1.25 0a1.25 1.25 0 1 0 2.5 0a1.25 1.25 0 1 0 -2.5 0M613.32 307.11m-1.25 0a1.25 1.25 0 1 0 2.5 0a1.25 1.25 0 1 0 -2.5 0M613.54 307.2m-1.25 0a1.25 1.25 0 1 0 2.5 0a1.25 1.25 0 1 0 -2.5 0M613.76 307.28m-1.25 0a1.25 1.25 0 1 0 2.5 0a1.25 1.25 0 1 0 -2.5 0M613.98 307.35m-1.25 0a1.25 1.25 0 1 0 2.5 0a1.25 1.25 0 1 0 -2.5 0M614.2 307.43m-1.25 0a1.25 1.25 0 1 0 2.5 0a1.25 1.25 0 1 0 -2.5 0M614.42 307.51m-1.25 0a1.25 1.25 0 1 0 2.5 0a1.25 1.25 0 1 0 -2.5 0M614.64 307.59m-1.25 0a1.25 1.25 0 1 0 2.5 0a1.25 1.25 0 1 0 -2.5 0M614.86 307.66m-1.25 0a1.25 1.25 0 1 0 2.5 0a1.25 1.25 0 1 0 -2.5 0M615.08 307.73m-1.25 0a1.25 1.25 0 1 0 2.5 0a1.25 1.25 0 1 0 -2.5 0M615.3 307.81m-1.25 0a1.25 1.25 0 1 0 2.5 0a1.25 1.25 0 1 0 -2.5 0M615.52 307.88m-1.25 0a1.25 1.25 0 1 0 2.5 0a1.25 1.25 0 1 0 -2.5 0M615.74 307.95m-1.25 0a1.25 1.25 0 1 0 2.5 0a1.25 1.25 0 1 0 -2.5 0M615.96 308.02m-1.25 0a1.25 1.25 0 1 0 2.5 0a1.25 1.25 0 1 0 -2.5 0M616.18 308.09m-1.25 0a1.25 1.25 0 1 0 2.5 0a1.25 1.25 0 1 0 -2.5 0M616.4 308.16m-1.25 0a1.25 1.25 0 1 0 2.5 0a1.25 1.25 0 1 0 -2.5 0M616.62 308.23m-1.25 0a1.25 1.25 0 1 0 2.5 0a1.25 1.25 0 1 0 -2.5 0M616.84 308.3m-1.25 0a1.25 1.25 0 1 0 2.5 0a1.25 1.25 0 1 0 -2.5 0M617.06 308.37m-1.25 0a1.25 1.25 0 1 0 2.5 0a1.25 1.25 0 1 0 -2.5 0M617.28 308.44m-1.25 0a1.25 1.25 0 1 0 2.5 0a1.25 1.25 0 1 0 -2.5 0M617.5 308.5m-1.25 0a1.25 1.25 0 1 0 2.5 0a1.25 1.25 0 1 0 -2.5 0M617.72 308.57m-1.25 0a1.25 1.25 0 1 0 2.5 0a1.25 1.25 0 1 0 -2.5 0M617.94 308.64m-1.25 0a1.25 1.25 0 1 0 2.5 0a1.25 1.25 0 1 0 -2.5 0M618.16 308.7m-1.25 0a1.25 1.25 0 1 0 2.5 0a1.25 1.25 0 1 0 -2.5 0M618.38 308.77m-1.25 0a1.25 1.25 0 1 0 2.5 0a1.25 1.25 0 1 0 -2.5 0M618.6 308.83m-1.25 0a1.25 1.25 0 1 0 2.5 0a1.25 1.25 0 1 0 -2.5 0M618.82 308.9m-1.25 0a1.25 1.25 0 1 0 2.5 0a1.25 1.25 0 1 0 -2.5 0M619.04 308.96m-1.25 0a1.25 1.25 0 1 0 2.5 0a1.25 1.25 0 1 0 -2.5 0M619.26 309.02m-1.25 0a1.25 1.25 0 1 0 2.5 0a1.25 1.25 0 1 0 -2.5 0M619.48 309.09m-1.25 0a1.25 1.25 0 1 0 2.5 0a1.25 1.25 0 1 0 -2.5 0M619.7 309.15m-1.25 0a1.25 1.25 0 1 0 2.5 0a1.25 1.25 0 1 0 -2.5 0M619.92 309.21m-1.25 0a1.25 1.25 0 1 0 2.5 0a1.25 1.25 0 1 0 -2.5 0M620.14 309.27m-1.25 0a1.25 1.25 0 1 0 2.5 0a1.25 1.25 0 1 0 -2.5 0M620.36 309.33m-1.25 0a1.25 1.25 0 1 0 2.5 0a1.25 1.25 0 1 0 -2.5 0M620.58 309.39m-1.25 0a1.25 1.25 0 1 0 2.5 0a1.25 1.25 0 1 0 -2.5 0M620.8 309.45m-1.25 0a1.25 1.25 0 1 0 2.5 0a1.25 1.25 0 1 0 -2.5 0M621.02 309.51m-1.25 0a1.25 1.25 0 1 0 2.5 0a1.25 1.25 0 1 0 -2.5 0M621.24 309.57m-1.25 0a1.25 1.25 0 1 0 2.5 0a1.25 1.25 0 1 0 -2.5 0M621.46 309.62m-1.25 0a1.25 1.25 0 1 0 2.5 0a1.25 1.25 0 1 0 -2.5 0M621.68 309.68m-1.25 0a1.25 1.25 0 1 0 2.5 0a1.25 1.25 0 1 0 -2.5 0M621.9 309.74m-1.25 0a1.25 1.25 0 1 0 2.5 0a1.25 1.25 0 1 0 -2.5 0M622.12 309.79m-1.25 0a1.25 1.25 0 1 0 2.5 0a1.25 1.25 0 1 0 -2.5 0M622.34 309.85m-1.25 0a1.25 1.25 0 1 0 2.5 0a1.25 1.25 0 1 0 -2.5 0M622.56 309.9m-1.25 0a1.25 1.25 0 1 0 2.5 0a1.25 1.25 0 1 0 -2.5 0M622.78 309.96m-1.25 0a1.25 1.25 0 1 0 2.5 0a1.25 1.25 0 1 0 -2.5 0M623 310.01m-1.25 0a1.25 1.25 0 1 0 2.5 0a1.25 1.25 0 1 0 -2.5 0M623.22 310.06m-1.25 0a1.25 1.25 0 1 0 2.5 0a1.25 1.25 0 1 0 -2.5 0M623.44 310.11m-1.25 0a1.25 1.25 0 1 0 2.5 0a1.25 1.25 0 1 0 -2.5 0M623.66 310.16m-1.25 0a1.25 1.25 0 1 0 2.5 0a1.25 1.25 0 1 0 -2.5 0M623.88 310.22m-1.25 0a1.25 1.25 0 1 0 2.5 0a1.25 1.25 0 1 0 -2.5 0M624.1 310.27m-1.25 0a1.25 1.25 0 1 0 2.5 0a1.25 1.25 0 1 0 -2.5 0M624.32 310.31m-1.25 0a1.25 1.25 0 1 0 2.5 0a1.25 1.25 0 1 0 -2.5 0M624.54 310.36m-1.25 0a1.25 1.25 0 1 0 2.5 0a1.25 1.25 0 1 0 -2.5 0M624.76 310.41m-1.25 0a1.25 1.25 0 1 0 2.5 0a1.25 1.25 0 1 0 -2.5 0M624.98 310.46m-1.25 0a1.25 1.25 0 1 0 2.5 0a1.25 1.25 0 1 0 -2.5 0M625.2 310.5m-1.25 0a1.25 1.25 0 1 0 2.5 0a1.25 1.25 0 1 0 -2.5 0M625.42 310.55m-1.25 0a1.25 1.25 0 1 0 2.5 0a1.25 1.25 0 1 0 -2.5 0M625.64 310.6m-1.25 0a1.25 1.25 0 1 0 2.5 0a1.25 1.25 0 1 0 -2.5 0M625.86 310.64m-1.25 0a1.25 1.25 0 1 0 2.5 0a1.25 1.25 0 1 0 -2.5 0M626.08 310.68m-1.25 0a1.25 1.25 0 1 0 2.5 0a1.25 1.25 0 1 0 -2.5 0M626.3 310.73m-1.25 0a1.25 1.25 0 1 0 2.5 0a1.25 1.25 0 1 0 -2.5 0M626.52 310.77m-1.25 0a1.25 1.25 0 1 0 2.5 0a1.25 1.25 0 1 0 -2.5 0M626.74 310.81m-1.25 0a1.25 1.25 0 1 0 2.5 0a1.25 1.25 0 1 0 -2.5 0M626.96 310.85m-1.25 0a1.25 1.25 0 1 0 2.5 0a1.25 1.25 0 1 0 -2.5 0M627.18 310.89m-1.25 0a1.25 1.25 0 1 0 2.5 0a1.25 1.25 0 1 0 -2.5 0M627.4 310.93m-1.25 0a1.25 1.25 0 1 0 2.5 0a1.25 1.25 0 1 0 -2.5 0M627.62 310.97m-1.25 0a1.25 1.25 0 1 0 2.5 0a1.25 1.25 0 1 0 -2.5 0M627.84 311.01m-1.25 0a1.25 1.25 0 1 0 2.5 0a1.25 1.25 0 1 0 -2.5 0M628.06 311.04m-1.25 0a1.25 1.25 0 1 0 2.5 0a1.25 1.25 0 1 0 -2.5 0M628.28 311.08m-1.25 0a1.25 1.25 0 1 0 2.5 0a1.25 1.25 0 1 0 -2.5 0M628.5 311.12m-1.25 0a1.25 1.25 0 1 0 2.5 0a1.25 1.25 0 1 0 -2.5 0M628.72 311.15m-1.25 0a1.25 1.25 0 1 0 2.5 0a1.25 1.25 0 1 0 -2.5 0M628.94 311.19m-1.25 0a1.25 1.25 0 1 0 2.5 0a1.25 1.25 0 1 0 -2.5 0M629.16 311.22m-1.25 0a1.25 1.25 0 1 0 2.5 0a1.25 1.25 0 1 0 -2.5 0M629.38 311.25m-1.25 0a1.25 1.25 0 1 0 2.5 0a1.25 1.25 0 1 0 -2.5 0M629.6 311.29m-1.25 0a1.25 1.25 0 1 0 2.5 0a1.25 1.25 0 1 0 -2.5 0M629.82 311.32m-1.25 0a1.25 1.25 0 1 0 2.5 0a1.25 1.25 0 1 0 -2.5 0M630.04 311.35m-1.25 0a1.25 1.25 0 1 0 2.5 0a1.25 1.25 0 1 0 -2.5 0M630.26 311.38m-1.25 0a1.25 1.25 0 1 0 2.5 0a1.25 1.25 0 1 0 -2.5 0M630.48 311.42m-1.25 0a1.25 1.25 0 1 0 2.5 0a1.25 1.25 0 1 0 -2.5 0M630.7 311.45m-1.25 0a1.25 1.25 0 1 0 2.5 0a1.25 1.25 0 1 0 -2.5 0M630.92 311.48m-1.25 0a1.25 1.25 0 1 0 2.5 0a1.25 1.25 0 1 0 -2.5 0M631.14 311.51m-1.25 0a1.25 1.25 0 1 0 2.5 0a1.25 1.25 0 1 0 -2.5 0M631.36 311.54m-1.25 0a1.25 1.25 0 1 0 2.5 0a1.25 1.25 0 1 0 -2.5 0M631.58 311.57m-1.25 0a1.25 1.25 0 1 0 2.5 0a1.25 1.25 0 1 0 -2.5 0M631.8 311.59m-1.25 0a1.25 1.25 0 1 0 2.5 0a1.25 1.25 0 1 0 -2.5 0M632.02 311.62m-1.25 0a1.25 1.25 0 1 0 2.5 0a1.25 1.25 0 1 0 -2.5 0M632.24 311.65m-1.25 0a1.25 1.25 0 1 0 2.5 0a1.25 1.25 0 1 0 -2.5 0M632.46 311.68m-1.25 0a1.25 1.25 0 1 0 2.5 0a1.25 1.25 0 1 0 -2.5 0M632.68 311.71m-1.25 0a1.25 1.25 0 1 0 2.5 0a1.25 1.25 0 1 0 -2.5 0M632.9 311.74m-1.25 0a1.25 1.25 0 1 0 2.5 0a1.25 1.25 0 1 0 -2.5 0M633.12 311.76m-1.25 0a1.25 1.25 0 1 0 2.5 0a1.25 1.25 0 1 0 -2.5 0M633.34 311.79m-1.25 0a1.25 1.25 0 1 0 2.5 0a1.25 1.25 0 1 0 -2.5 0M633.56 311.82m-1.25 0a1.25 1.25 0 1 0 2.5 0a1.25 1.25 0 1 0 -2.5 0M633.78 311.84m-1.25 0a1.25 1.25 0 1 0 2.5 0a1.25 1.25 0 1 0 -2.5 0M634 311.87m-1.25 0a1.25 1.25 0 1 0 2.5 0a1.25 1.25 0 1 0 -2.5 0M634.22 311.9m-1.25 0a1.25 1.25 0 1 0 2.5 0a1.25 1.25 0 1 0 -2.5 0M634.44 311.92m-1.25 0a1.25 1.25 0 1 0 2.5 0a1.25 1.25 0 1 0 -2.5 0M634.66 311.95m-1.25 0a1.25 1.25 0 1 0 2.5 0a1.25 1.25 0 1 0 -2.5 0M634.88 311.97m-1.25 0a1.25 1.25 0 1 0 2.5 0a1.25 1.25 0 1 0 -2.5 0M635.1 312m-1.25 0a1.25 1.25 0 1 0 2.5 0a1.25 1.25 0 1 0 -2.5 0M635.32 312.02m-1.25 0a1.25 1.25 0 1 0 2.5 0a1.25 1.25 0 1 0 -2.5 0M635.54 312.05m-1.25 0a1.25 1.25 0 1 0 2.5 0a1.25 1.25 0 1 0 -2.5 0M635.76 312.07m-1.25 0a1.25 1.25 0 1 0 2.5 0a1.25 1.25 0 1 0 -2.5 0M635.98 312.1m-1.25 0a1.25 1.25 0 1 0 2.5 0a1.25 1.25 0 1 0 -2.5 0M636.2 312.13m-1.25 0a1.25 1.25 0 1 0 2.5 0a1.25 1.25 0 1 0 -2.5 0M636.42 312.15m-1.25 0a1.25 1.25 0 1 0 2.5 0a1.25 1.25 0 1 0 -2.5 0M636.64 312.18m-1.25 0a1.25 1.25 0 1 0 2.5 0a1.25 1.25 0 1 0 -2.5 0M636.86 312.2m-1.25 0a1.25 1.25 0 1 0 2.5 0a1.25 1.25 0 1 0 -2.5 0M637.08 312.23m-1.25 0a1.25 1.25 0 1 0 2.5 0a1.25 1.25 0 1 0 -2.5 0M637.3 312.25m-1.25 0a1.25 1.25 0 1 0 2.5 0a1.25 1.25 0 1 0 -2.5 0M637.52 312.28m-1.25 0a1.25 1.25 0 1 0 2.5 0a1.25 1.25 0 1 0 -2.5 0M637.74 312.3m-1.25 0a1.25 1.25 0 1 0 2.5 0a1.25 1.25 0 1 0 -2.5 0M637.96 312.33m-1.25 0a1.25 1.25 0 1 0 2.5 0a1.25 1.25 0 1 0 -2.5 0M638.18 312.35m-1.25 0a1.25 1.25 0 1 0 2.5 0a1.25 1.25 0 1 0 -2.5 0M638.4 312.38m-1.25 0a1.25 1.25 0 1 0 2.5 0a1.25 1.25 0 1 0 -2.5 0M638.62 312.41m-1.25 0a1.25 1.25 0 1 0 2.5 0a1.25 1.25 0 1 0 -2.5 0M638.84 312.43m-1.25 0a1.25 1.25 0 1 0 2.5 0a1.25 1.25 0 1 0 -2.5 0M639.06 312.46m-1.25 0a1.25 1.25 0 1 0 2.5 0a1.25 1.25 0 1 0 -2.5 0M639.28 312.49m-1.25 0a1.25 1.25 0 1 0 2.5 0a1.25 1.25 0 1 0 -2.5 0M639.5 312.51m-1.25 0a1.25 1.25 0 1 0 2.5 0a1.25 1.25 0 1 0 -2.5 0M639.72 312.54m-1.25 0a1.25 1.25 0 1 0 2.5 0a1.25 1.25 0 1 0 -2.5 0M639.94 312.57m-1.25 0a1.25 1.25 0 1 0 2.5 0a1.25 1.25 0 1 0 -2.5 0M640.16 312.59m-1.25 0a1.25 1.25 0 1 0 2.5 0a1.25 1.25 0 1 0 -2.5 0M640.38 312.62m-1.25 0a1.25 1.25 0 1 0 2.5 0a1.25 1.25 0 1 0 -2.5 0M640.6 312.65m-1.25 0a1.25 1.25 0 1 0 2.5 0a1.25 1.25 0 1 0 -2.5 0M640.82 312.67m-1.25 0a1.25 1.25 0 1 0 2.5 0a1.25 1.25 0 1 0 -2.5 0M641.04 312.7m-1.25 0a1.25 1.25 0 1 0 2.5 0a1.25 1.25 0 1 0 -2.5 0M641.26 312.72m-1.25 0a1.25 1.25 0 1 0 2.5 0a1.25 1.25 0 1 0 -2.5 0M641.48 312.75m-1.25 0a1.25 1.25 0 1 0 2.5 0a1.25 1.25 0 1 0 -2.5 0M641.7 312.78m-1.25 0a1.25 1.25 0 1 0 2.5 0a1.25 1.25 0 1 0 -2.5 0M641.92 312.8m-1.25 0a1.25 1.25 0 1 0 2.5 0a1.25 1.25 0 1 0 -2.5 0M642.14 312.83m-1.25 0a1.25 1.25 0 1 0 2.5 0a1.25 1.25 0 1 0 -2.5 0M642.36 312.86m-1.25 0a1.25 1.25 0 1 0 2.5 0a1.25 1.25 0 1 0 -2.5 0M642.58 312.88m-1.25 0a1.25 1.25 0 1 0 2.5 0a1.25 1.25 0 1 0 -2.5 0M642.8 312.91m-1.25 0a1.25 1.25 0 1 0 2.5 0a1.25 1.25 0 1 0 -2.5 0M643.02 312.93m-1.25 0a1.25 1.25 0 1 0 2.5 0a1.25 1.25 0 1 0 -2.5 0M643.24 312.96m-1.25 0a1.25 1.25 0 1 0 2.5 0a1.25 1.25 0 1 0 -2.5 0M643.46 312.99m-1.25 0a1.25 1.25 0 1 0 2.5 0a1.25 1.25 0 1 0 -2.5 0M643.68 313.01m-1.25 0a1.25 1.25 0 1 0 2.5 0a1.25 1.25 0 1 0 -2.5 0M643.9 313.04m-1.25 0a1.25 1.25 0 1 0 2.5 0a1.25 1.25 0 1 0 -2.5 0M644.12 313.06m-1.25 0a1.25 1.25 0 1 0 2.5 0a1.25 1.25 0 1 0 -2.5 0M644.34 313.09m-1.25 0a1.25 1.25 0 1 0 2.5 0a1.25 1.25 0 1 0 -2.5 0M644.56 313.12m-1.25 0a1.25 1.25 0 1 0 2.5 0a1.25 1.25 0 1 0 -2.5 0M644.78 313.14m-1.25 0a1.25 1.25 0 1 0 2.5 0a1.25 1.25 0 1 0 -2.5 0M645 313.17m-1.25 0a1.25 1.25 0 1 0 2.5 0a1.25 1.25 0 1 0 -2.5 0M645.22 313.19m-1.25 0a1.25 1.25 0 1 0 2.5 0a1.25 1.25 0 1 0 -2.5 0M645.44 313.22m-1.25 0a1.25 1.25 0 1 0 2.5 0a1.25 1.25 0 1 0 -2.5 0M645.66 313.24m-1.25 0a1.25 1.25 0 1 0 2.5 0a1.25 1.25 0 1 0 -2.5 0M645.88 313.27m-1.25 0a1.25 1.25 0 1 0 2.5 0a1.25 1.25 0 1 0 -2.5 0M646.1 313.29m-1.25 0a1.25 1.25 0 1 0 2.5 0a1.25 1.25 0 1 0 -2.5 0M646.32 313.32m-1.25 0a1.25 1.25 0 1 0 2.5 0a1.25 1.25 0 1 0 -2.5 0M646.54 313.35m-1.25 0a1.25 1.25 0 1 0 2.5 0a1.25 1.25 0 1 0 -2.5 0M646.76 313.37m-1.25 0a1.25 1.25 0 1 0 2.5 0a1.25 1.25 0 1 0 -2.5 0M646.98 313.4m-1.25 0a1.25 1.25 0 1 0 2.5 0a1.25 1.25 0 1 0 -2.5 0M647.2 313.42m-1.25 0a1.25 1.25 0 1 0 2.5 0a1.25 1.25 0 1 0 -2.5 0M647.42 313.45m-1.25 0a1.25 1.25 0 1 0 2.5 0a1.25 1.25 0 1 0 -2.5 0M647.64 313.47m-1.25 0a1.25 1.25 0 1 0 2.5 0a1.25 1.25 0 1 0 -2.5 0M647.86 313.5m-1.25 0a1.25 1.25 0 1 0 2.5 0a1.25 1.25 0 1 0 -2.5 0M648.08 313.52m-1.25 0a1.25 1.25 0 1 0 2.5 0a1.25 1.25 0 1 0 -2.5 0M648.3 313.55m-1.25 0a1.25 1.25 0 1 0 2.5 0a1.25 1.25 0 1 0 -2.5 0M648.52 313.57m-1.25 0a1.25 1.25 0 1 0 2.5 0a1.25 1.25 0 1 0 -2.5 0M648.74 313.6m-1.25 0a1.25 1.25 0 1 0 2.5 0a1.25 1.25 0 1 0 -2.5 0M648.96 313.62m-1.25 0a1.25 1.25 0 1 0 2.5 0a1.25 1.25 0 1 0 -2.5 0M649.18 313.65m-1.25 0a1.25 1.25 0 1 0 2.5 0a1.25 1.25 0 1 0 -2.5 0M649.4 313.67m-1.25 0a1.25 1.25 0 1 0 2.5 0a1.25 1.25 0 1 0 -2.5 0M649.62 313.7m-1.25 0a1.25 1.25 0 1 0 2.5 0a1.25 1.25 0 1 0 -2.5 0M649.84 313.72m-1.25 0a1.25 1.25 0 1 0 2.5 0a1.25 1.25 0 1 0 -2.5 0M650.06 313.75m-1.25 0a1.25 1.25 0 1 0 2.5 0a1.25 1.25 0 1 0 -2.5 0M650.28 313.77m-1.25 0a1.25 1.25 0 1 0 2.5 0a1.25 1.25 0 1 0 -2.5 0M650.5 313.79m-1.25 0a1.25 1.25 0 1 0 2.5 0a1.25 1.25 0 1 0 -2.5 0M650.72 313.82m-1.25 0a1.25 1.25 0 1 0 2.5 0a1.25 1.25 0 1 0 -2.5 0M650.94 313.84m-1.25 0a1.25 1.25 0 1 0 2.5 0a1.25 1.25 0 1 0 -2.5 0M651.16 313.87m-1.25 0a1.25 1.25 0 1 0 2.5 0a1.25 1.25 0 1 0 -2.5 0M651.38 313.89m-1.25 0a1.25 1.25 0 1 0 2.5 0a1.25 1.25 0 1 0 -2.5 0M651.6 313.92m-1.25 0a1.25 1.25 0 1 0 2.5 0a1.25 1.25 0 1 0 -2.5 0M651.82 313.94m-1.25 0a1.25 1.25 0 1 0 2.5 0a1.25 1.25 0 1 0 -2.5 0M652.04 313.96m-1.25 0a1.25 1.25 0 1 0 2.5 0a1.25 1.25 0 1 0 -2.5 0M652.26 313.99m-1.25 0a1.25 1.25 0 1 0 2.5 0a1.25 1.25 0 1 0 -2.5 0M652.48 314.01m-1.25 0a1.25 1.25 0 1 0 2.5 0a1.25 1.25 0 1 0 -2.5 0M652.7 314.04m-1.25 0a1.25 1.25 0 1 0 2.5 0a1.25 1.25 0 1 0 -2.5 0M652.92 314.06m-1.25 0a1.25 1.25 0 1 0 2.5 0a1.25 1.25 0 1 0 -2.5 0M653.14 314.08m-1.25 0a1.25 1.25 0 1 0 2.5 0a1.25 1.25 0 1 0 -2.5 0M653.36 314.11m-1.25 0a1.25 1.25 0 1 0 2.5 0a1.25 1.25 0 1 0 -2.5 0M653.58 314.13m-1.25 0a1.25 1.25 0 1 0 2.5 0a1.25 1.25 0 1 0 -2.5 0M653.8 314.16m-1.25 0a1.25 1.25 0 1 0 2.5 0a1.25 1.25 0 1 0 -2.5 0M654.02 314.18m-1.25 0a1.25 1.25 0 1 0 2.5 0a1.25 1.25 0 1 0 -2.5 0M654.24 314.2m-1.25 0a1.25 1.25 0 1 0 2.5 0a1.25 1.25 0 1 0 -2.5 0M654.46 314.23m-1.25 0a1.25 1.25 0 1 0 2.5 0a1.25 1.25 0 1 0 -2.5 0M654.68 314.25m-1.25 0a1.25 1.25 0 1 0 2.5 0a1.25 1.25 0 1 0 -2.5 0M654.9 314.27m-1.25 0a1.25 1.25 0 1 0 2.5 0a1.25 1.25 0 1 0 -2.5 0M655.12 314.3m-1.25 0a1.25 1.25 0 1 0 2.5 0a1.25 1.25 0 1 0 -2.5 0M655.34 314.32m-1.25 0a1.25 1.25 0 1 0 2.5 0a1.25 1.25 0 1 0 -2.5 0M655.56 314.34m-1.25 0a1.25 1.25 0 1 0 2.5 0a1.25 1.25 0 1 0 -2.5 0M655.78 314.37m-1.25 0a1.25 1.25 0 1 0 2.5 0a1.25 1.25 0 1 0 -2.5 0M656 314.39m-1.25 0a1.25 1.25 0 1 0 2.5 0a1.25 1.25 0 1 0 -2.5 0M656.22 314.41m-1.25 0a1.25 1.25 0 1 0 2.5 0a1.25 1.25 0 1 0 -2.5 0M656.44 314.44m-1.25 0a1.25 1.25 0 1 0 2.5 0a1.25 1.25 0 1 0 -2.5 0M656.66 314.46m-1.25 0a1.25 1.25 0 1 0 2.5 0a1.25 1.25 0 1 0 -2.5 0M656.88 314.48m-1.25 0a1.25 1.25 0 1 0 2.5 0a1.25 1.25 0 1 0 -2.5 0M657.1 314.5m-1.25 0a1.25 1.25 0 1 0 2.5 0a1.25 1.25 0 1 0 -2.5 0M657.32 314.53m-1.25 0a1.25 1.25 0 1 0 2.5 0a1.25 1.25 0 1 0 -2.5 0M657.54 314.55m-1.25 0a1.25 1.25 0 1 0 2.5 0a1.25 1.25 0 1 0 -2.5 0M657.76 314.57m-1.25 0a1.25 1.25 0 1 0 2.5 0a1.25 1.25 0 1 0 -2.5 0M657.98 314.6m-1.25 0a1.25 1.25 0 1 0 2.5 0a1.25 1.25 0 1 0 -2.5 0M658.2 314.62m-1.25 0a1.25 1.25 0 1 0 2.5 0a1.25 1.25 0 1 0 -2.5 0M658.42 314.64m-1.25 0a1.25 1.25 0 1 0 2.5 0a1.25 1.25 0 1 0 -2.5 0M658.64 314.66m-1.25 0a1.25 1.25 0 1 0 2.5 0a1.25 1.25 0 1 0 -2.5 0M658.86 314.69m-1.25 0a1.25 1.25 0 1 0 2.5 0a1.25 1.25 0 1 0 -2.5 0M659.08 314.71m-1.25 0a1.25 1.25 0 1 0 2.5 0a1.25 1.25 0 1 0 -2.5 0M659.3 314.73m-1.25 0a1.25 1.25 0 1 0 2.5 0a1.25 1.25 0 1 0 -2.5 0M659.52 314.75m-1.25 0a1.25 1.25 0 1 0 2.5 0a1.25 1.25 0 1 0 -2.5 0M659.74 314.78m-1.25 0a1.25 1.25 0 1 0 2.5 0a1.25 1.25 0 1 0 -2.5 0M659.96 314.8m-1.25 0a1.25 1.25 0 1 0 2.5 0a1.25 1.25 0 1 0 -2.5 0M660.18 314.82m-1.25 0a1.25 1.25 0 1 0 2.5 0a1.25 1.25 0 1 0 -2.5 0M660.4 314.84m-1.25 0a1.25 1.25 0 1 0 2.5 0a1.25 1.25 0 1 0 -2.5 0M660.62 314.86m-1.25 0a1.25 1.25 0 1 0 2.5 0a1.25 1.25 0 1 0 -2.5 0M660.84 314.89m-1.25 0a1.25 1.25 0 1 0 2.5 0a1.25 1.25 0 1 0 -2.5 0M661.06 314.91m-1.25 0a1.25 1.25 0 1 0 2.5 0a1.25 1.25 0 1 0 -2.5 0M661.28 314.93m-1.25 0a1.25 1.25 0 1 0 2.5 0a1.25 1.25 0 1 0 -2.5 0M661.5 314.95m-1.25 0a1.25 1.25 0 1 0 2.5 0a1.25 1.25 0 1 0 -2.5 0M661.72 314.97m-1.25 0a1.25 1.25 0 1 0 2.5 0a1.25 1.25 0 1 0 -2.5 0M661.94 315m-1.25 0a1.25 1.25 0 1 0 2.5 0a1.25 1.25 0 1 0 -2.5 0M662.16 315.02m-1.25 0a1.25 1.25 0 1 0 2.5 0a1.25 1.25 0 1 0 -2.5 0M662.38 315.04m-1.25 0a1.25 1.25 0 1 0 2.5 0a1.25 1.25 0 1 0 -2.5 0M662.6 315.06m-1.25 0a1.25 1.25 0 1 0 2.5 0a1.25 1.25 0 1 0 -2.5 0M662.82 315.08m-1.25 0a1.25 1.25 0 1 0 2.5 0a1.25 1.25 0 1 0 -2.5 0M663.04 315.11m-1.25 0a1.25 1.25 0 1 0 2.5 0a1.25 1.25 0 1 0 -2.5 0M663.26 315.13m-1.25 0a1.25 1.25 0 1 0 2.5 0a1.25 1.25 0 1 0 -2.5 0M663.48 315.15m-1.25 0a1.25 1.25 0 1 0 2.5 0a1.25 1.25 0 1 0 -2.5 0M663.7 315.17m-1.25 0a1.25 1.25 0 1 0 2.5 0a1.25 1.25 0 1 0 -2.5 0M663.92 315.19m-1.25 0a1.25 1.25 0 1 0 2.5 0a1.25 1.25 0 1 0 -2.5 0M664.14 315.21m-1.25 0a1.25 1.25 0 1 0 2.5 0a1.25 1.25 0 1 0 -2.5 0M664.36 315.23m-1.25 0a1.25 1.25 0 1 0 2.5 0a1.25 1.25 0 1 0 -2.5 0M664.58 315.26m-1.25 0a1.25 1.25 0 1 0 2.5 0a1.25 1.25 0 1 0 -2.5 0M664.8 315.28m-1.25 0a1.25 1.25 0 1 0 2.5 0a1.25 1.25 0 1 0 -2.5 0M665.02 315.3m-1.25 0a1.25 1.25 0 1 0 2.5 0a1.25 1.25 0 1 0 -2.5 0M665.24 315.32m-1.25 0a1.25 1.25 0 1 0 2.5 0a1.25 1.25 0 1 0 -2.5 0M665.46 315.34m-1.25 0a1.25 1.25 0 1 0 2.5 0a1.25 1.25 0 1 0 -2.5 0M665.68 315.36m-1.25 0a1.25 1.25 0 1 0 2.5 0a1.25 1.25 0 1 0 -2.5 0M665.9 315.38m-1.25 0a1.25 1.25 0 1 0 2.5 0a1.25 1.25 0 1 0 -2.5 0M666.12 315.4m-1.25 0a1.25 1.25 0 1 0 2.5 0a1.25 1.25 0 1 0 -2.5 0M666.34 315.42m-1.25 0a1.25 1.25 0 1 0 2.5 0a1.25 1.25 0 1 0 -2.5 0M666.56 315.44m-1.25 0a1.25 1.25 0 1 0 2.5 0a1.25 1.25 0 1 0 -2.5 0M666.78 315.47m-1.25 0a1.25 1.25 0 1 0 2.5 0a1.25 1.25 0 1 0 -2.5 0M667 315.49m-1.25 0a1.25 1.25 0 1 0 2.5 0a1.25 1.25 0 1 0 -2.5 0M667.22 315.51m-1.25 0a1.25 1.25 0 1 0 2.5 0a1.25 1.25 0 1 0 -2.5 0M667.44 315.53m-1.25 0a1.25 1.25 0 1 0 2.5 0a1.25 1.25 0 1 0 -2.5 0M667.66 315.55m-1.25 0a1.25 1.25 0 1 0 2.5 0a1.25 1.25 0 1 0 -2.5 0M667.88 315.57m-1.25 0a1.25 1.25 0 1 0 2.5 0a1.25 1.25 0 1 0 -2.5 0M668.1 315.59m-1.25 0a1.25 1.25 0 1 0 2.5 0a1.25 1.25 0 1 0 -2.5 0M668.32 315.61m-1.25 0a1.25 1.25 0 1 0 2.5 0a1.25 1.25 0 1 0 -2.5 0M668.54 315.63m-1.25 0a1.25 1.25 0 1 0 2.5 0a1.25 1.25 0 1 0 -2.5 0M668.76 315.65m-1.25 0a1.25 1.25 0 1 0 2.5 0a1.25 1.25 0 1 0 -2.5 0M668.98 315.67m-1.25 0a1.25 1.25 0 1 0 2.5 0a1.25 1.25 0 1 0 -2.5 0M669.2 315.69m-1.25 0a1.25 1.25 0 1 0 2.5 0a1.25 1.25 0 1 0 -2.5 0M669.42 315.71m-1.25 0a1.25 1.25 0 1 0 2.5 0a1.25 1.25 0 1 0 -2.5 0M669.64 315.73m-1.25 0a1.25 1.25 0 1 0 2.5 0a1.25 1.25 0 1 0 -2.5 0M669.86 315.75m-1.25 0a1.25 1.25 0 1 0 2.5 0a1.25 1.25 0 1 0 -2.5 0M670.08 315.77m-1.25 0a1.25 1.25 0 1 0 2.5 0a1.25 1.25 0 1 0 -2.5 0M670.3 315.79m-1.25 0a1.25 1.25 0 1 0 2.5 0a1.25 1.25 0 1 0 -2.5 0" fill="none" stroke="#fa8c8e" stroke-width="0.45"/>
<path d="M575.7 288.12m-1.25 0a1.25 1.25 0 1 0 2.5 0a1.25 1.25 0 1 0 -2.5 0M575.92 288m-1.25 0a1.25 1.25 0 1 0 2.5 0a1.25 1.25 0 1 0 -2.5 0M576.14 287.87m-1.25 0a1.25 1.25 0 1 0 2.5 0a1.25 1.25 0 1 0 -2.5 0M576.36 287.65m-1.25 0a1.25 1.25 0 1 0 2.5 0a1.25 1.25 0 1 0 -2.5 0M576.58 287m-1.25 0a1.25 1.25 0 1 0 2.5 0a1.25 1.25 0 1 0 -2.5 0M576.8 285.57m-1.25 0a1.25 1.25 0 1 0 2.5 0a1.25 1.25 0 1 0 -2.5 0M577.02 283.83m-1.25 0a1.25 1.25 0 1 0 2.5 0a1.25 1.25 0 1 0 -2.5 0M577.24 282.24m-1.25 0a1.25 1.25 0 1 0 2.5 0a1.25 1.25 0 1 0 -2.5 0M577.46 280.89m-1.25 0a1.25 1.25 0 1 0 2.5 0a1.25 1.25 0 1 0 -2.5 0M577.68 279.56m-1.25 0a1.25 1.25 0 1 0 2.5 0a1.25 1.25 0 1 0 -2.5 0M577.9 278.1m-1.25 0a1.25 1.25 0 1 0 2.5 0a1.25 1.25 0 1 0 -2.5 0M578.12 276.35m-1.25 0a1.25 1.25 0 1 0 2.5 0a1.25 1.25 0 1 0 -2.5 0M578.34 274m-1.25 0a1.25 1.25 0 1 0 2.5 0a1.25 1.25 0 1 0 -2.5 0M578.56 270.73m-1.25 0a1.25 1.25 0 1 0 2.5 0a1.25 1.25 0 1 0 -2.5 0M578.78 266.92m-1.25 0a1.25 1.25 0 1 0 2.5 0a1.25 1.25 0 1 0 -2.5 0M579 263m-1.25 0a1.25 1.25 0 1 0 2.5 0a1.25 1.25 0 1 0 -2.5 0M579.22 258.56m-1.25 0a1.25 1.25 0 1 0 2.5 0a1.25 1.25 0 1 0 -2.5 0M579.44 253.98m-1.25 0a1.25 1.25 0 1 0 2.5 0a1.25 1.25 0 1 0 -2.5 0M579.66 250.81m-1.25 0a1.25 1.25 0 1 0 2.5 0a1.25 1.25 0 1 0 -2.5 0M579.88 248.49m-1.25 0a1.25 1.25 0 1 0 2.5 0a1.25 1.25 0 1 0 -2.5 0M580.1 246.55m-1.25 0a1.25 1.25 0 1 0 2.5 0a1.25 1.25 0 1 0 -2.5 0M580.32 245.05m-1.25 0a1.25 1.25 0 1 0 2.5 0a1.25 1.25 0 1 0 -2.5 0M580.54 244.06m-1.25 0a1.25 1.25 0 1 0 2.5 0a1.25 1.25 0 1 0 -2.5 0M580.76 243.43m-1.25 0a1.25 1.25 0 1 0 2.5 0a1.25 1.25 0 1 0 -2.5 0M580.98 242.99m-1.25 0a1.25 1.25 0 1 0 2.5 0a1.25 1.25 0 1 0 -2.5 0M581.2 242.6m-1.25 0a1.25 1.25 0 1 0 2.5 0a1.25 1.25 0 1 0 -2.5 0M581.42 242.13m-1.25 0a1.25 1.25 0 1 0 2.5 0a1.25 1.25 0 1 0 -2.5 0M581.64 241.45m-1.25 0a1.25 1.25 0 1 0 2.5 0a1.25 1.25 0 1 0 -2.5 0M581.86 240.32m-1.25 0a1.25 1.25 0 1 0 2.5 0a1.25 1.25 0 1 0 -2.5 0M582.08 238.85m-1.25 0a1.25 1.25 0 1 0 2.5 0a1.25 1.25 0 1 0 -2.5 0M582.3 237.29m-1.25 0a1.25 1.25 0 1 0 2.5 0a1.25 1.25 0 1 0 -2.5 0M582.52 235.88m-1.25 0a1.25 1.25 0 1 0 2.5 0a1.25 1.25 0 1 0 -2.5 0M582.74 234.49m-1.25 0a1.25 1.25 0 1 0 2.5 0a1.25 1.25 0 1 0 -2.5 0M582.96 233.11m-1.25 0a1.25 1.25 0 1 0 2.5 0a1.25 1.25 0 1 0 -2.5 0M583.18 232m-1.25 0a1.25 1.25 0 1 0 2.5 0a1.25 1.25 0 1 0 -2.5 0M583.4 231.34m-1.25 0a1.25 1.25 0 1 0 2.5 0a1.25 1.25 0 1 0 -2.5 0M583.62 230.82m-1.25 0a1.25 1.25 0 1 0 2.5 0a1.25 1.25 0 1 0 -2.5 0M583.84 230.4m-1.25 0a1.25 1.25 0 1 0 2.5 0a1.25 1.25 0 1 0 -2.5 0M584.06 230.15m-1.25 0a1.25 1.25 0 1 0 2.5 0a1.25 1.25 0 1 0 -2.5 0M584.28 230.11m-1.25 0a1.25 1.25 0 1 0 2.5 0a1.25 1.25 0 1 0 -2.5 0M584.5 230.27m-1.25 0a1.25 1.25 0 1 0 2.5 0a1.25 1.25 0 1 0 -2.5 0M584.72 230.61m-1.25 0a1.25 1.25 0 1 0 2.5 0a1.25 1.25 0 1 0 -2.5 0M584.94 231.16m-1.25 0a1.25 1.25 0 1 0 2.5 0a1.25 1.25 0 1 0 -2.5 0M585.16 233.58m-1.25 0a1.25 1.25 0 1 0 2.5 0a1.25 1.25 0 1 0 -2.5 0M585.38 237.18m-1.25 0a1.25 1.25 0 1 0 2.5 0a1.25 1.25 0 1 0 -2.5 0M585.6 241.33m-1.25 0a1.25 1.25 0 1 0 2.5 0a1.25 1.25 0 1 0 -2.5 0M585.82 245.87m-1.25 0a1.25 1.25 0 1 0 2.5 0a1.25 1.25 0 1 0 -2.5 0M586.04 249.2m-1.25 0a1.25 1.25 0 1 0 2.5 0a1.25 1.25 0 1 0 -2.5 0M586.26 252.09m-1.25 0a1.25 1.25 0 1 0 2.5 0a1.25 1.25 0 1 0 -2.5 0M586.48 254.69m-1.25 0a1.25 1.25 0 1 0 2.5 0a1.25 1.25 0 1 0 -2.5 0M586.7 257.06m-1.25 0a1.25 1.25 0 1 0 2.5 0a1.25 1.25 0 1 0 -2.5 0M586.92 259.21m-1.25 0a1.25 1.25 0 1 0 2.5 0a1.25 1.25 0 1 0 -2.5 0M587.14 261.19m-1.25 0a1.25 1.25 0 1 0 2.5 0a1.25 1.25 0 1 0 -2.5 0M587.36 263.04m-1.25 0a1.25 1.25 0 1 0 2.5 0a1.25 1.25 0 1 0 -2.5 0" fill="none" stroke="#f47c80" stroke-width="0.55"/>
<rect x="496.75" y="202.75" width="178.75" height="143.4" fill="none" stroke="#000" stroke-width="1.4"/>
<text transform="translate(468.24 274.2) rotate(-90) scale(1.17 1)" font-size="7.6" text-anchor="middle" font-weight="bold">ΔR/R(%)</text>
<text x="589.1" y="371.3" font-size="8.6" text-anchor="middle" font-weight="bold" fill="#000">Time(s)</text>
<text x="460.8" y="204" font-size="14.6" text-anchor="start" font-weight="bold" fill="#000">f</text>
<line x1="44.3" y1="524.85" x2="44.3" y2="522.65" stroke="#000" stroke-width="1.4"/>
<text x="44.3" y="536.75" font-size="8.3" text-anchor="middle" font-weight="bold" fill="#000">0</text>
<line x1="72.5" y1="524.85" x2="72.5" y2="522.65" stroke="#000" stroke-width="1.4"/>
<text x="72.5" y="536.75" font-size="8.3" text-anchor="middle" font-weight="bold" fill="#000">1</text>
<line x1="100.7" y1="524.85" x2="100.7" y2="522.65" stroke="#000" stroke-width="1.4"/>
<text x="100.7" y="536.75" font-size="8.3" text-anchor="middle" font-weight="bold" fill="#000">2</text>
<line x1="128.9" y1="524.85" x2="128.9" y2="522.65" stroke="#000" stroke-width="1.4"/>
<text x="128.9" y="536.75" font-size="8.3" text-anchor="middle" font-weight="bold" fill="#000">3</text>
<line x1="157.1" y1="524.85" x2="157.1" y2="522.65" stroke="#000" stroke-width="1.4"/>
<text x="157.1" y="536.75" font-size="8.3" text-anchor="middle" font-weight="bold" fill="#000">4</text>
<line x1="185.3" y1="524.85" x2="185.3" y2="522.65" stroke="#000" stroke-width="1.4"/>
<text x="185.3" y="536.75" font-size="8.3" text-anchor="middle" font-weight="bold" fill="#000">5</text>
<line x1="213.5" y1="524.85" x2="213.5" y2="522.65" stroke="#000" stroke-width="1.4"/>
<text x="213.5" y="536.75" font-size="8.3" text-anchor="middle" font-weight="bold" fill="#000">6</text>
<line x1="35.6" y1="514.7" x2="37.8" y2="514.7" stroke="#000" stroke-width="1.4"/>
<text x="30.6" y="517.69" font-size="8.3" text-anchor="end" font-weight="bold" fill="#000">0</text>
<line x1="35.6" y1="495.05" x2="37.8" y2="495.05" stroke="#000" stroke-width="1.4"/>
<text x="30.6" y="498.04" font-size="8.3" text-anchor="end" font-weight="bold" fill="#000">10</text>
<line x1="35.6" y1="475.4" x2="37.8" y2="475.4" stroke="#000" stroke-width="1.4"/>
<text x="30.6" y="478.39" font-size="8.3" text-anchor="end" font-weight="bold" fill="#000">20</text>
<line x1="35.6" y1="455.75" x2="37.8" y2="455.75" stroke="#000" stroke-width="1.4"/>
<text x="30.6" y="458.74" font-size="8.3" text-anchor="end" font-weight="bold" fill="#000">30</text>
<line x1="35.6" y1="436.1" x2="37.8" y2="436.1" stroke="#000" stroke-width="1.4"/>
<text x="30.6" y="439.09" font-size="8.3" text-anchor="end" font-weight="bold" fill="#000">40</text>
<line x1="35.6" y1="416.45" x2="37.8" y2="416.45" stroke="#000" stroke-width="1.4"/>
<text x="30.6" y="419.44" font-size="8.3" text-anchor="end" font-weight="bold" fill="#000">50</text>
<line x1="35.6" y1="396.8" x2="37.8" y2="396.8" stroke="#000" stroke-width="1.4"/>
<text x="30.6" y="399.79" font-size="8.3" text-anchor="end" font-weight="bold" fill="#000">60</text>
<path d="M43.45 514.7 L43.64 514.66 L43.82 514.55 L44 514.36 L44.18 514.11 L44.36 513.79 L44.54 513.42 L44.72 513.01 L44.9 512.56 L45.09 512.09 L45.27 511.61 L45.45 511.13 L45.63 510.67 L45.81 510.23 L45.99 509.82 L46.17 509.46 L46.35 509.15 L46.54 508.91 L46.72 508.74 L46.9 508.63 L47.08 508.61 L47.26 508.66 L47.44 508.79 L47.62 508.98 L47.8 509.25 L47.99 509.57 L48.17 509.95 L48.35 510.37 L48.53 510.82 L48.71 511.29 L48.89 511.77 L49.07 512.25 L49.26 512.72 L49.44 513.15 L49.62 513.55 L49.8 513.91 L49.98 514.2 L50.16 514.43 L50.34 514.59 L50.52 514.68 L50.71 514.7 L50.89 514.63 L51.07 514.49 L51.25 514.29 L51.43 514.01 L51.61 513.68 L51.79 513.29 L51.97 512.87 L52.16 512.41 L52.34 511.94 L52.52 511.45 L52.7 510.98 L52.88 510.52 L53.06 510.09 L53.24 509.69 L53.42 509.35 L53.61 509.06 L53.79 508.84 L53.97 508.69 L54.15 508.62 L54.33 508.62 L54.51 508.69 L54.69 508.84 L54.88 509.06 L55.06 509.35 L55.24 509.69 L55.42 510.09 L55.6 510.52 L55.78 510.98 L55.96 511.45 L56.14 511.94 L56.33 512.41 L56.51 512.87 L56.69 513.29 L56.87 513.68 L57.05 514.01 L57.23 514.29 L57.41 514.49 L57.59 514.63 L57.78 514.7 L57.96 514.68 L58.14 514.59 L58.32 514.43 L58.5 514.2 L58.68 513.91 L58.86 513.55 L59.04 513.15 L59.23 512.72 L59.41 512.25 L59.59 511.77 L59.77 511.29 L59.95 510.82 L60.13 510.37 L60.31 509.95 L60.49 509.57 L60.68 509.25 L60.86 508.98 L61.04 508.79 L61.22 508.66 L61.4 508.61 L61.58 508.63 L61.76 508.74 L61.95 508.91 L62.13 509.15 L62.31 509.46 L62.49 509.82 L62.67 510.23 L62.85 510.67 L63.03 511.13 L63.21 511.61 L63.4 512.09 L63.58 512.56 L63.76 513.01 L63.94 513.42 L64.12 513.79 L64.3 514.11 L64.48 514.36 L64.66 514.55 L64.85 514.66 L65.03 514.7" fill="none" stroke="#f9a6d6" stroke-width="1.3" stroke-linejoin="round" stroke-linecap="round"/>
<path d="M71.37 514.7 L71.55 514.57 L71.73 514.17 L71.92 513.51 L72.1 512.62 L72.28 511.51 L72.46 510.22 L72.64 508.76 L72.82 507.19 L73 505.54 L73.18 503.85 L73.37 502.16 L73.55 500.52 L73.73 498.97 L73.91 497.54 L74.09 496.27 L74.27 495.2 L74.45 494.34 L74.64 493.73 L74.82 493.37 L75 493.29 L75.18 493.46 L75.36 493.91 L75.54 494.6 L75.72 495.53 L75.9 496.67 L76.09 498 L76.27 499.47 L76.45 501.06 L76.63 502.72 L76.81 504.41 L76.99 506.1 L77.17 507.73 L77.35 509.26 L77.54 510.67 L77.72 511.9 L77.9 512.94 L78.08 513.76 L78.26 514.33 L78.44 514.64 L78.62 514.69 L78.8 514.46 L78.99 513.98 L79.17 513.24 L79.35 512.27 L79.53 511.1 L79.71 509.75 L79.89 508.25 L80.07 506.65 L80.25 504.98 L80.44 503.28 L80.62 501.61 L80.8 499.99 L80.98 498.47 L81.16 497.09 L81.34 495.89 L81.52 494.89 L81.71 494.11 L81.89 493.58 L82.07 493.32 L82.25 493.32 L82.43 493.58 L82.61 494.11 L82.79 494.89 L82.97 495.89 L83.16 497.09 L83.34 498.47 L83.52 499.99 L83.7 501.61 L83.88 503.28 L84.06 504.98 L84.24 506.65 L84.42 508.25 L84.61 509.75 L84.79 511.1 L84.97 512.27 L85.15 513.24 L85.33 513.98 L85.51 514.46 L85.69 514.69 L85.87 514.64 L86.06 514.33 L86.24 513.76 L86.42 512.94 L86.6 511.9 L86.78 510.67 L86.96 509.26 L87.14 507.73 L87.33 506.1 L87.51 504.41 L87.69 502.72 L87.87 501.06 L88.05 499.47 L88.23 498 L88.41 496.67 L88.59 495.53 L88.78 494.6 L88.96 493.91 L89.14 493.46 L89.32 493.29 L89.5 493.37 L89.68 493.73 L89.86 494.34 L90.04 495.2 L90.23 496.27 L90.41 497.54 L90.59 498.97 L90.77 500.52 L90.95 502.16 L91.13 503.85 L91.31 505.54 L91.49 507.19 L91.68 508.76 L91.86 510.22 L92.04 511.51 L92.22 512.62 L92.4 513.51 L92.58 514.17 L92.76 514.57 L92.94 514.7" fill="none" stroke="#f07d2e" stroke-width="1.3" stroke-linejoin="round" stroke-linecap="round"/>
<path d="M100.42 514.7 L100.6 514.62 L100.78 514.19 L100.96 513.27 L101.14 511.73 L101.32 509.52 L101.51 506.62 L101.69 503.06 L101.87 498.91 L102.05 494.25 L102.23 489.21 L102.41 483.94 L102.59 478.61 L102.77 473.38 L102.96 468.44 L103.14 463.95 L103.32 460.07 L103.5 456.94 L103.68 454.67 L103.86 453.35 L104.04 453.01 L104.22 453.68 L104.41 455.33 L104.59 457.89 L104.77 461.29 L104.95 465.38 L105.13 470.04 L105.31 475.1 L105.49 480.38 L105.68 485.71 L105.86 490.92 L106.04 495.85 L106.22 500.36 L106.4 504.32 L106.58 507.66 L106.76 510.33 L106.94 512.31 L107.13 513.64 L107.31 514.38 L107.49 514.67 L107.67 514.7 L107.85 514.52 L108.03 513.95 L108.21 512.82 L108.39 511.07 L108.58 508.63 L108.76 505.51 L108.94 501.74 L109.12 497.41 L109.3 492.6 L109.48 487.47 L109.66 482.16 L109.84 476.84 L110.03 471.69 L110.21 466.88 L110.39 462.58 L110.57 458.94 L110.75 456.08 L110.93 454.12 L111.11 453.12 L111.3 453.12 L111.48 454.12 L111.66 456.08 L111.84 458.94 L112.02 462.58 L112.2 466.88 L112.38 471.69 L112.56 476.84 L112.75 482.16 L112.93 487.47 L113.11 492.6 L113.29 497.41 L113.47 501.74 L113.65 505.51 L113.83 508.63 L114.01 511.07 L114.2 512.82 L114.38 513.95 L114.56 514.52 L114.74 514.7 L114.92 514.67 L115.1 514.38 L115.28 513.64 L115.46 512.31 L115.65 510.33 L115.83 507.66 L116.01 504.32 L116.19 500.36 L116.37 495.85 L116.55 490.92 L116.73 485.71 L116.92 480.38 L117.1 475.1 L117.28 470.04 L117.46 465.38 L117.64 461.29 L117.82 457.89 L118 455.33 L118.18 453.68 L118.37 453.01 L118.55 453.35 L118.73 454.67 L118.91 456.94 L119.09 460.07 L119.27 463.95 L119.45 468.44 L119.63 473.38 L119.82 478.61 L120 483.94 L120.18 489.21 L120.36 494.25 L120.54 498.91 L120.72 503.06 L120.9 506.62 L121.08 509.52 L121.27 511.73 L121.45 513.27 L121.63 514.19 L121.81 514.62 L121.99 514.7" fill="none" stroke="#ecd81c" stroke-width="1.3" stroke-linejoin="round" stroke-linecap="round"/>
<path d="M128.62 512.74 L128.8 512.61 L128.98 512 L129.16 510.65 L129.34 508.42 L129.52 505.21 L129.71 501 L129.89 495.84 L130.07 489.8 L130.25 483.04 L130.43 475.72 L130.61 468.07 L130.79 460.32 L130.97 452.73 L131.16 445.55 L131.34 439.03 L131.52 433.4 L131.7 428.86 L131.88 425.56 L132.06 423.64 L132.24 423.15 L132.43 424.12 L132.61 426.51 L132.79 430.24 L132.97 435.16 L133.15 441.12 L133.33 447.88 L133.51 455.23 L133.69 462.9 L133.88 470.64 L134.06 478.21 L134.24 485.36 L134.42 491.9 L134.6 497.66 L134.78 502.51 L134.96 506.39 L135.14 509.27 L135.33 511.19 L135.51 512.28 L135.69 512.69 L135.87 512.73 L136.05 512.48 L136.23 511.64 L136.41 510.01 L136.59 507.46 L136.78 503.92 L136.96 499.38 L137.14 493.92 L137.32 487.62 L137.5 480.65 L137.68 473.19 L137.86 465.48 L138.04 457.76 L138.23 450.28 L138.41 443.29 L138.59 437.04 L138.77 431.75 L138.95 427.61 L139.13 424.76 L139.31 423.31 L139.5 423.31 L139.68 424.76 L139.86 427.61 L140.04 431.75 L140.22 437.04 L140.4 443.29 L140.58 450.28 L140.76 457.76 L140.95 465.48 L141.13 473.19 L141.31 480.65 L141.49 487.62 L141.67 493.92 L141.85 499.38 L142.03 503.92 L142.21 507.46 L142.4 510.01 L142.58 511.64 L142.76 512.48 L142.94 512.73 L143.12 512.69 L143.3 512.28 L143.48 511.19 L143.66 509.27 L143.85 506.39 L144.03 502.51 L144.21 497.66 L144.39 491.9 L144.57 485.36 L144.75 478.21 L144.93 470.64 L145.12 462.9 L145.3 455.23 L145.48 447.88 L145.66 441.12 L145.84 435.16 L146.02 430.24 L146.2 426.51 L146.38 424.12 L146.57 423.15 L146.75 423.64 L146.93 425.56 L147.11 428.86 L147.29 433.4 L147.47 439.03 L147.65 445.55 L147.83 452.73 L148.02 460.32 L148.2 468.07 L148.38 475.72 L148.56 483.04 L148.74 489.8 L148.92 495.84 L149.1 501 L149.28 505.21 L149.47 508.42 L149.65 510.65 L149.83 512 L150.01 512.61 L150.19 512.74" fill="none" stroke="#66ad32" stroke-width="1.3" stroke-linejoin="round" stroke-linecap="round"/>
<path d="M156.82 512.74 L157 512.59 L157.18 511.88 L157.36 510.31 L157.54 507.71 L157.72 503.99 L157.91 499.1 L158.09 493.1 L158.27 486.08 L158.45 478.22 L158.63 469.71 L158.81 460.82 L158.99 451.81 L159.17 442.99 L159.36 434.65 L159.54 427.07 L159.72 420.52 L159.9 415.24 L160.08 411.42 L160.26 409.18 L160.44 408.61 L160.62 409.74 L160.81 412.52 L160.99 416.85 L161.17 422.58 L161.35 429.49 L161.53 437.36 L161.71 445.89 L161.89 454.81 L162.08 463.81 L162.26 472.6 L162.44 480.92 L162.62 488.52 L162.8 495.22 L162.98 500.86 L163.16 505.36 L163.34 508.7 L163.53 510.94 L163.71 512.2 L163.89 512.69 L164.07 512.73 L164.25 512.44 L164.43 511.46 L164.61 509.57 L164.79 506.6 L164.98 502.48 L165.16 497.22 L165.34 490.86 L165.52 483.54 L165.7 475.44 L165.88 466.78 L166.06 457.81 L166.24 448.84 L166.43 440.14 L166.61 432.02 L166.79 424.76 L166.97 418.61 L167.15 413.8 L167.33 410.49 L167.51 408.8 L167.7 408.8 L167.88 410.49 L168.06 413.8 L168.24 418.61 L168.42 424.76 L168.6 432.02 L168.78 440.14 L168.96 448.84 L169.15 457.81 L169.33 466.78 L169.51 475.44 L169.69 483.54 L169.87 490.86 L170.05 497.22 L170.23 502.48 L170.41 506.6 L170.6 509.57 L170.78 511.46 L170.96 512.44 L171.14 512.73 L171.32 512.69 L171.5 512.2 L171.68 510.94 L171.86 508.7 L172.05 505.36 L172.23 500.86 L172.41 495.22 L172.59 488.52 L172.77 480.92 L172.95 472.6 L173.13 463.81 L173.31 454.81 L173.5 445.89 L173.68 437.36 L173.86 429.49 L174.04 422.58 L174.22 416.85 L174.4 412.52 L174.58 409.74 L174.77 408.61 L174.95 409.18 L175.13 411.42 L175.31 415.24 L175.49 420.52 L175.67 427.07 L175.85 434.65 L176.03 442.99 L176.22 451.81 L176.4 460.82 L176.58 469.71 L176.76 478.22 L176.94 486.08 L177.12 493.1 L177.3 499.1 L177.48 503.99 L177.67 507.71 L177.85 510.31 L178.03 511.88 L178.21 512.59 L178.39 512.74" fill="none" stroke="#52a9c5" stroke-width="1.3" stroke-linejoin="round" stroke-linecap="round"/>
<path d="M184.74 513.72 L184.92 513.6 L185.1 513.25 L185.28 512.68 L185.46 511.91 L185.64 510.94 L185.82 509.81 L186 508.54 L186.19 507.17 L186.37 505.73 L186.55 504.26 L186.73 502.79 L186.91 501.36 L187.09 500 L187.27 498.76 L187.46 497.65 L187.64 496.72 L187.82 495.97 L188 495.44 L188.18 495.13 L188.36 495.05 L188.54 495.21 L188.72 495.59 L188.91 496.2 L189.09 497.01 L189.27 498.01 L189.45 499.16 L189.63 500.45 L189.81 501.83 L189.99 503.28 L190.17 504.75 L190.36 506.22 L190.54 507.64 L190.72 508.98 L190.9 510.2 L191.08 511.28 L191.26 512.19 L191.44 512.9 L191.62 513.39 L191.81 513.67 L191.99 513.7 L192.17 513.51 L192.35 513.09 L192.53 512.45 L192.71 511.6 L192.89 510.58 L193.08 509.4 L193.26 508.1 L193.44 506.7 L193.62 505.24 L193.8 503.77 L193.98 502.31 L194.16 500.9 L194.34 499.58 L194.53 498.37 L194.71 497.32 L194.89 496.45 L195.07 495.77 L195.25 495.31 L195.43 495.08 L195.61 495.08 L195.79 495.31 L195.98 495.77 L196.16 496.45 L196.34 497.32 L196.52 498.37 L196.7 499.58 L196.88 500.9 L197.06 502.31 L197.24 503.77 L197.43 505.24 L197.61 506.7 L197.79 508.1 L197.97 509.4 L198.15 510.58 L198.33 511.6 L198.51 512.45 L198.69 513.09 L198.88 513.51 L199.06 513.7 L199.24 513.67 L199.42 513.39 L199.6 512.9 L199.78 512.19 L199.96 511.28 L200.15 510.2 L200.33 508.98 L200.51 507.64 L200.69 506.22 L200.87 504.75 L201.05 503.28 L201.23 501.83 L201.41 500.45 L201.6 499.16 L201.78 498.01 L201.96 497.01 L202.14 496.2 L202.32 495.59 L202.5 495.21 L202.68 495.05 L202.86 495.13 L203.05 495.44 L203.23 495.97 L203.41 496.72 L203.59 497.65 L203.77 498.76 L203.95 500 L204.13 501.36 L204.31 502.79 L204.5 504.26 L204.68 505.73 L204.86 507.17 L205.04 508.54 L205.22 509.81 L205.4 510.94 L205.58 511.91 L205.77 512.68 L205.95 513.25 L206.13 513.6 L206.31 513.72" fill="none" stroke="#9448f2" stroke-width="1.3" stroke-linejoin="round" stroke-linecap="round"/>
<path d="M39.7 393.4 L54.7 393.4" fill="none" stroke="#f9a6d6" stroke-width="1.2" stroke-linejoin="round" stroke-linecap="round"/>
<text x="57.7" y="395.4" font-size="5.6" text-anchor="start" font-weight="bold" fill="#000">0.5 mm</text>
<path d="M80 393.4 L95 393.4" fill="none" stroke="#f07d2e" stroke-width="1.2" stroke-linejoin="round" stroke-linecap="round"/>
<text x="98" y="395.4" font-size="5.6" text-anchor="start" font-weight="bold" fill="#000">1 mm</text>
<path d="M119.8 393.4 L134.8 393.4" fill="none" stroke="#ecd81c" stroke-width="1.2" stroke-linejoin="round" stroke-linecap="round"/>
<text x="137.8" y="395.4" font-size="5.6" text-anchor="start" font-weight="bold" fill="#000">1.5 mm</text>
<path d="M39.7 400.6 L54.7 400.6" fill="none" stroke="#66ad32" stroke-width="1.2" stroke-linejoin="round" stroke-linecap="round"/>
<text x="57.7" y="402.6" font-size="5.6" text-anchor="start" font-weight="bold" fill="#000">2 mm</text>
<path d="M80 400.6 L95 400.6" fill="none" stroke="#52a9c5" stroke-width="1.2" stroke-linejoin="round" stroke-linecap="round"/>
<text x="98" y="402.6" font-size="5.6" text-anchor="start" font-weight="bold" fill="#000">2.5 mm</text>
<path d="M119.8 400.6 L134.8 400.6" fill="none" stroke="#9448f2" stroke-width="1.2" stroke-linejoin="round" stroke-linecap="round"/>
<text x="137.8" y="402.6" font-size="5.6" text-anchor="start" font-weight="bold" fill="#000">3 mm</text>
<rect x="35.6" y="387.05" width="178.05" height="137.8" fill="none" stroke="#000" stroke-width="1.4"/>
<text transform="translate(11.94 456) rotate(-90) scale(1.17 1)" font-size="7.6" text-anchor="middle" font-weight="bold">ΔR/R(%)</text>
<text x="124.62" y="550.1" font-size="8.6" text-anchor="middle" font-weight="bold" fill="#000">Time(s)</text>
<text x="4.5" y="396" font-size="14.6" text-anchor="start" font-weight="bold" fill="#000">g</text>
<line x1="279" y1="524.95" x2="279" y2="522.75" stroke="#000" stroke-width="1.4"/>
<text x="279" y="536.85" font-size="8.3" text-anchor="middle" font-weight="bold" fill="#000">0</text>
<line x1="306.3" y1="524.95" x2="306.3" y2="522.75" stroke="#000" stroke-width="1.4"/>
<text x="306.3" y="536.85" font-size="8.3" text-anchor="middle" font-weight="bold" fill="#000">1</text>
<line x1="333.6" y1="524.95" x2="333.6" y2="522.75" stroke="#000" stroke-width="1.4"/>
<text x="333.6" y="536.85" font-size="8.3" text-anchor="middle" font-weight="bold" fill="#000">2</text>
<line x1="360.9" y1="524.95" x2="360.9" y2="522.75" stroke="#000" stroke-width="1.4"/>
<text x="360.9" y="536.85" font-size="8.3" text-anchor="middle" font-weight="bold" fill="#000">3</text>
<line x1="388.2" y1="524.95" x2="388.2" y2="522.75" stroke="#000" stroke-width="1.4"/>
<text x="388.2" y="536.85" font-size="8.3" text-anchor="middle" font-weight="bold" fill="#000">4</text>
<line x1="415.5" y1="524.95" x2="415.5" y2="522.75" stroke="#000" stroke-width="1.4"/>
<text x="415.5" y="536.85" font-size="8.3" text-anchor="middle" font-weight="bold" fill="#000">5</text>
<line x1="442.8" y1="524.95" x2="442.8" y2="522.75" stroke="#000" stroke-width="1.4"/>
<text x="442.8" y="536.85" font-size="8.3" text-anchor="middle" font-weight="bold" fill="#000">6</text>
<line x1="265.65" y1="516.6" x2="267.85" y2="516.6" stroke="#000" stroke-width="1.4"/>
<text x="260.65" y="519.59" font-size="8.3" text-anchor="end" font-weight="bold" fill="#000">0</text>
<line x1="265.65" y1="500.29" x2="267.85" y2="500.29" stroke="#000" stroke-width="1.4"/>
<text x="260.65" y="503.28" font-size="8.3" text-anchor="end" font-weight="bold" fill="#000">10</text>
<line x1="265.65" y1="483.98" x2="267.85" y2="483.98" stroke="#000" stroke-width="1.4"/>
<text x="260.65" y="486.97" font-size="8.3" text-anchor="end" font-weight="bold" fill="#000">20</text>
<line x1="265.65" y1="467.67" x2="267.85" y2="467.67" stroke="#000" stroke-width="1.4"/>
<text x="260.65" y="470.66" font-size="8.3" text-anchor="end" font-weight="bold" fill="#000">30</text>
<line x1="265.65" y1="451.36" x2="267.85" y2="451.36" stroke="#000" stroke-width="1.4"/>
<text x="260.65" y="454.35" font-size="8.3" text-anchor="end" font-weight="bold" fill="#000">40</text>
<line x1="265.65" y1="435.05" x2="267.85" y2="435.05" stroke="#000" stroke-width="1.4"/>
<text x="260.65" y="438.04" font-size="8.3" text-anchor="end" font-weight="bold" fill="#000">50</text>
<line x1="265.65" y1="418.74" x2="267.85" y2="418.74" stroke="#000" stroke-width="1.4"/>
<text x="260.65" y="421.73" font-size="8.3" text-anchor="end" font-weight="bold" fill="#000">60</text>
<line x1="265.65" y1="402.43" x2="267.85" y2="402.43" stroke="#000" stroke-width="1.4"/>
<text x="260.65" y="405.42" font-size="8.3" text-anchor="end" font-weight="bold" fill="#000">70</text>
<line x1="265.65" y1="386.12" x2="267.85" y2="386.12" stroke="#000" stroke-width="1.4"/>
<text x="260.65" y="389.11" font-size="8.3" text-anchor="end" font-weight="bold" fill="#000">80</text>
<path d="M278.45 514.64 L278.62 514.05 L278.79 512.3 L278.95 509.44 L279.12 505.52 L279.28 500.66 L279.45 494.96 L279.62 488.58 L279.78 481.68 L279.95 474.41 L280.11 466.97 L280.28 459.54 L280.45 452.3 L280.61 445.44 L280.78 439.12 L280.94 433.5 L281.11 428.73 L281.28 424.92 L281.44 422.16 L281.61 420.52 L281.77 420.05 L281.94 420.76 L282.11 422.62 L282.27 425.6 L282.44 429.61 L282.6 434.56 L282.77 440.33 L282.94 446.77 L283.1 453.73 L283.27 461.02 L283.43 468.46 L283.6 475.88 L283.77 483.09 L283.93 489.91 L284.1 496.16 L284.26 501.7 L284.43 506.38 L284.6 510.1 L284.76 512.75 L284.93 514.27 L285.09 514.62 L285.26 513.8 L285.43 511.82 L285.59 508.73 L285.76 504.62 L285.92 499.58 L286.09 493.74 L286.26 487.24 L286.42 480.25 L286.59 472.93 L286.75 465.48 L286.92 458.07 L287.09 450.89 L287.25 444.13 L287.42 437.94 L287.58 432.48 L287.75 427.89 L287.92 424.28 L288.08 421.74 L288.25 420.33 L288.41 420.1 L288.58 421.04 L288.75 423.13 L288.91 426.32 L289.08 430.53 L289.24 435.66 L289.41 441.57 L289.58 448.13 L289.74 455.16 L289.91 462.5 L290.07 469.96 L290.24 477.35 L290.41 484.49 L290.57 491.21 L290.74 497.33 L290.9 502.71 L291.07 507.21 L291.24 510.71 L291.4 513.14 L291.57 514.43 L291.73 514.55 L291.9 513.49 L292.07 511.29 L292.23 507.99 L292.4 503.68 L292.56 498.47 L292.73 492.49 L292.9 485.87 L293.06 478.8 L293.23 471.45 L293.39 463.99 L293.56 456.61 L293.73 449.5 L293.89 442.84 L294.06 436.78 L294.22 431.49 L294.39 427.08 L294.56 423.68 L294.72 421.36 L294.89 420.19 L295.05 420.19 L295.22 421.36 L295.39 423.68 L295.55 427.08 L295.72 431.49 L295.88 436.78 L296.05 442.84 L296.22 449.5 L296.38 456.61 L296.55 463.99 L296.71 471.45 L296.88 478.8 L297.05 485.87 L297.21 492.49 L297.38 498.47 L297.54 503.68 L297.71 507.99 L297.88 511.29 L298.04 513.49 L298.21 514.55 L298.37 514.43 L298.54 513.14 L298.71 510.71 L298.87 507.21 L299.04 502.71 L299.2 497.33 L299.37 491.21 L299.54 484.49 L299.7 477.35 L299.87 469.96 L300.03 462.5 L300.2 455.16 L300.37 448.13 L300.53 441.57 L300.7 435.66 L300.86 430.53 L301.03 426.32 L301.2 423.13 L301.36 421.04 L301.53 420.1 L301.69 420.33 L301.86 421.74 L302.03 424.28 L302.19 427.89 L302.36 432.48 L302.52 437.94 L302.69 444.13 L302.86 450.89 L303.02 458.07 L303.19 465.48 L303.35 472.93 L303.52 480.25 L303.69 487.24 L303.85 493.74 L304.02 499.58 L304.18 504.62 L304.35 508.73 L304.52 511.82 L304.68 513.8 L304.85 514.62 L305.01 514.27 L305.18 512.75 L305.35 510.1 L305.51 506.38 L305.68 501.7 L305.84 496.16 L306.01 489.91 L306.18 483.09 L306.34 475.88 L306.51 468.46 L306.67 461.02 L306.84 453.73 L307.01 446.77 L307.17 440.33 L307.34 434.56 L307.5 429.61 L307.67 425.6 L307.84 422.62 L308 420.76 L308.17 420.05 L308.33 420.52 L308.5 422.16 L308.67 424.92 L308.83 428.73 L309 433.5 L309.16 439.12 L309.33 445.44 L309.5 452.3 L309.66 459.54 L309.83 466.97 L309.99 474.41 L310.16 481.68 L310.33 488.58 L310.49 494.96 L310.66 500.66 L310.82 505.52 L310.99 509.44 L311.16 512.3 L311.32 514.05 L311.49 514.64" fill="none" stroke="#8154b2" stroke-width="1.3" stroke-linejoin="round" stroke-linecap="round"/>
<path d="M319.68 514.15 L319.84 512.37 L320.01 509.12 L320.17 504.98 L320.34 500.18 L320.51 494.9 L320.67 489.29 L320.84 483.46 L321 477.53 L321.17 471.64 L321.34 465.86 L321.5 460.32 L321.67 455.1 L321.83 450.29 L322 445.97 L322.17 442.2 L322.33 439.04 L322.5 436.56 L322.66 434.77 L322.83 433.72 L323 433.42 L323.16 433.87 L323.33 435.07 L323.49 437 L323.66 439.62 L323.83 442.9 L323.99 446.79 L324.16 451.22 L324.32 456.12 L324.49 461.41 L324.66 467 L324.82 472.81 L324.99 478.72 L325.15 484.63 L325.32 490.43 L325.49 495.99 L325.65 501.19 L325.82 505.87 L325.98 509.85 L326.15 512.87 L326.32 513.99 L326.48 511.81 L326.65 508.35 L326.81 504.07 L326.98 499.16 L327.15 493.8 L327.31 488.13 L327.48 482.27 L327.64 476.35 L327.81 470.47 L327.98 464.73 L328.14 459.25 L328.31 454.11 L328.47 449.38 L328.64 445.17 L328.81 441.52 L328.97 438.49 L329.14 436.14 L329.3 434.51 L329.47 433.6 L329.64 433.45 L329.8 434.06 L329.97 435.4 L330.13 437.47 L330.3 440.23 L330.47 443.63 L330.63 447.63 L330.8 452.16 L330.96 457.15 L331.13 462.51 L331.3 468.15 L331.46 473.99 L331.63 479.91 L331.79 485.8 L331.96 491.57 L332.13 497.06 L332.29 502.17 L332.46 506.73 L332.62 510.54 L332.79 513.32 L332.96 513.7 L333.12 511.2 L333.29 507.56 L333.45 503.13 L333.62 498.12 L333.79 492.69 L333.95 486.97 L334.12 481.09 L334.28 475.17 L334.45 469.31 L334.62 463.61 L334.78 458.19 L334.95 453.12 L335.11 448.5 L335.28 444.39 L335.45 440.86 L335.61 437.97 L335.78 435.76 L335.94 434.27 L336.11 433.51 L336.28 433.51 L336.44 434.27 L336.61 435.76 L336.77 437.97 L336.94 440.86 L337.11 444.39 L337.27 448.5 L337.44 453.12 L337.6 458.19 L337.77 463.61 L337.94 469.31 L338.1 475.17 L338.27 481.09 L338.43 486.97 L338.6 492.69 L338.77 498.12 L338.93 503.13 L339.1 507.56 L339.26 511.2 L339.43 513.7 L339.6 513.32 L339.76 510.54 L339.93 506.73 L340.09 502.17 L340.26 497.06 L340.43 491.57 L340.59 485.8 L340.76 479.91 L340.92 473.99 L341.09 468.15 L341.26 462.51 L341.42 457.15 L341.59 452.16 L341.75 447.63 L341.92 443.63 L342.09 440.23 L342.25 437.47 L342.42 435.4 L342.58 434.06 L342.75 433.45 L342.92 433.6 L343.08 434.51 L343.25 436.14 L343.41 438.49 L343.58 441.52 L343.75 445.17 L343.91 449.38 L344.08 454.11 L344.24 459.25 L344.41 464.73 L344.58 470.47 L344.74 476.35 L344.91 482.27 L345.07 488.13 L345.24 493.8 L345.41 499.16 L345.57 504.07 L345.74 508.35 L345.9 511.81 L346.07 513.99 L346.24 512.87 L346.4 509.85 L346.57 505.87 L346.73 501.19 L346.9 495.99 L347.07 490.43 L347.23 484.63 L347.4 478.72 L347.56 472.81 L347.73 467 L347.9 461.41 L348.06 456.12 L348.23 451.22 L348.39 446.79 L348.56 442.9 L348.73 439.62 L348.89 437 L349.06 435.07 L349.22 433.87 L349.39 433.42 L349.56 433.72 L349.72 434.77 L349.89 436.56 L350.05 439.04 L350.22 442.2 L350.39 445.97 L350.55 450.29 L350.72 455.1 L350.88 460.32 L351.05 465.86 L351.22 471.64 L351.38 477.53 L351.55 483.46 L351.71 489.29 L351.88 494.9 L352.05 500.18 L352.21 504.98 L352.38 509.12 L352.54 512.37 L352.71 514.15" fill="none" stroke="#f9a3d3" stroke-width="1.3" stroke-linejoin="round" stroke-linecap="round"/>
<path d="M360.9 514.97 L361.07 514.11 L361.23 512.19 L361.4 509.48 L361.56 506.12 L361.73 502.25 L361.9 497.97 L362.06 493.38 L362.23 488.6 L362.39 483.74 L362.56 478.9 L362.73 474.17 L362.89 469.66 L363.06 465.45 L363.22 461.63 L363.39 458.28 L363.56 455.46 L363.72 453.22 L363.89 451.61 L364.05 450.66 L364.22 450.38 L364.39 450.79 L364.55 451.88 L364.72 453.62 L364.88 455.98 L365.05 458.91 L365.22 462.36 L365.38 466.26 L365.55 470.54 L365.71 475.1 L365.88 479.86 L366.05 484.72 L366.21 489.57 L366.38 494.32 L366.54 498.85 L366.71 503.06 L366.88 506.84 L367.04 510.08 L367.21 512.64 L367.37 514.38 L367.54 514.91 L367.71 513.8 L367.87 511.7 L368.04 508.85 L368.2 505.39 L368.37 501.42 L368.54 497.07 L368.7 492.44 L368.87 487.64 L369.03 482.77 L369.2 477.94 L369.37 473.25 L369.53 468.79 L369.7 464.65 L369.86 460.92 L370.03 457.67 L370.2 454.96 L370.36 452.85 L370.53 451.37 L370.69 450.55 L370.86 450.41 L371.03 450.96 L371.19 452.18 L371.36 454.04 L371.52 456.52 L371.69 459.56 L371.86 463.11 L372.02 467.09 L372.19 471.43 L372.35 476.04 L372.52 480.83 L372.69 485.69 L372.85 490.53 L373.02 495.24 L373.18 499.72 L373.35 503.85 L373.52 507.53 L373.68 510.65 L373.85 513.06 L374.01 514.61 L374.18 514.79 L374.35 513.45 L374.51 511.19 L374.68 508.21 L374.84 504.63 L375.01 500.58 L375.18 496.16 L375.34 491.49 L375.51 486.66 L375.67 481.8 L375.84 476.99 L376.01 472.33 L376.17 467.93 L376.34 463.87 L376.5 460.23 L376.67 457.08 L376.84 454.49 L377 452.5 L377.17 451.15 L377.33 450.47 L377.5 450.47 L377.67 451.15 L377.83 452.5 L378 454.49 L378.16 457.08 L378.33 460.23 L378.5 463.87 L378.66 467.93 L378.83 472.33 L378.99 476.99 L379.16 481.8 L379.33 486.66 L379.49 491.49 L379.66 496.16 L379.82 500.58 L379.99 504.63 L380.16 508.21 L380.32 511.19 L380.49 513.45 L380.65 514.79 L380.82 514.61 L380.99 513.06 L381.15 510.65 L381.32 507.53 L381.48 503.85 L381.65 499.72 L381.82 495.24 L381.98 490.53 L382.15 485.69 L382.31 480.83 L382.48 476.04 L382.65 471.43 L382.81 467.09 L382.98 463.11 L383.14 459.56 L383.31 456.52 L383.48 454.04 L383.64 452.18 L383.81 450.96 L383.97 450.41 L384.14 450.55 L384.31 451.37 L384.47 452.85 L384.64 454.96 L384.8 457.67 L384.97 460.92 L385.14 464.65 L385.3 468.79 L385.47 473.25 L385.63 477.94 L385.8 482.77 L385.97 487.64 L386.13 492.44 L386.3 497.07 L386.46 501.42 L386.63 505.39 L386.8 508.85 L386.96 511.7 L387.13 513.8 L387.29 514.91 L387.46 514.38 L387.63 512.64 L387.79 510.08 L387.96 506.84 L388.12 503.06 L388.29 498.85 L388.46 494.32 L388.62 489.57 L388.79 484.72 L388.95 479.86 L389.12 475.1 L389.29 470.54 L389.45 466.26 L389.62 462.36 L389.78 458.91 L389.95 455.98 L390.12 453.62 L390.28 451.88 L390.45 450.79 L390.61 450.38 L390.78 450.66 L390.95 451.61 L391.11 453.22 L391.28 455.46 L391.44 458.28 L391.61 461.63 L391.78 465.45 L391.94 469.66 L392.11 474.17 L392.27 478.9 L392.44 483.74 L392.61 488.6 L392.77 493.38 L392.94 497.97 L393.1 502.25 L393.27 506.12 L393.44 509.48 L393.6 512.19 L393.77 514.11 L393.93 514.97" fill="none" stroke="#ecd81c" stroke-width="1.3" stroke-linejoin="round" stroke-linecap="round"/>
<path d="M401.3 515.78 L401.47 515.65 L401.64 515.26 L401.8 514.63 L401.97 513.76 L402.13 512.67 L402.3 511.41 L402.47 509.99 L402.63 508.45 L402.8 506.84 L402.96 505.18 L403.13 503.53 L403.3 501.92 L403.46 500.39 L403.63 498.99 L403.79 497.74 L403.96 496.68 L404.13 495.83 L404.29 495.21 L404.46 494.85 L404.62 494.75 L404.79 494.9 L404.96 495.32 L405.12 495.98 L405.29 496.87 L405.45 497.97 L405.62 499.26 L405.79 500.69 L405.95 502.24 L406.12 503.86 L406.28 505.51 L406.45 507.16 L406.62 508.77 L406.78 510.28 L406.95 511.67 L407.11 512.91 L407.28 513.95 L407.45 514.77 L407.61 515.36 L407.78 515.7 L407.94 515.78 L408.11 515.6 L408.28 515.16 L408.44 514.47 L408.61 513.56 L408.77 512.43 L408.94 511.13 L409.11 509.69 L409.27 508.13 L409.44 506.51 L409.6 504.85 L409.77 503.2 L409.94 501.61 L410.1 500.1 L410.27 498.72 L410.43 497.51 L410.6 496.49 L410.77 495.69 L410.93 495.12 L411.1 494.81 L411.26 494.76 L411.43 494.97 L411.6 495.43 L411.76 496.14 L411.93 497.08 L412.09 498.22 L412.26 499.53 L412.43 500.99 L412.59 502.56 L412.76 504.19 L412.92 505.85 L413.09 507.49 L413.26 509.08 L413.42 510.57 L413.59 511.93 L413.75 513.13 L413.92 514.13 L414.09 514.91 L414.25 515.45 L414.42 515.74 L414.58 515.76 L414.75 515.53 L414.92 515.04 L415.08 514.31 L415.25 513.35 L415.41 512.19 L415.58 510.86 L415.75 509.39 L415.91 507.81 L416.08 506.18 L416.24 504.52 L416.41 502.88 L416.58 501.3 L416.74 499.81 L416.91 498.47 L417.07 497.29 L417.24 496.31 L417.41 495.55 L417.57 495.04 L417.74 494.78 L417.9 494.78 L418.07 495.04 L418.24 495.55 L418.4 496.31 L418.57 497.29 L418.73 498.47 L418.9 499.81 L419.07 501.3 L419.23 502.88 L419.4 504.52 L419.56 506.18 L419.73 507.81 L419.9 509.39 L420.06 510.86 L420.23 512.19 L420.39 513.35 L420.56 514.31 L420.73 515.04 L420.89 515.53 L421.06 515.76 L421.22 515.74 L421.39 515.45 L421.56 514.91 L421.72 514.13 L421.89 513.13 L422.05 511.93 L422.22 510.57 L422.39 509.08 L422.55 507.49 L422.72 505.85 L422.88 504.19 L423.05 502.56 L423.22 500.99 L423.38 499.53 L423.55 498.22 L423.71 497.08 L423.88 496.14 L424.05 495.43 L424.21 494.97 L424.38 494.76 L424.54 494.81 L424.71 495.12 L424.88 495.69 L425.04 496.49 L425.21 497.51 L425.37 498.72 L425.54 500.1 L425.71 501.61 L425.87 503.2 L426.04 504.85 L426.2 506.51 L426.37 508.13 L426.54 509.69 L426.7 511.13 L426.87 512.43 L427.03 513.56 L427.2 514.47 L427.37 515.16 L427.53 515.6 L427.7 515.78 L427.86 515.7 L428.03 515.36 L428.2 514.77 L428.36 513.95 L428.53 512.91 L428.69 511.67 L428.86 510.28 L429.03 508.77 L429.19 507.16 L429.36 505.51 L429.52 503.86 L429.69 502.24 L429.86 500.69 L430.02 499.26 L430.19 497.97 L430.35 496.87 L430.52 495.98 L430.69 495.32 L430.85 494.9 L431.02 494.75 L431.18 494.85 L431.35 495.21 L431.52 495.83 L431.68 496.68 L431.85 497.74 L432.01 498.99 L432.18 500.39 L432.35 501.92 L432.51 503.53 L432.68 505.18 L432.84 506.84 L433.01 508.45 L433.18 509.99 L433.34 511.41 L433.51 512.67 L433.67 513.76 L433.84 514.63 L434.01 515.26 L434.17 515.65 L434.34 515.78" fill="none" stroke="#52bfd2" stroke-width="1.3" stroke-linejoin="round" stroke-linecap="round"/>
<path d="M272.7 394.5 L289.3 394.5" fill="none" stroke="#8154b2" stroke-width="1.2" stroke-linejoin="round" stroke-linecap="butt"/>
<text x="292.3" y="396.4" font-size="5.8" text-anchor="start" font-weight="normal" fill="#111" stroke="#111" stroke-width="0.22">1 mm</text>
<path d="M308.4 394.5 L325 394.5" fill="none" stroke="#f9a3d3" stroke-width="1.2" stroke-linejoin="round" stroke-linecap="butt"/>
<text x="328" y="396.4" font-size="5.8" text-anchor="start" font-weight="normal" fill="#111" stroke="#111" stroke-width="0.22">2 mm</text>
<path d="M344 394.5 L360.6 394.5" fill="none" stroke="#ecd81c" stroke-width="1.2" stroke-linejoin="round" stroke-linecap="butt"/>
<text x="363.6" y="396.4" font-size="5.8" text-anchor="start" font-weight="normal" fill="#111" stroke="#111" stroke-width="0.22">3 mm</text>
<path d="M379.5 394.5 L396.1 394.5" fill="none" stroke="#52bfd2" stroke-width="1.2" stroke-linejoin="round" stroke-linecap="butt"/>
<text x="399.1" y="396.4" font-size="5.8" text-anchor="start" font-weight="normal" fill="#111" stroke="#111" stroke-width="0.22">4 mm</text>
<rect x="265.65" y="386.3" width="177.2" height="138.65" fill="none" stroke="#000" stroke-width="1.4"/>
<text transform="translate(241.34 455.6) rotate(-90) scale(1.17 1)" font-size="7.6" text-anchor="middle" font-weight="bold">ΔR/R(%)</text>
<text x="354.25" y="550.1" font-size="8.6" text-anchor="middle" font-weight="bold" fill="#000">Time(s)</text>
<text x="234.8" y="387.8" font-size="14.6" text-anchor="start" font-weight="bold" fill="#000">h</text>
<line x1="503.4" y1="524.8" x2="503.4" y2="522.6" stroke="#000" stroke-width="1.4"/>
<text x="503.4" y="536.7" font-size="8.3" text-anchor="middle" font-weight="bold" fill="#000">0</text>
<line x1="537.8" y1="524.8" x2="537.8" y2="522.6" stroke="#000" stroke-width="1.4"/>
<text x="537.8" y="536.7" font-size="8.3" text-anchor="middle" font-weight="bold" fill="#000">1000</text>
<line x1="572.2" y1="524.8" x2="572.2" y2="522.6" stroke="#000" stroke-width="1.4"/>
<text x="572.2" y="536.7" font-size="8.3" text-anchor="middle" font-weight="bold" fill="#000">2000</text>
<line x1="606.6" y1="524.8" x2="606.6" y2="522.6" stroke="#000" stroke-width="1.4"/>
<text x="606.6" y="536.7" font-size="8.3" text-anchor="middle" font-weight="bold" fill="#000">3000</text>
<line x1="641" y1="524.8" x2="641" y2="522.6" stroke="#000" stroke-width="1.4"/>
<text x="641" y="536.7" font-size="8.3" text-anchor="middle" font-weight="bold" fill="#000">4000</text>
<line x1="675.4" y1="524.8" x2="675.4" y2="522.6" stroke="#000" stroke-width="1.4"/>
<text x="675.4" y="536.7" font-size="8.3" text-anchor="middle" font-weight="bold" fill="#000">5000</text>
<line x1="497" y1="513.75" x2="499.2" y2="513.75" stroke="#000" stroke-width="1.4"/>
<text x="492" y="516.74" font-size="8.3" text-anchor="end" font-weight="bold" fill="#000">−20</text>
<line x1="497" y1="490.3" x2="499.2" y2="490.3" stroke="#000" stroke-width="1.4"/>
<text x="492" y="493.29" font-size="8.3" text-anchor="end" font-weight="bold" fill="#000">0</text>
<line x1="497" y1="466.85" x2="499.2" y2="466.85" stroke="#000" stroke-width="1.4"/>
<text x="492" y="469.84" font-size="8.3" text-anchor="end" font-weight="bold" fill="#000">20</text>
<line x1="497" y1="443.4" x2="499.2" y2="443.4" stroke="#000" stroke-width="1.4"/>
<text x="492" y="446.39" font-size="8.3" text-anchor="end" font-weight="bold" fill="#000">40</text>
<line x1="497" y1="419.95" x2="499.2" y2="419.95" stroke="#000" stroke-width="1.4"/>
<text x="492" y="422.94" font-size="8.3" text-anchor="end" font-weight="bold" fill="#000">60</text>
<line x1="497" y1="396.5" x2="499.2" y2="396.5" stroke="#000" stroke-width="1.4"/>
<text x="492" y="399.49" font-size="8.3" text-anchor="end" font-weight="bold" fill="#000">80</text>
<rect x="502" y="434.6" width="167.8" height="37.8" fill="#4070b4"/>
<rect x="502" y="434.6" width="167.8" height="6" fill="#8aa8d8" opacity="0.45"/>
<path d="M502.2 434.46V444.16M502.95 434.26V438.34M503.86 434.34V438.23M504.79 435.44V442.7M505.49 435.53V441.27M506.01 435.78V449.2M506.72 435.83V446.56M507.66 434.61V445.44M508.35 434.91V446.55M508.92 435.8V454.15M509.43 435.13V440.91M509.93 435.99V444.35M510.45 435.55V440.27M511.35 434.63V437.75M511.9 434.89V443.99M512.8 435.59V442.35M513.26 434.52V456.42M513.94 435.58V438.82M514.41 435.89V447.46M515.01 434.83V438.34M515.55 434.25V451.85M516.23 434.45V449.53M516.78 434.32V446.12M517.68 434.25V450.98M518.22 434.39V437.43M518.82 435.65V445.23M519.7 434.63V441M520.28 436.16V456.5M520.9 435.07V441.42M521.72 434.28V437.61M522.37 434.69V452.45M523.19 435.29V448.51M523.99 435.76V455.73M524.51 435.45V439.49M525.18 435.77V454.85M526.01 434.27V441.36M526.55 436.2V440.24M527.12 434.91V438.2M528 435.47V439.69M528.7 434.36V446.43M529.27 434.28V438.02M530 435.47V441.99M530.77 434.9V438.8M531.38 434.99V454.56M531.88 434.37V445.37M532.81 436.01V450.15M533.3 435.81V449.55M533.82 435.13V438.34M534.67 435.64V452.35M535.5 434.73V451.07M536.08 434.48V442.11M536.77 434.77V446.73M537.53 434.68V447.01M538.15 435.67V441.64M539 435.03V445.85M539.79 435.24V440.72M540.73 434.39V440.91M541.45 434.26V438.42M542.3 435.77V448.43M543.21 435.71V441.81M543.98 434.88V450.22M544.62 434.51V453.1M545.42 435.69V446.64M546.26 435.1V446.18M546.74 435.31V452.28M547.54 435.81V445.45M548.43 434.42V452.99M549.07 434.38V446.64M549.74 435.06V453M550.26 435.43V443.49M550.98 435.2V439.13M551.68 435.92V440.27M552.14 434.34V443.26M553.08 434.29V456.03M553.79 434.44V442.58M554.35 435.63V446.2M554.94 434.71V453.05M555.78 435.07V442.98M556.59 436.14V439.57M557.12 434.92V444.8M557.61 434.31V439.26M558.25 435.68V447.73M558.72 434.29V443.06M559.6 436.03V443.22M560.5 436.06V443.98M561.32 434.93V439.07M562.06 434.37V447.64M562.91 436.03V444.73M563.42 436V454.43M564.36 435.39V448.89M564.99 434.57V440.56M565.8 434.85V448.78M566.5 435.1V456.18M567.04 435.17V439.39M567.96 435.18V441.81M568.49 435.39V443.18M569 434.26V441.92M569.75 435.24V454.46M570.65 436.07V452.66M571.34 435.25V443.01M571.99 434.28V450.85M572.56 434.26V443.31M573.37 435.07V442.25M574.15 434.53V437.55M574.9 435.26V453.57M575.55 435.77V438.82M576.02 435.4V440.44M576.5 434.46V441.81M577.12 435.33V454.22M577.75 434.57V445.92M578.2 434.97V441.36M578.85 434.3V445.14M579.61 435.7V456.5M580.24 435.51V444.1M580.8 435.98V451.22M581.72 435.84V455.54M582.23 434.23V438.91M582.89 435.58V444.09M583.59 435.72V439.08M584.38 434.3V439.65M585.19 435.57V443.47M585.79 435.86V441.59M586.26 434.69V437.75M587.11 434.44V455.71M587.67 434.81V446.32M588.27 434.96V438.6M588.92 434.25V439.26M589.82 434.76V440.44M590.61 435.97V442.02M591.25 435.63V452.02M592.01 434.56V439.02M592.84 435.61V454.74M593.68 435.04V438.97M594.57 435.59V446.91M595.36 434.97V441.79M596.1 435.17V449.51M597.02 435.89V443.48M597.65 436.05V443.76M598.5 434.39V443.14M599.21 435.82V454.44M599.74 435.43V447.92M600.26 435.87V446.69M601.19 434.57V444.8M601.81 435.48V447.49M602.51 434.85V444.65M603.15 435.98V444.94M603.84 434.72V440.15M604.76 434.83V453.2M605.51 436.16V440.42M606.43 435.74V446.88M607.24 435.64V444.35M608 434.66V437.72M608.79 435.15V454.52M609.37 435.84V457.45M610.27 436.13V440.33M610.81 434.66V441.79M611.31 434.5V437.55M612.23 434.92V447.33M612.91 435.69V452.44M613.55 435.27V438.85M614.14 434.65V440.9M614.75 435.35V442M615.37 435.86V438.89M615.82 434.31V452.61M616.59 435.66V456.46M617.15 436.04V441.31M617.85 435.56V452.09M618.43 435.15V438.34M619.02 436.16V455.52M619.76 435.77V455.06M620.38 436.16V444.87M620.91 435.26V446.95M621.71 435.54V438.7M622.47 436.04V449.47M623.41 435.22V452.08M623.93 435.99V444.47M624.82 434.84V447.21M625.69 435.62V447.9M626.63 434.38V437.99M627.36 436.11V449.92M627.96 434.42V443.12M628.65 435.14V447.4M629.24 435.96V441.9M629.74 434.9V455.1M630.27 434.76V454.7M630.89 435.89V439.07M631.79 434.67V439.13M632.61 436.18V457.03M633.44 436.03V457.66M634.16 434.49V452.36M634.81 434.83V444.56M635.28 434.24V439.82M636.03 435.7V456.49M636.88 436.08V448.73M637.7 435.37V438.82M638.18 435.72V440.45M639.03 435.13V438.14M639.76 435.09V438.47M640.34 434.81V441.67M641.14 434.53V443.14M641.9 436.09V439.83M642.38 434.58V439.55M642.92 434.35V439.17M643.48 435.16V448.06M644.11 434.54V438.09M644.69 434.54V443.88M645.58 435.63V440.37M646.04 434.34V442.8M646.68 435.56V439.03M647.25 435.57V446.71M647.96 436V439.73M648.51 435.33V446.41M649.45 436.15V447.71M650.28 435.59V439.52M651.03 434.81V441.9M651.56 434.22V452.2M652.37 435.7V441.64M653.03 434.55V446.43M653.9 435.76V455.9M654.48 435.6V439.46M655.19 434.42V444.97M655.92 434.89V441.82M656.72 435.16V443.11M657.23 434.76V452.58M658.16 434.95V453.39M659.05 434.64V440.36M659.85 434.81V455.55M660.48 435.66V449.96M661.04 435.93V442.51M661.54 434.3V443.07M662.31 434.74V452.42M662.89 435.89V439.01M663.47 434.52V443.21M664.1 434.99V452.92M664.84 435.41V443.04M665.69 435.2V450.45M666.6 435.42V443.88M667.18 436.02V451.73M668.03 434.64V443.13M668.92 434.69V451.64M669.64 434.64V442.01" stroke="#a8bfe4" stroke-width="0.55" fill="none" opacity="0.72"/>
<path d="M502 435.5V434.01M503.76 435.5V432.85M504.85 435.5V434.18M505.77 435.5V433.77M507.66 435.5V433.83M508.45 435.5V434.44M510.25 435.5V433.82M511.38 435.5V433.85M512.6 435.5V433.01M513.4 435.5V432.88M514.27 435.5V433.24M515.89 435.5V433.84M517.43 435.5V434.28M518.19 435.5V433.5M518.91 435.5V433.55M519.64 435.5V432.92M520.41 435.5V433.5M522.23 435.5V433.31M524.01 435.5V433.22M525.07 435.5V433.65M525.79 435.5V433.61M527.33 435.5V434.28M528.02 435.5V434.24M529.53 435.5V433.84M530.21 435.5V434.38M531.25 435.5V433.78M532.72 435.5V434.44M534.28 435.5V434.58M535.25 435.5V433.99M536.77 435.5V433.72M538.38 435.5V433.79M539.52 435.5V433.95M540.25 435.5V433.66M541.57 435.5V433.18M543.08 435.5V434.01M543.88 435.5V433.33M544.58 435.5V433.87M545.31 435.5V433.21M546.63 435.5V433.61M547.28 435.5V434.51M548.25 435.5V433.9M549.21 435.5V433.87M550.37 435.5V433.37M551.73 435.5V433.86M553.29 435.5V434.04M554.32 435.5V432.96M555.32 435.5V433.39M556.89 435.5V433.55M557.99 435.5V432.98M559.55 435.5V433M560.97 435.5V434.04M562.57 435.5V433.09M563.74 435.5V434.49M564.48 435.5V434.02M565.78 435.5V433.9M567.01 435.5V433.02M568.51 435.5V432.81M570.49 435.5V434.24M571.69 435.5V433.77M573.14 435.5V434.56M573.81 435.5V433.34M575.06 435.5V434.22M576.83 435.5V433.56M577.44 435.5V433.97M578.7 435.5V433.01M580.3 435.5V433.6M581.4 435.5V433.28M582.83 435.5V433.25M584.06 435.5V434.5M585.42 435.5V433.26M586.86 435.5V434.45M588.84 435.5V434.02M590.88 435.5V434.16M592.57 435.5V433.57M593.41 435.5V434.12M595.02 435.5V434.54M596.14 435.5V434.38M597.09 435.5V434.5M599.28 435.5V432.88M600.4 435.5V434.6M602.55 435.5V434.01M603.36 435.5V432.81M604.36 435.5V434.5M606.25 435.5V433.57M608.07 435.5V434.42M609.15 435.5V434.37M610.18 435.5V433.39M610.85 435.5V433.09M612.33 435.5V432.84M613.8 435.5V433.11M615.6 435.5V433.03M616.53 435.5V433.28M618.07 435.5V434.26M619.87 435.5V434.13M621.56 435.5V433.78M622.71 435.5V433.12M624.69 435.5V433.54M626.33 435.5V432.92M627.51 435.5V432.98M628.68 435.5V434.12M629.82 435.5V434.03M630.62 435.5V433.49M631.88 435.5V433.72M632.84 435.5V434.06M634.85 435.5V434.26M635.5 435.5V433.68M636.65 435.5V433.83M637.39 435.5V434.11M638.65 435.5V434.5M639.28 435.5V433.55M640.66 435.5V434.3M642.47 435.5V433.13M643.57 435.5V434.12M644.84 435.5V433.27M646.93 435.5V434.32M648.09 435.5V433.79M650.18 435.5V433.19M652.24 435.5V434.39M654 435.5V434.03M655.69 435.5V433.78M657.23 435.5V433.16M658.73 435.5V434.01M660.1 435.5V434.02M661.44 435.5V434.25M663.19 435.5V432.96M665.02 435.5V433.31M665.75 435.5V433.02M666.87 435.5V433.74M668 435.5V433.17" stroke="#7d9fd3" stroke-width="0.5" fill="none" opacity="0.7"/>
<path d="M502 470.5V471.72M503.37 470.5V471.54M504.56 470.5V471.7M505.91 470.5V472.1M507.09 470.5V471.33M508.34 470.5V471.7M509.58 470.5V472.38M510.21 470.5V471.22M511.46 470.5V472.56M512.86 470.5V471.81M514.2 470.5V471.23M514.76 470.5V472.01M515.78 470.5V472.35M516.52 470.5V471.85M518.01 470.5V471.62M518.91 470.5V472.05M520.41 470.5V471.46M521.6 470.5V471.78M522.5 470.5V471.56M523.46 470.5V472M524.36 470.5V471.91M525.49 470.5V472.39M526.55 470.5V471.74M528.01 470.5V471.44M528.56 470.5V472.47M529.33 470.5V471.41M530.21 470.5V471.68M531.07 470.5V472.39M531.86 470.5V471.39M532.57 470.5V472.53M533.5 470.5V471.71M534.78 470.5V472.51M535.79 470.5V472.34M536.55 470.5V471.69M537.63 470.5V471.53M538.4 470.5V471.46M539.17 470.5V472.38M540.46 470.5V471.36M541.31 470.5V472.21M542.67 470.5V471.98M543.9 470.5V471.53M545.18 470.5V472.35M546.09 470.5V471.53M546.62 470.5V472.08M547.75 470.5V471.2M548.77 470.5V472.51M549.3 470.5V471.39M549.86 470.5V471.81M550.74 470.5V472.42M551.31 470.5V471.48M552.75 470.5V471.23M553.51 470.5V471.75M554.01 470.5V471.6M555.11 470.5V472.06M556.22 470.5V472.11M557.33 470.5V471.25M558.49 470.5V472.02M559.21 470.5V471.79M559.94 470.5V472.42M560.72 470.5V471.43M562.02 470.5V472.27M563.37 470.5V472.15M564.29 470.5V471.87M565.34 470.5V472.03M566.79 470.5V471.57M568.06 470.5V471.22M568.75 470.5V472.52M569.5 470.5V471.92M570.91 470.5V472.12M571.9 470.5V472.18M573.38 470.5V472.52M574.06 470.5V471.4M574.85 470.5V471.4M576.11 470.5V472.37M576.76 470.5V471.3M577.58 470.5V472.16M578.85 470.5V471.84M579.99 470.5V472.48M581.37 470.5V471.36M582.58 470.5V472.29M583.99 470.5V471.79M584.65 470.5V471.86M585.52 470.5V471.75M586.82 470.5V472.11M588 470.5V472.11M588.64 470.5V471.28M589.53 470.5V472.39M590.68 470.5V472.31M591.81 470.5V472.3M593.3 470.5V472.2M594.66 470.5V472.56M595.9 470.5V472.34M596.48 470.5V471.25M597.91 470.5V471.53M598.71 470.5V471.39M599.85 470.5V471.24M601.15 470.5V471.62M602.39 470.5V472.47M603.58 470.5V471.79M604.7 470.5V472.4M605.92 470.5V471.55M606.42 470.5V472.43M607.55 470.5V471.29M608.6 470.5V472.02M609.39 470.5V472.44M610.13 470.5V471.4M610.94 470.5V471.67M612.32 470.5V472.12M612.95 470.5V471.75M613.55 470.5V472.19M614.9 470.5V471.33M615.9 470.5V471.54M616.69 470.5V472.25M618.17 470.5V471.59M619.21 470.5V471.63M619.77 470.5V472.04M620.43 470.5V472.16M621.67 470.5V471.4M622.77 470.5V471.49M624.03 470.5V471.6M625.22 470.5V472.11M626.3 470.5V471.5M627.63 470.5V471.7M628.9 470.5V471.86M629.85 470.5V472.2M630.69 470.5V472.27M631.64 470.5V472.24M632.83 470.5V472.52M633.74 470.5V471.69M635.24 470.5V471.92M636.16 470.5V472.18M636.91 470.5V472.54M638.16 470.5V472.11M638.95 470.5V472.33M640.37 470.5V472.31M641.78 470.5V471.33M643.02 470.5V472.41M644 470.5V471.31M645.04 470.5V471.54M645.58 470.5V472.51M646.91 470.5V472.09M648.16 470.5V472.14M649.12 470.5V471.37M649.91 470.5V471.91M650.99 470.5V471.62M651.62 470.5V471.68M652.3 470.5V472.5M653.02 470.5V471.75M654.07 470.5V471.55M655.06 470.5V471.97M655.61 470.5V472.53M656.65 470.5V471.4M658.13 470.5V471.44M659.36 470.5V471.88M660.11 470.5V471.73M661.1 470.5V471.72M661.84 470.5V471.78M662.78 470.5V472.16M663.48 470.5V471.26M664.81 470.5V471.3M665.94 470.5V471.97M667.42 470.5V471.47M668.8 470.5V471.38M669.48 470.5V472.12" stroke="#6088c6" stroke-width="0.6" fill="none"/>
<rect x="518.6" y="391.6" width="152.1" height="39.5" fill="#fff" stroke="#111" stroke-width="0.95"/>
<path d="M519 406.16 L519.15 406.7 L519.3 407.43 L519.45 408.36 L519.6 409.31 L519.75 410.29 L519.9 411.27 L520.05 412.26 L520.2 413.23 L520.35 414.18 L520.5 415.1 L520.65 415.98 L520.8 416.81 L520.95 417.58 L521.1 418.29 L521.25 418.92 L521.4 419.48 L521.55 419.95 L521.7 420.33 L521.85 420.61 L522 420.8 L522.15 420.92 L522.3 420.98 L522.45 421 L522.6 421 L522.75 421 L522.9 421 L523.05 421 L523.2 421 L523.35 421 L523.5 421 L523.65 421 L523.8 421 L523.95 421 L524.1 421 L524.25 421 L524.4 421 L524.55 421 L524.7 421 L524.85 421 L525 421 L525.15 421 L525.3 421 L525.45 421 L525.6 421 L525.75 420.98 L525.9 420.92 L526.05 420.8 L526.2 420.61 L526.35 420.33 L526.5 419.95 L526.65 419.48 L526.8 418.92 L526.95 418.29 L527.1 417.58 L527.25 416.81 L527.4 415.98 L527.55 415.1 L527.7 414.18 L527.85 413.23 L528 412.26 L528.15 411.27 L528.3 410.29 L528.45 409.31 L528.6 408.36 L528.75 407.43 L528.9 406.54 L529.05 405.7 L529.2 404.91 L529.35 404.18 L529.5 403.53 L529.65 402.96 L529.8 402.47 L529.95 402.06 L530.1 401.75 L530.25 401.54 L530.4 401.42 L530.55 401.41 L530.7 401.49 L530.85 401.67 L531 401.95 L531.15 402.32 L531.3 402.78 L531.45 403.33 L531.6 403.96 L531.75 404.66 L531.9 405.43 L532.05 406.25 L532.2 407.13 L532.35 408.04 L532.5 408.99 L532.65 409.96 L532.8 410.95 L532.95 411.93 L533.1 412.91 L533.25 413.87 L533.4 414.8 L533.55 415.69 L533.7 416.54 L533.85 417.33 L534 418.06 L534.15 418.72 L534.3 419.3 L534.45 419.8 L534.6 420.21 L534.75 420.53 L534.9 420.75 L535.05 420.89 L535.2 420.96 L535.35 420.99 L535.5 421 L535.65 421 L535.8 421 L535.95 421 L536.1 421 L536.25 421 L536.4 421 L536.55 421 L536.7 421 L536.85 421 L537 421 L537.15 421 L537.3 421 L537.45 421 L537.6 421 L537.75 421 L537.9 421 L538.05 421 L538.2 421 L538.35 421 L538.5 421 L538.65 420.99 L538.8 420.94 L538.95 420.85 L539.1 420.68 L539.25 420.43 L539.4 420.08 L539.55 419.64 L539.7 419.12 L539.85 418.51 L540 417.82 L540.15 417.07 L540.3 416.26 L540.45 415.4 L540.6 414.49 L540.75 413.55 L540.9 412.58 L541.05 411.6 L541.2 410.62 L541.35 409.64 L541.5 408.67 L541.65 407.74 L541.8 406.83 L541.95 405.97 L542.1 405.16 L542.25 404.42 L542.4 403.74 L542.55 403.14 L542.7 402.62 L542.85 402.19 L543 401.85 L543.15 401.6 L543.3 401.45 L543.45 401.4 L543.6 401.45 L543.75 401.6 L543.9 401.85 L544.05 402.19 L544.2 402.62 L544.35 403.14 L544.5 403.74 L544.65 404.42 L544.8 405.16 L544.95 405.97 L545.1 406.83 L545.25 407.74 L545.4 408.67 L545.55 409.64 L545.7 410.62 L545.85 411.6 L546 412.58 L546.15 413.55 L546.3 414.49 L546.45 415.4 L546.6 416.26 L546.75 417.07 L546.9 417.82 L547.05 418.51 L547.2 419.12 L547.35 419.64 L547.5 420.08 L547.65 420.43 L547.8 420.68 L547.95 420.85 L548.1 420.94 L548.25 420.99 L548.4 421 L548.55 421 L548.7 421 L548.85 421 L549 421 L549.15 421 L549.3 421 L549.45 421 L549.6 421 L549.75 421 L549.9 421 L550.05 421 L550.2 421 L550.35 421 L550.5 421 L550.65 421 L550.8 421 L550.95 421 L551.1 421 L551.25 421 L551.4 421 L551.55 420.99 L551.7 420.96 L551.85 420.89 L552 420.75 L552.15 420.53 L552.3 420.21 L552.45 419.8 L552.6 419.3 L552.75 418.72 L552.9 418.06 L553.05 417.33 L553.2 416.54 L553.35 415.69 L553.5 414.8 L553.65 413.87 L553.8 412.91 L553.95 411.93 L554.1 410.95 L554.25 409.96 L554.4 408.99 L554.55 408.04 L554.7 407.13 L554.85 406.25 L555 405.43 L555.15 404.66 L555.3 403.96 L555.45 403.33 L555.6 402.78 L555.75 402.32 L555.9 401.95 L556.05 401.67 L556.2 401.49 L556.35 401.41 L556.5 401.42 L556.65 401.54 L556.8 401.75 L556.95 402.06 L557.1 402.47 L557.25 402.96 L557.4 403.53 L557.55 404.18 L557.7 404.91 L557.85 405.7 L558 406.54 L558.15 407.43 L558.3 408.36 L558.45 409.31 L558.6 410.29 L558.75 411.27 L558.9 412.26 L559.05 413.23 L559.2 414.18 L559.35 415.1 L559.5 415.98 L559.65 416.81 L559.8 417.58 L559.95 418.29 L560.1 418.92 L560.25 419.48 L560.4 419.95 L560.55 420.33 L560.7 420.61 L560.85 420.8 L561 420.92 L561.15 420.98 L561.3 421 L561.45 421 L561.6 421 L561.75 421 L561.9 421 L562.05 421 L562.2 421 L562.35 421 L562.5 421 L562.65 421 L562.8 421 L562.95 421 L563.1 421 L563.25 421 L563.4 421 L563.55 421 L563.7 421 L563.85 421 L564 421 L564.15 421 L564.3 421 L564.45 421 L564.6 420.98 L564.75 420.92 L564.9 420.8 L565.05 420.61 L565.2 420.33 L565.35 419.95 L565.5 419.48 L565.65 418.92 L565.8 418.29 L565.95 417.58 L566.1 416.81 L566.25 415.98 L566.4 415.1 L566.55 414.18 L566.7 413.23 L566.85 412.26 L567 411.27 L567.15 410.29 L567.3 409.31 L567.45 408.36 L567.6 407.43 L567.75 406.54 L567.9 405.7 L568.05 404.91 L568.2 404.18 L568.35 403.53 L568.5 402.96 L568.65 402.47 L568.8 402.06 L568.95 401.75 L569.1 401.54 L569.25 401.42 L569.4 401.41 L569.55 401.49 L569.7 401.67 L569.85 401.95 L570 402.32 L570.15 402.78 L570.3 403.33 L570.45 403.96 L570.6 404.66 L570.75 405.43 L570.9 406.25 L571.05 407.13 L571.2 408.04 L571.35 408.99 L571.5 409.96 L571.65 410.95 L571.8 411.93 L571.95 412.91 L572.1 413.87 L572.25 414.8 L572.4 415.69 L572.55 416.54 L572.7 417.33 L572.85 418.06 L573 418.72 L573.15 419.3 L573.3 419.8 L573.45 420.21 L573.6 420.53 L573.75 420.75 L573.9 420.89 L574.05 420.96 L574.2 420.99 L574.35 421 L574.5 421 L574.65 421 L574.8 421 L574.95 421 L575.1 421 L575.25 421 L575.4 421 L575.55 421 L575.7 421 L575.85 421 L576 421 L576.15 421 L576.3 421 L576.45 421 L576.6 421 L576.75 421 L576.9 421 L577.05 421 L577.2 421 L577.35 421 L577.5 420.99 L577.65 420.94 L577.8 420.85 L577.95 420.68 L578.1 420.43 L578.25 420.08 L578.4 419.64 L578.55 419.12 L578.7 418.51 L578.85 417.82 L579 417.07 L579.15 416.26 L579.3 415.4 L579.45 414.49 L579.6 413.55 L579.75 412.58 L579.9 411.6 L580.05 410.62 L580.2 409.64 L580.35 408.67 L580.5 407.74 L580.65 406.83 L580.8 405.97 L580.95 405.16 L581.1 404.42 L581.25 403.74 L581.4 403.14 L581.55 402.62 L581.7 402.19 L581.85 401.85 L582 401.6 L582.15 401.45 L582.3 401.4 L582.45 401.45 L582.6 401.6 L582.75 401.85 L582.9 402.19 L583.05 402.62 L583.2 403.14 L583.35 403.74 L583.5 404.42 L583.65 405.16 L583.8 405.97 L583.95 406.83 L584.1 407.74 L584.25 408.67 L584.4 409.64 L584.55 410.62 L584.7 411.6 L584.85 412.58 L585 413.55 L585.15 414.49 L585.3 415.4 L585.45 416.26 L585.6 417.07 L585.75 417.82 L585.9 418.51 L586.05 419.12 L586.2 419.64 L586.35 420.08 L586.5 420.43 L586.65 420.68 L586.8 420.85 L586.95 420.94 L587.1 420.99 L587.25 421 L587.4 421 L587.55 421 L587.7 421 L587.85 421 L588 421 L588.15 421 L588.3 421 L588.45 421 L588.6 421 L588.75 421 L588.9 421 L589.05 421 L589.2 421 L589.35 421 L589.5 421 L589.65 421 L589.8 421 L589.95 421 L590.1 421 L590.25 421 L590.4 420.99 L590.55 420.96 L590.7 420.89 L590.85 420.75 L591 420.53 L591.15 420.21 L591.3 419.8 L591.45 419.3 L591.6 418.72 L591.75 418.06 L591.9 417.33 L592.05 416.54 L592.2 415.69 L592.35 414.8 L592.5 413.87 L592.65 412.91 L592.8 411.93 L592.95 410.95 L593.1 409.96 L593.25 408.99 L593.4 408.04 L593.55 407.13 L593.7 406.25 L593.85 405.43 L594 404.66 L594.15 403.96 L594.3 403.33 L594.45 402.78 L594.6 402.32 L594.75 401.95 L594.9 401.67 L595.05 401.49 L595.2 401.41 L595.35 401.42 L595.5 401.54 L595.65 401.75 L595.8 402.06 L595.95 402.47 L596.1 402.96 L596.25 403.53 L596.4 404.18 L596.55 404.91 L596.7 405.7 L596.85 406.54 L597 407.43 L597.15 408.36 L597.3 409.31 L597.45 410.29 L597.6 411.27 L597.75 412.26 L597.9 413.23 L598.05 414.18 L598.2 415.1 L598.35 415.98 L598.5 416.81 L598.65 417.58 L598.8 418.29 L598.95 418.92 L599.1 419.48 L599.25 419.95 L599.4 420.33 L599.55 420.61 L599.7 420.8 L599.85 420.92 L600 420.98 L600.15 421 L600.3 421 L600.45 421 L600.6 421 L600.75 421 L600.9 421 L601.05 421 L601.2 421 L601.35 421 L601.5 421 L601.65 421 L601.8 421 L601.95 421 L602.1 421 L602.25 421 L602.4 421 L602.55 421 L602.7 421 L602.85 421 L603 421 L603.15 421 L603.3 421 L603.45 420.98 L603.6 420.92 L603.75 420.8 L603.9 420.61 L604.05 420.33 L604.2 419.95 L604.35 419.48 L604.5 418.92 L604.65 418.29 L604.8 417.58 L604.95 416.81 L605.1 415.98 L605.25 415.1 L605.4 414.18 L605.55 413.23 L605.7 412.26 L605.85 411.27 L606 410.29 L606.15 409.31 L606.3 408.36 L606.45 407.43 L606.6 406.54 L606.75 405.7 L606.9 404.91 L607.05 404.18 L607.2 403.53 L607.35 402.96 L607.5 402.47 L607.65 402.06 L607.8 401.75 L607.95 401.54 L608.1 401.42 L608.25 401.41 L608.4 401.49 L608.55 401.67 L608.7 401.95 L608.85 402.32 L609 402.78 L609.15 403.33 L609.3 403.96 L609.45 404.66 L609.6 405.43 L609.75 406.25 L609.9 407.13 L610.05 408.04 L610.2 408.99 L610.35 409.96 L610.5 410.95 L610.65 411.93 L610.8 412.91 L610.95 413.87 L611.1 414.8 L611.25 415.69 L611.4 416.54 L611.55 417.33 L611.7 418.06 L611.85 418.72 L612 419.3 L612.15 419.8 L612.3 420.21 L612.45 420.53 L612.6 420.75 L612.75 420.89 L612.9 420.96 L613.05 420.99 L613.2 421 L613.35 421 L613.5 421 L613.65 421 L613.8 421 L613.95 421 L614.1 421 L614.25 421 L614.4 421 L614.55 421 L614.7 421 L614.85 421 L615 421 L615.15 421 L615.3 421 L615.45 421 L615.6 421 L615.75 421 L615.9 421 L616.05 421 L616.2 421 L616.35 420.99 L616.5 420.94 L616.65 420.85 L616.8 420.68 L616.95 420.43 L617.1 420.08 L617.25 419.64 L617.4 419.12 L617.55 418.51 L617.7 417.82 L617.85 417.07 L618 416.26 L618.15 415.4 L618.3 414.49 L618.45 413.55 L618.6 412.58 L618.75 411.6 L618.9 410.62 L619.05 409.64 L619.2 408.67 L619.35 407.74 L619.5 406.83 L619.65 405.97 L619.8 405.16 L619.95 404.42 L620.1 403.74 L620.25 403.14 L620.4 402.62 L620.55 402.19 L620.7 401.85 L620.85 401.6 L621 401.45 L621.15 401.4 L621.3 401.45 L621.45 401.6 L621.6 401.85 L621.75 402.19 L621.9 402.62 L622.05 403.14 L622.2 403.74 L622.35 404.42 L622.5 405.16 L622.65 405.97 L622.8 406.83 L622.95 407.74 L623.1 408.67 L623.25 409.64 L623.4 410.62 L623.55 411.6 L623.7 412.58 L623.85 413.55 L624 414.49 L624.15 415.4 L624.3 416.26 L624.45 417.07 L624.6 417.82 L624.75 418.51 L624.9 419.12 L625.05 419.64 L625.2 420.08 L625.35 420.43 L625.5 420.68 L625.65 420.85 L625.8 420.94 L625.95 420.99 L626.1 421 L626.25 421 L626.4 421 L626.55 421 L626.7 421 L626.85 421 L627 421 L627.15 421 L627.3 421 L627.45 421 L627.6 421 L627.75 421 L627.9 421 L628.05 421 L628.2 421 L628.35 421 L628.5 421 L628.65 421 L628.8 421 L628.95 421 L629.1 421 L629.25 420.99 L629.4 420.96 L629.55 420.89 L629.7 420.75 L629.85 420.53 L630 420.21 L630.15 419.8 L630.3 419.3 L630.45 418.72 L630.6 418.06 L630.75 417.33 L630.9 416.54 L631.05 415.69 L631.2 414.8 L631.35 413.87 L631.5 412.91 L631.65 411.93 L631.8 410.95 L631.95 409.96 L632.1 408.99 L632.25 408.04 L632.4 407.13 L632.55 406.25 L632.7 405.43 L632.85 404.66 L633 403.96 L633.15 403.33 L633.3 402.78 L633.45 402.32 L633.6 401.95 L633.75 401.67 L633.9 401.49 L634.05 401.41 L634.2 401.42 L634.35 401.54 L634.5 401.75 L634.65 402.06 L634.8 402.47 L634.95 402.96 L635.1 403.53 L635.25 404.18 L635.4 404.91 L635.55 405.7 L635.7 406.54 L635.85 407.43 L636 408.36 L636.15 409.31 L636.3 410.29 L636.45 411.27 L636.6 412.26 L636.75 413.23 L636.9 414.18 L637.05 415.1 L637.2 415.98 L637.35 416.81 L637.5 417.58 L637.65 418.29 L637.8 418.92 L637.95 419.48 L638.1 419.95 L638.25 420.33 L638.4 420.61 L638.55 420.8 L638.7 420.92 L638.85 420.98 L639 421 L639.15 421 L639.3 421 L639.45 421 L639.6 421 L639.75 421 L639.9 421 L640.05 421 L640.2 421 L640.35 421 L640.5 421 L640.65 421 L640.8 421 L640.95 421 L641.1 421 L641.25 421 L641.4 421 L641.55 421 L641.7 421 L641.85 421 L642 421 L642.15 421 L642.3 420.98 L642.45 420.92 L642.6 420.8 L642.75 420.61 L642.9 420.33 L643.05 419.95 L643.2 419.48 L643.35 418.92 L643.5 418.29 L643.65 417.58 L643.8 416.81 L643.95 415.98 L644.1 415.1 L644.25 414.18 L644.4 413.23 L644.55 412.26 L644.7 411.27 L644.85 410.29 L645 409.31 L645.15 408.36 L645.3 407.43 L645.45 406.54 L645.6 405.7 L645.75 404.91 L645.9 404.18 L646.05 403.53 L646.2 402.96 L646.35 402.47 L646.5 402.06 L646.65 401.75 L646.8 401.54 L646.95 401.42 L647.1 401.41 L647.25 401.49 L647.4 401.67 L647.55 401.95 L647.7 402.32 L647.85 402.78 L648 403.33 L648.15 403.96 L648.3 404.66 L648.45 405.43 L648.6 406.25 L648.75 407.13 L648.9 408.04 L649.05 408.99 L649.2 409.96 L649.35 410.95 L649.5 411.93 L649.65 412.91 L649.8 413.87 L649.95 414.8 L650.1 415.69 L650.25 416.54 L650.4 417.33 L650.55 418.06 L650.7 418.72 L650.85 419.3 L651 419.8 L651.15 420.21 L651.3 420.53 L651.45 420.75 L651.6 420.89 L651.75 420.96 L651.9 420.99 L652.05 421 L652.2 421 L652.35 421 L652.5 421 L652.65 421 L652.8 421 L652.95 421 L653.1 421 L653.25 421 L653.4 421 L653.55 421 L653.7 421 L653.85 421 L654 421 L654.15 421 L654.3 421 L654.45 421 L654.6 421 L654.75 421 L654.9 421 L655.05 421 L655.2 420.99 L655.35 420.94 L655.5 420.85 L655.65 420.68 L655.8 420.43 L655.95 420.08 L656.1 419.64 L656.25 419.12 L656.4 418.51 L656.55 417.82 L656.7 417.07 L656.85 416.26 L657 415.4 L657.15 414.49 L657.3 413.55 L657.45 412.58 L657.6 411.6 L657.75 410.62 L657.9 409.64 L658.05 408.67 L658.2 407.74 L658.35 406.83 L658.5 405.97 L658.65 405.16 L658.8 404.42 L658.95 403.74 L659.1 403.14 L659.25 402.62 L659.4 402.19 L659.55 401.85 L659.7 401.6 L659.85 401.45 L660 401.4 L660.15 401.45 L660.3 401.6 L660.45 401.85 L660.6 402.19 L660.75 402.62 L660.9 403.14 L661.05 403.74 L661.2 404.42 L661.35 405.16 L661.5 405.97 L661.65 406.83 L661.8 407.74 L661.95 408.67 L662.1 409.64 L662.25 410.62 L662.4 411.6 L662.55 412.58 L662.7 413.55 L662.85 414.49 L663 415.4 L663.15 416.26 L663.3 417.07 L663.45 417.82 L663.6 418.51 L663.75 419.12 L663.9 419.64 L664.05 420.08 L664.2 420.43 L664.35 420.68 L664.5 420.85 L664.65 420.94 L664.8 420.99 L664.95 421 L665.1 421 L665.25 421 L665.4 421 L665.55 421 L665.7 421 L665.85 421 L666 421 L666.15 421 L666.3 421 L666.45 421 L666.6 421 L666.75 421 L666.9 421 L667.05 421 L667.2 421 L667.35 421 L667.5 421 L667.65 421 L667.8 421 L667.95 421 L668.1 420.99 L668.25 420.96 L668.4 420.89 L668.55 420.75 L668.7 420.53 L668.85 420.21 L669 419.8 L669.15 419.3 L669.3 418.72 L669.45 418.06 L669.6 417.33 L669.75 416.54 L669.9 415.69 L670.05 414.99 L670.2 414.45" fill="none" stroke="#7a8ef7" stroke-width="1.35" stroke-linejoin="round" stroke-linecap="round"/>
<line x1="518.6" y1="392.3" x2="519.9" y2="392.3" stroke="#000" stroke-width="0.7"/>
<text x="515.4" y="393.9" font-size="4.6" text-anchor="end" font-weight="normal" fill="#000">60</text>
<line x1="518.6" y1="405.3" x2="519.9" y2="405.3" stroke="#000" stroke-width="0.7"/>
<text x="515.4" y="406.9" font-size="4.6" text-anchor="end" font-weight="normal" fill="#000">40</text>
<line x1="518.6" y1="418.3" x2="519.9" y2="418.3" stroke="#000" stroke-width="0.7"/>
<text x="515.4" y="419.9" font-size="4.6" text-anchor="end" font-weight="normal" fill="#000">20</text>
<line x1="518.6" y1="431" x2="519.9" y2="431" stroke="#000" stroke-width="0.7"/>
<text x="515.4" y="432.6" font-size="4.6" text-anchor="end" font-weight="normal" fill="#000">0</text>
<text transform="translate(506.3 411.35) rotate(-90)" font-size="4.6" text-anchor="middle" fill="#111">Current(mA)</text>
<rect x="520.2" y="478.3" width="150.5" height="39.2" fill="#fff" stroke="#111" stroke-width="0.95"/>
<path d="M520.6 507.3 L520.75 507.3 L520.9 507.3 L521.05 507.3 L521.2 507.3 L521.35 507.3 L521.5 507.3 L521.65 507.3 L521.8 507.3 L521.95 507.3 L522.1 507.3 L522.25 507.3 L522.4 507.3 L522.55 507.3 L522.7 507.3 L522.85 507.28 L523 507.21 L523.15 507.08 L523.3 506.87 L523.45 506.55 L523.6 506.12 L523.75 505.6 L523.9 504.98 L524.05 504.27 L524.2 503.48 L524.35 502.62 L524.5 501.7 L524.65 500.73 L524.8 499.71 L524.95 498.67 L525.1 497.61 L525.25 496.54 L525.4 495.48 L525.55 494.44 L525.7 493.43 L525.85 492.46 L526 491.54 L526.15 490.68 L526.3 489.9 L526.45 489.19 L526.6 488.58 L526.75 488.05 L526.9 487.63 L527.05 487.32 L527.2 487.11 L527.35 487.02 L527.5 487.04 L527.65 487.17 L527.8 487.41 L527.95 487.76 L528.1 488.22 L528.25 488.77 L528.4 489.42 L528.55 490.15 L528.7 490.96 L528.85 491.84 L529 492.78 L529.15 493.76 L529.3 494.79 L529.45 495.83 L529.6 496.9 L529.75 497.96 L529.9 499.02 L530.05 500.05 L530.2 501.05 L530.35 502.01 L530.5 502.91 L530.65 503.75 L530.8 504.51 L530.95 505.2 L531.1 505.78 L531.25 506.28 L531.4 506.67 L531.55 506.95 L531.7 507.14 L531.85 507.24 L532 507.29 L532.15 507.3 L532.3 507.3 L532.45 507.3 L532.6 507.3 L532.75 507.3 L532.9 507.3 L533.05 507.3 L533.2 507.3 L533.35 507.3 L533.5 507.3 L533.65 507.3 L533.8 507.3 L533.95 507.3 L534.1 507.3 L534.25 507.3 L534.4 507.3 L534.55 507.3 L534.7 507.3 L534.85 507.3 L535 507.3 L535.15 507.29 L535.3 507.25 L535.45 507.16 L535.6 507 L535.75 506.73 L535.9 506.36 L536.05 505.89 L536.2 505.32 L536.35 504.66 L536.5 503.91 L536.65 503.09 L536.8 502.2 L536.95 501.25 L537.1 500.26 L537.25 499.23 L537.4 498.18 L537.55 497.11 L537.7 496.05 L537.85 494.99 L538 493.96 L538.15 492.97 L538.3 492.02 L538.45 491.13 L538.6 490.31 L538.75 489.56 L538.9 488.89 L539.05 488.32 L539.2 487.84 L539.35 487.47 L539.5 487.21 L539.65 487.06 L539.8 487.01 L539.95 487.09 L540.1 487.27 L540.25 487.56 L540.4 487.96 L540.55 488.46 L540.7 489.06 L540.85 489.75 L541 490.52 L541.15 491.36 L541.3 492.27 L541.45 493.23 L541.6 494.24 L541.75 495.27 L541.9 496.33 L542.05 497.4 L542.2 498.46 L542.35 499.51 L542.5 500.53 L542.65 501.51 L542.8 502.44 L542.95 503.31 L543.1 504.12 L543.25 504.84 L543.4 505.48 L543.55 506.03 L543.7 506.47 L543.85 506.81 L544 507.05 L544.15 507.19 L544.3 507.27 L544.45 507.3 L544.6 507.3 L544.75 507.3 L544.9 507.3 L545.05 507.3 L545.2 507.3 L545.35 507.3 L545.5 507.3 L545.65 507.3 L545.8 507.3 L545.95 507.3 L546.1 507.3 L546.25 507.3 L546.4 507.3 L546.55 507.3 L546.7 507.3 L546.85 507.3 L547 507.3 L547.15 507.3 L547.3 507.3 L547.45 507.3 L547.6 507.28 L547.75 507.22 L547.9 507.09 L548.05 506.89 L548.2 506.57 L548.35 506.16 L548.5 505.64 L548.65 505.02 L548.8 504.32 L548.95 503.54 L549.1 502.68 L549.25 501.76 L549.4 500.79 L549.55 499.78 L549.7 498.74 L549.85 497.68 L550 496.61 L550.15 495.55 L550.3 494.51 L550.45 493.5 L550.6 492.52 L550.75 491.6 L550.9 490.74 L551.05 489.95 L551.2 489.24 L551.35 488.61 L551.5 488.09 L551.65 487.66 L551.8 487.34 L551.95 487.12 L552.1 487.02 L552.25 487.03 L552.4 487.16 L552.55 487.39 L552.7 487.74 L552.85 488.18 L553 488.73 L553.15 489.37 L553.3 490.1 L553.45 490.9 L553.6 491.78 L553.75 492.71 L553.9 493.7 L554.05 494.72 L554.2 495.76 L554.35 496.83 L554.5 497.89 L554.65 498.95 L554.8 499.99 L554.95 500.99 L555.1 501.95 L555.25 502.86 L555.4 503.7 L555.55 504.47 L555.7 505.15 L555.85 505.75 L556 506.25 L556.15 506.65 L556.3 506.94 L556.45 507.13 L556.6 507.24 L556.75 507.29 L556.9 507.3 L557.05 507.3 L557.2 507.3 L557.35 507.3 L557.5 507.3 L557.65 507.3 L557.8 507.3 L557.95 507.3 L558.1 507.3 L558.25 507.3 L558.4 507.3 L558.55 507.3 L558.7 507.3 L558.85 507.3 L559 507.3 L559.15 507.3 L559.3 507.3 L559.45 507.3 L559.6 507.3 L559.75 507.3 L559.9 507.29 L560.05 507.26 L560.2 507.17 L560.35 507.01 L560.5 506.75 L560.65 506.39 L560.8 505.93 L560.95 505.36 L561.1 504.7 L561.25 503.96 L561.4 503.14 L561.55 502.26 L561.7 501.31 L561.85 500.32 L562 499.3 L562.15 498.25 L562.3 497.18 L562.45 496.12 L562.6 495.06 L562.75 494.03 L562.9 493.04 L563.05 492.08 L563.2 491.19 L563.35 490.36 L563.5 489.6 L563.65 488.93 L563.8 488.36 L563.95 487.87 L564.1 487.49 L564.25 487.22 L564.4 487.06 L564.55 487.01 L564.7 487.08 L564.85 487.25 L565 487.54 L565.15 487.93 L565.3 488.43 L565.45 489.02 L565.6 489.7 L565.75 490.47 L565.9 491.3 L566.05 492.21 L566.2 493.17 L566.35 494.17 L566.5 495.2 L566.65 496.26 L566.8 497.32 L566.95 498.39 L567.1 499.44 L567.25 500.46 L567.4 501.44 L567.55 502.38 L567.7 503.26 L567.85 504.07 L568 504.8 L568.15 505.44 L568.3 505.99 L568.45 506.45 L568.6 506.79 L568.75 507.04 L568.9 507.19 L569.05 507.26 L569.2 507.3 L569.35 507.3 L569.5 507.3 L569.65 507.3 L569.8 507.3 L569.95 507.3 L570.1 507.3 L570.25 507.3 L570.4 507.3 L570.55 507.3 L570.7 507.3 L570.85 507.3 L571 507.3 L571.15 507.3 L571.3 507.3 L571.45 507.3 L571.6 507.3 L571.75 507.3 L571.9 507.3 L572.05 507.3 L572.2 507.3 L572.35 507.28 L572.5 507.22 L572.65 507.11 L572.8 506.9 L572.95 506.6 L573.1 506.19 L573.25 505.67 L573.4 505.07 L573.55 504.37 L573.7 503.59 L573.85 502.74 L574 501.82 L574.15 500.86 L574.3 499.85 L574.45 498.81 L574.6 497.75 L574.75 496.68 L574.9 495.62 L575.05 494.58 L575.2 493.56 L575.35 492.59 L575.5 491.66 L575.65 490.79 L575.8 490 L575.95 489.28 L576.1 488.65 L576.25 488.12 L576.4 487.68 L576.55 487.35 L576.7 487.13 L576.85 487.03 L577 487.03 L577.15 487.15 L577.3 487.37 L577.45 487.71 L577.6 488.15 L577.75 488.69 L577.9 489.33 L578.05 490.05 L578.2 490.85 L578.35 491.72 L578.5 492.65 L578.65 493.63 L578.8 494.65 L578.95 495.69 L579.1 496.76 L579.25 497.82 L579.4 498.88 L579.55 499.92 L579.7 500.92 L579.85 501.89 L580 502.8 L580.15 503.64 L580.3 504.42 L580.45 505.11 L580.6 505.71 L580.75 506.22 L580.9 506.62 L581.05 506.92 L581.2 507.12 L581.35 507.23 L581.5 507.28 L581.65 507.3 L581.8 507.3 L581.95 507.3 L582.1 507.3 L582.25 507.3 L582.4 507.3 L582.55 507.3 L582.7 507.3 L582.85 507.3 L583 507.3 L583.15 507.3 L583.3 507.3 L583.45 507.3 L583.6 507.3 L583.75 507.3 L583.9 507.3 L584.05 507.3 L584.2 507.3 L584.35 507.3 L584.5 507.3 L584.65 507.29 L584.8 507.26 L584.95 507.18 L585.1 507.02 L585.25 506.77 L585.4 506.42 L585.55 505.96 L585.7 505.4 L585.85 504.75 L586 504.01 L586.15 503.2 L586.3 502.32 L586.45 501.38 L586.6 500.39 L586.75 499.37 L586.9 498.32 L587.05 497.25 L587.2 496.19 L587.35 495.13 L587.5 494.1 L587.65 493.1 L587.8 492.15 L587.95 491.25 L588.1 490.41 L588.25 489.65 L588.4 488.98 L588.55 488.39 L588.7 487.9 L588.85 487.52 L589 487.24 L589.15 487.07 L589.3 487.01 L589.45 487.07 L589.6 487.24 L589.75 487.52 L589.9 487.9 L590.05 488.39 L590.2 488.98 L590.35 489.65 L590.5 490.41 L590.65 491.25 L590.8 492.15 L590.95 493.1 L591.1 494.1 L591.25 495.13 L591.4 496.19 L591.55 497.25 L591.7 498.32 L591.85 499.37 L592 500.39 L592.15 501.38 L592.3 502.32 L592.45 503.2 L592.6 504.01 L592.75 504.75 L592.9 505.4 L593.05 505.96 L593.2 506.42 L593.35 506.77 L593.5 507.02 L593.65 507.18 L593.8 507.26 L593.95 507.29 L594.1 507.3 L594.25 507.3 L594.4 507.3 L594.55 507.3 L594.7 507.3 L594.85 507.3 L595 507.3 L595.15 507.3 L595.3 507.3 L595.45 507.3 L595.6 507.3 L595.75 507.3 L595.9 507.3 L596.05 507.3 L596.2 507.3 L596.35 507.3 L596.5 507.3 L596.65 507.3 L596.8 507.3 L596.95 507.3 L597.1 507.28 L597.25 507.23 L597.4 507.12 L597.55 506.92 L597.7 506.62 L597.85 506.22 L598 505.71 L598.15 505.11 L598.3 504.42 L598.45 503.64 L598.6 502.8 L598.75 501.89 L598.9 500.92 L599.05 499.92 L599.2 498.88 L599.35 497.82 L599.5 496.76 L599.65 495.69 L599.8 494.65 L599.95 493.63 L600.1 492.65 L600.25 491.72 L600.4 490.85 L600.55 490.05 L600.7 489.33 L600.85 488.69 L601 488.15 L601.15 487.71 L601.3 487.37 L601.45 487.15 L601.6 487.03 L601.75 487.03 L601.9 487.13 L602.05 487.35 L602.2 487.68 L602.35 488.12 L602.5 488.65 L602.65 489.28 L602.8 490 L602.95 490.79 L603.1 491.66 L603.25 492.59 L603.4 493.56 L603.55 494.58 L603.7 495.62 L603.85 496.68 L604 497.75 L604.15 498.81 L604.3 499.85 L604.45 500.86 L604.6 501.82 L604.75 502.74 L604.9 503.59 L605.05 504.37 L605.2 505.07 L605.35 505.67 L605.5 506.19 L605.65 506.6 L605.8 506.9 L605.95 507.11 L606.1 507.22 L606.25 507.28 L606.4 507.3 L606.55 507.3 L606.7 507.3 L606.85 507.3 L607 507.3 L607.15 507.3 L607.3 507.3 L607.45 507.3 L607.6 507.3 L607.75 507.3 L607.9 507.3 L608.05 507.3 L608.2 507.3 L608.35 507.3 L608.5 507.3 L608.65 507.3 L608.8 507.3 L608.95 507.3 L609.1 507.3 L609.25 507.3 L609.4 507.3 L609.55 507.26 L609.7 507.19 L609.85 507.04 L610 506.79 L610.15 506.45 L610.3 505.99 L610.45 505.44 L610.6 504.8 L610.75 504.07 L610.9 503.26 L611.05 502.38 L611.2 501.44 L611.35 500.46 L611.5 499.44 L611.65 498.39 L611.8 497.32 L611.95 496.26 L612.1 495.2 L612.25 494.17 L612.4 493.17 L612.55 492.21 L612.7 491.3 L612.85 490.47 L613 489.7 L613.15 489.02 L613.3 488.43 L613.45 487.93 L613.6 487.54 L613.75 487.25 L613.9 487.08 L614.05 487.01 L614.2 487.06 L614.35 487.22 L614.5 487.49 L614.65 487.87 L614.8 488.36 L614.95 488.93 L615.1 489.6 L615.25 490.36 L615.4 491.19 L615.55 492.08 L615.7 493.04 L615.85 494.03 L616 495.06 L616.15 496.12 L616.3 497.18 L616.45 498.25 L616.6 499.3 L616.75 500.32 L616.9 501.31 L617.05 502.26 L617.2 503.14 L617.35 503.96 L617.5 504.7 L617.65 505.36 L617.8 505.93 L617.95 506.39 L618.1 506.75 L618.25 507.01 L618.4 507.17 L618.55 507.26 L618.7 507.29 L618.85 507.3 L619 507.3 L619.15 507.3 L619.3 507.3 L619.45 507.3 L619.6 507.3 L619.75 507.3 L619.9 507.3 L620.05 507.3 L620.2 507.3 L620.35 507.3 L620.5 507.3 L620.65 507.3 L620.8 507.3 L620.95 507.3 L621.1 507.3 L621.25 507.3 L621.4 507.3 L621.55 507.3 L621.7 507.3 L621.85 507.29 L622 507.24 L622.15 507.13 L622.3 506.94 L622.45 506.65 L622.6 506.25 L622.75 505.75 L622.9 505.15 L623.05 504.47 L623.2 503.7 L623.35 502.86 L623.5 501.95 L623.65 500.99 L623.8 499.99 L623.95 498.95 L624.1 497.89 L624.25 496.83 L624.4 495.76 L624.55 494.72 L624.7 493.7 L624.85 492.71 L625 491.78 L625.15 490.9 L625.3 490.1 L625.45 489.37 L625.6 488.73 L625.75 488.18 L625.9 487.74 L626.05 487.39 L626.2 487.16 L626.35 487.03 L626.5 487.02 L626.65 487.12 L626.8 487.34 L626.95 487.66 L627.1 488.09 L627.25 488.61 L627.4 489.24 L627.55 489.95 L627.7 490.74 L627.85 491.6 L628 492.52 L628.15 493.5 L628.3 494.51 L628.45 495.55 L628.6 496.61 L628.75 497.68 L628.9 498.74 L629.05 499.78 L629.2 500.79 L629.35 501.76 L629.5 502.68 L629.65 503.54 L629.8 504.32 L629.95 505.02 L630.1 505.64 L630.25 506.16 L630.4 506.57 L630.55 506.89 L630.7 507.09 L630.85 507.22 L631 507.28 L631.15 507.3 L631.3 507.3 L631.45 507.3 L631.6 507.3 L631.75 507.3 L631.9 507.3 L632.05 507.3 L632.2 507.3 L632.35 507.3 L632.5 507.3 L632.65 507.3 L632.8 507.3 L632.95 507.3 L633.1 507.3 L633.25 507.3 L633.4 507.3 L633.55 507.3 L633.7 507.3 L633.85 507.3 L634 507.3 L634.15 507.3 L634.3 507.27 L634.45 507.19 L634.6 507.05 L634.75 506.81 L634.9 506.47 L635.05 506.03 L635.2 505.48 L635.35 504.84 L635.5 504.12 L635.65 503.31 L635.8 502.44 L635.95 501.51 L636.1 500.53 L636.25 499.51 L636.4 498.46 L636.55 497.4 L636.7 496.33 L636.85 495.27 L637 494.24 L637.15 493.23 L637.3 492.27 L637.45 491.36 L637.6 490.52 L637.75 489.75 L637.9 489.06 L638.05 488.46 L638.2 487.96 L638.35 487.56 L638.5 487.27 L638.65 487.09 L638.8 487.01 L638.95 487.06 L639.1 487.21 L639.25 487.47 L639.4 487.84 L639.55 488.32 L639.7 488.89 L639.85 489.56 L640 490.31 L640.15 491.13 L640.3 492.02 L640.45 492.97 L640.6 493.96 L640.75 494.99 L640.9 496.05 L641.05 497.11 L641.2 498.18 L641.35 499.23 L641.5 500.26 L641.65 501.25 L641.8 502.2 L641.95 503.09 L642.1 503.91 L642.25 504.66 L642.4 505.32 L642.55 505.89 L642.7 506.36 L642.85 506.73 L643 507 L643.15 507.16 L643.3 507.25 L643.45 507.29 L643.6 507.3 L643.75 507.3 L643.9 507.3 L644.05 507.3 L644.2 507.3 L644.35 507.3 L644.5 507.3 L644.65 507.3 L644.8 507.3 L644.95 507.3 L645.1 507.3 L645.25 507.3 L645.4 507.3 L645.55 507.3 L645.7 507.3 L645.85 507.3 L646 507.3 L646.15 507.3 L646.3 507.3 L646.45 507.3 L646.6 507.29 L646.75 507.24 L646.9 507.14 L647.05 506.95 L647.2 506.67 L647.35 506.28 L647.5 505.78 L647.65 505.2 L647.8 504.51 L647.95 503.75 L648.1 502.91 L648.25 502.01 L648.4 501.05 L648.55 500.05 L648.7 499.02 L648.85 497.96 L649 496.9 L649.15 495.83 L649.3 494.79 L649.45 493.76 L649.6 492.78 L649.75 491.84 L649.9 490.96 L650.05 490.15 L650.2 489.42 L650.35 488.77 L650.5 488.22 L650.65 487.76 L650.8 487.41 L650.95 487.17 L651.1 487.04 L651.25 487.02 L651.4 487.11 L651.55 487.32 L651.7 487.63 L651.85 488.05 L652 488.58 L652.15 489.19 L652.3 489.9 L652.45 490.68 L652.6 491.54 L652.75 492.46 L652.9 493.43 L653.05 494.44 L653.2 495.48 L653.35 496.54 L653.5 497.61 L653.65 498.67 L653.8 499.71 L653.95 500.73 L654.1 501.7 L654.25 502.62 L654.4 503.48 L654.55 504.27 L654.7 504.98 L654.85 505.6 L655 506.12 L655.15 506.55 L655.3 506.87 L655.45 507.08 L655.6 507.21 L655.75 507.28 L655.9 507.3 L656.05 507.3 L656.2 507.3 L656.35 507.3 L656.5 507.3 L656.65 507.3 L656.8 507.3 L656.95 507.3 L657.1 507.3 L657.25 507.3 L657.4 507.3 L657.55 507.3 L657.7 507.3 L657.85 507.3 L658 507.3 L658.15 507.3 L658.3 507.3 L658.45 507.3 L658.6 507.3 L658.75 507.3 L658.9 507.3 L659.05 507.27 L659.2 507.2 L659.35 507.06 L659.5 506.83 L659.65 506.5 L659.8 506.06 L659.95 505.52 L660.1 504.89 L660.25 504.17 L660.4 503.37 L660.55 502.5 L660.7 501.57 L660.85 500.59 L661 499.57 L661.15 498.53 L661.3 497.47 L661.45 496.4 L661.6 495.34 L661.75 494.3 L661.9 493.3 L662.05 492.33 L662.2 491.42 L662.35 490.57 L662.5 489.8 L662.65 489.1 L662.8 488.5 L662.95 487.99 L663.1 487.59 L663.25 487.29 L663.4 487.09 L663.55 487.02 L663.7 487.05 L663.85 487.2 L664 487.45 L664.15 487.82 L664.3 488.29 L664.45 488.85 L664.6 489.51 L664.75 490.25 L664.9 491.07 L665.05 491.96 L665.2 492.91 L665.35 493.9 L665.5 494.92 L665.65 495.98 L665.8 497.04 L665.95 498.11 L666.1 499.16 L666.25 500.19 L666.4 501.19 L666.55 502.14 L666.7 503.03 L666.85 503.86 L667 504.61 L667.15 505.28 L667.3 505.86 L667.45 506.34 L667.6 506.71 L667.75 506.98 L667.9 507.15 L668.05 507.25 L668.2 507.29 L668.35 507.3 L668.5 507.3 L668.65 507.3 L668.8 507.3 L668.95 507.3 L669.1 507.3 L669.25 507.3 L669.4 507.3 L669.55 507.3 L669.7 507.3 L669.85 507.3 L670 507.3 L670.15 507.3 L670.3 507.3" fill="none" stroke="#f9a6d4" stroke-width="1.3" stroke-linejoin="round" stroke-linecap="round"/>
<line x1="520.2" y1="478.8" x2="521.5" y2="478.8" stroke="#000" stroke-width="0.7"/>
<text x="517" y="480.4" font-size="4.6" text-anchor="end" font-weight="normal" fill="#000">60</text>
<line x1="520.2" y1="491.3" x2="521.5" y2="491.3" stroke="#000" stroke-width="0.7"/>
<text x="517" y="492.9" font-size="4.6" text-anchor="end" font-weight="normal" fill="#000">40</text>
<line x1="520.2" y1="504.3" x2="521.5" y2="504.3" stroke="#000" stroke-width="0.7"/>
<text x="517" y="505.9" font-size="4.6" text-anchor="end" font-weight="normal" fill="#000">20</text>
<line x1="520.2" y1="517.4" x2="521.5" y2="517.4" stroke="#000" stroke-width="0.7"/>
<text x="517" y="519" font-size="4.6" text-anchor="end" font-weight="normal" fill="#000">0</text>
<text transform="translate(507.9 497.9) rotate(-90)" font-size="4.6" text-anchor="middle" fill="#111">Current(mA)</text>
<rect x="497" y="385.25" width="178.6" height="139.55" fill="none" stroke="#000" stroke-width="1.4"/>
<text transform="translate(467.24 454.2) rotate(-90) scale(1.17 1)" font-size="7.6" text-anchor="middle" font-weight="bold">Current(mA)</text>
<text x="595.5" y="550.1" font-size="8.6" text-anchor="middle" font-weight="bold" fill="#000">Time(s)</text>
<text x="460.6" y="389.5" font-size="14.6" text-anchor="start" font-weight="bold" fill="#000">i</text>
</svg></body></html>
